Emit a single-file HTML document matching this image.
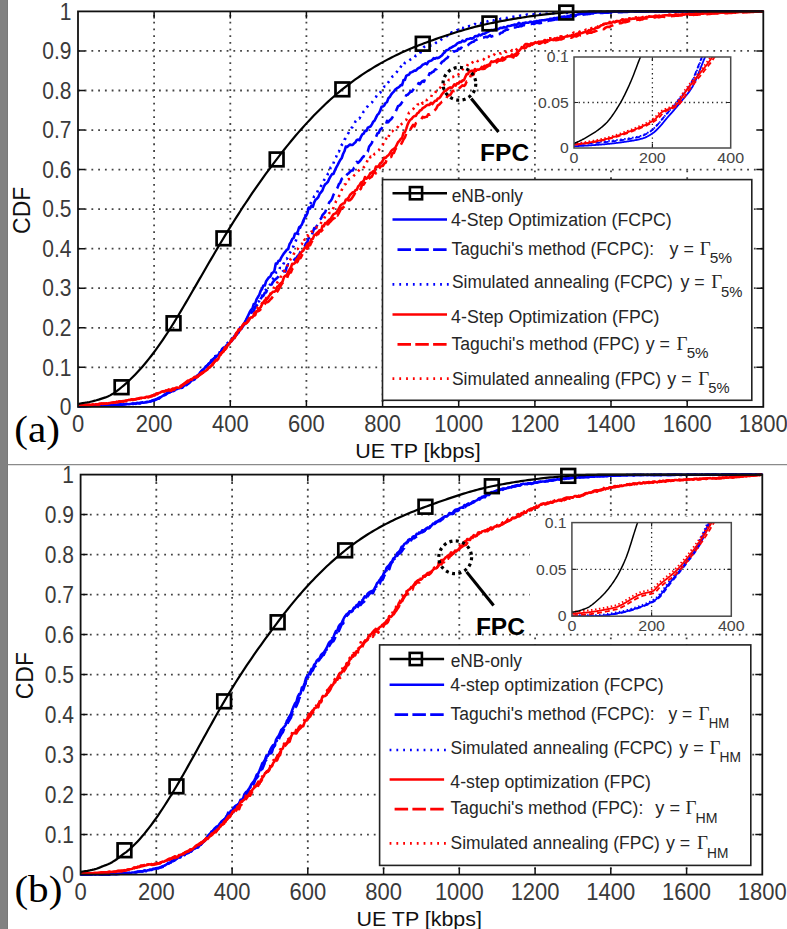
<!DOCTYPE html><html><head><meta charset="utf-8"><style>html,body{margin:0;padding:0;background:#fff;}svg{display:block;}</style></head><body>
<svg width="787" height="929" viewBox="0 0 787 929">
<rect width="787" height="929" fill="#fff"/>
<rect x="0" y="0" width="7" height="929" fill="#818181"/><rect x="7" y="0" width="1" height="929" fill="#797979"/>
<path d="M7.6 464.6 H787" stroke="#8a8a8a" stroke-width="1.2"/>
<path d="M154.1 406.9 V11.4 M230.3 406.9 V11.4 M306.4 406.9 V11.4 M382.6 406.9 V11.4 M458.7 406.9 V11.4 M534.9 406.9 V11.4 M611.0 406.9 V11.4 M687.2 406.9 V11.4" stroke="#444" stroke-width="1.8" stroke-dasharray="1.8 4.96" stroke-dashoffset="1.90" fill="none"/>
<path d="M78.0 367.3 H763.3 M78.0 327.8 H763.3 M78.0 288.2 H763.3 M78.0 248.7 H763.3 M78.0 209.1 H763.3 M78.0 169.6 H763.3 M78.0 130.1 H763.3 M78.0 90.5 H763.3 M78.0 50.9 H763.3" stroke="#444" stroke-width="1.8" stroke-dasharray="1.8 4.96" stroke-dashoffset="0.10" fill="none"/>
<path d="M154.1 406.9 v-7 M154.1 11.4 v7 M230.3 406.9 v-7 M230.3 11.4 v7 M306.4 406.9 v-7 M306.4 11.4 v7 M382.6 406.9 v-7 M382.6 11.4 v7 M458.7 406.9 v-7 M458.7 11.4 v7 M534.9 406.9 v-7 M534.9 11.4 v7 M611.0 406.9 v-7 M611.0 11.4 v7 M687.2 406.9 v-7 M687.2 11.4 v7 M78.0 367.3 h7 M763.3 367.3 h-7 M78.0 327.8 h7 M763.3 327.8 h-7 M78.0 288.2 h7 M763.3 288.2 h-7 M78.0 248.7 h7 M763.3 248.7 h-7 M78.0 209.1 h7 M763.3 209.1 h-7 M78.0 169.6 h7 M763.3 169.6 h-7 M78.0 130.1 h7 M763.3 130.1 h-7 M78.0 90.5 h7 M763.3 90.5 h-7 M78.0 50.9 h7 M763.3 50.9 h-7" stroke="#111" stroke-width="1.5" fill="none"/>
<g fill="none" stroke-linejoin="round">
<path d="M78.00 405.95 L79.37 406.04 L80.75 405.95 L82.12 405.80 L83.49 405.79 L84.87 406.03 L86.24 405.80 L87.61 405.87 L88.99 405.82 L90.36 405.73 L91.73 405.71 L93.11 405.52 L94.48 405.55 L95.85 405.57 L97.23 405.49 L98.60 405.45 L99.97 405.26 L101.35 405.41 L102.72 405.29 L104.09 405.39 L105.47 405.56 L106.84 405.09 L108.21 405.00 L109.59 405.16 L110.96 404.69 L112.33 405.15 L113.71 404.88 L115.08 404.85 L116.45 404.53 L117.83 404.47 L119.20 404.59 L120.57 404.49 L121.95 404.61 L123.32 404.70 L124.69 404.36 L126.07 404.20 L127.44 403.93 L128.81 403.84 L130.19 404.01 L131.56 403.89 L132.93 403.92 L134.31 403.87 L135.68 403.80 L137.05 403.00 L138.43 403.31 L139.80 403.15 L141.17 403.15 L142.55 402.57 L143.92 402.87 L145.29 402.38 L146.67 402.28 L148.04 401.73 L149.41 401.63 L150.79 401.45 L152.16 400.81 L153.53 400.30 L154.91 399.96 L156.28 399.38 L157.65 399.01 L159.03 398.21 L160.40 397.51 L161.77 396.58 L163.15 395.87 L164.52 395.33 L165.89 393.86 L167.27 393.30 L168.64 393.07 L170.01 391.66 L171.39 391.59 L172.76 390.65 L174.13 389.82 L175.51 389.51 L176.88 388.53 L178.25 388.94 L179.63 387.66 L181.00 387.48 L182.37 386.89 L183.75 386.06 L185.12 385.22 L186.49 384.30 L187.87 384.07 L189.24 382.27 L190.61 381.58 L191.99 381.60 L193.36 379.07 L194.73 377.69 L196.11 376.76 L197.48 376.11 L198.85 375.16 L200.23 372.51 L201.60 371.82 L202.97 369.39 L204.35 368.48 L205.72 366.58 L207.09 365.52 L208.47 363.87 L209.84 362.88 L211.21 360.35 L212.59 359.98 L213.96 358.38 L215.33 355.99 L216.71 356.70 L218.08 355.23 L219.45 352.29 L220.83 352.31 L222.20 348.70 L223.57 348.88 L224.95 347.64 L226.32 344.24 L227.69 343.03 L229.07 341.21 L230.44 340.35 L231.81 340.09 L233.19 336.41 L234.56 336.43 L235.93 333.96 L237.31 332.17 L238.68 331.31 L240.05 328.96 L241.43 326.94 L242.80 325.54 L244.17 324.83 L245.55 321.74 L246.92 318.89 L248.29 318.49 L249.67 315.93 L251.04 314.03 L252.42 309.93 L253.79 308.72 L255.16 306.72 L256.54 305.50 L257.91 302.12 L259.28 300.94 L260.66 298.07 L262.03 296.43 L263.40 293.04 L264.78 290.93 L266.15 289.46 L267.52 286.77 L268.90 286.04 L270.27 284.35 L271.64 280.56 L273.02 278.81 L274.39 276.39 L275.76 272.78 L277.14 272.13 L278.51 271.87 L279.88 267.94 L281.26 268.18 L282.63 265.28 L284.00 262.76 L285.38 258.85 L286.75 258.92 L288.12 256.65 L289.50 253.51 L290.87 251.51 L292.24 247.13 L293.62 246.38 L294.99 243.29 L296.36 239.23 L297.74 235.76 L299.11 229.74 L300.48 227.01 L301.86 224.16 L303.23 221.82 L304.60 216.25 L305.98 214.70 L307.35 212.08 L308.72 206.47 L310.10 204.55 L311.47 201.28 L312.84 199.29 L314.22 196.25 L315.59 195.28 L316.96 193.26 L318.34 189.20 L319.71 188.31 L321.08 185.86 L322.46 183.28 L323.83 180.45 L325.20 178.41 L326.58 176.96 L327.95 173.73 L329.32 172.68 L330.70 167.23 L332.07 166.57 L333.44 163.19 L334.82 159.13 L336.19 156.93 L337.56 151.82 L338.94 151.62 L340.31 147.36 L341.68 145.00 L343.06 143.57 L344.43 139.72 L345.80 138.21 L347.18 135.15 L348.55 132.84 L349.92 129.36 L351.30 127.86 L352.67 127.11 L354.04 124.75 L355.42 121.50 L356.79 120.00 L358.16 118.23 L359.54 118.46 L360.91 115.30 L362.28 114.15 L363.66 111.49 L365.03 110.05 L366.40 107.45 L367.78 106.24 L369.15 104.17 L370.52 103.59 L371.90 102.43 L373.27 100.52 L374.64 98.77 L376.02 96.97 L377.39 93.86 L378.76 93.93 L380.14 92.77 L381.51 90.43 L382.88 88.84 L384.26 86.63 L385.63 86.80 L387.00 84.09 L388.38 82.29 L389.75 80.14 L391.12 78.60 L392.50 76.47 L393.87 75.74 L395.24 73.61 L396.62 72.25 L397.99 70.18 L399.36 69.80 L400.74 66.89 L402.11 64.84 L403.48 65.76 L404.86 62.75 L406.23 61.50 L407.60 61.46 L408.98 60.50 L410.35 59.56 L411.72 58.88 L413.10 58.00 L414.47 57.97 L415.84 55.29 L417.22 54.39 L418.59 54.49 L419.96 53.66 L421.34 50.67 L422.71 49.18 L424.08 46.92 L425.46 46.23 L426.83 45.21 L428.20 44.88 L429.58 45.41 L430.95 45.49 L432.32 45.22 L433.70 43.47 L435.07 43.68 L436.44 42.45 L437.82 41.62 L439.19 40.53 L440.56 40.72 L441.94 38.85 L443.31 37.88 L444.68 37.28 L446.06 36.66 L447.43 35.65 L448.80 34.70 L450.18 35.36 L451.55 32.41 L452.92 32.36 L454.30 32.07 L455.67 31.23 L457.04 30.17 L458.42 29.78 L459.79 29.95 L461.16 27.72 L462.54 28.09 L463.91 27.18 L465.28 27.46 L466.66 26.27 L468.03 26.44 L469.40 26.00 L470.78 26.26 L472.15 25.00 L473.52 24.72 L474.90 24.03 L476.27 24.28 L477.64 23.85 L479.02 22.53 L480.39 23.31 L481.76 22.66 L483.14 21.92 L484.51 21.94 L485.88 21.49 L487.26 21.52 L488.63 21.01 L490.00 21.25 L491.38 20.09 L492.75 20.36 L494.12 20.25 L495.50 19.60 L496.87 19.66 L498.24 19.64 L499.62 19.39 L500.99 18.58 L502.36 18.56 L503.74 18.31 L505.11 17.76 L506.48 18.07 L507.86 17.74 L509.23 17.42 L510.60 17.09 L511.98 16.90 L513.35 16.74 L514.72 16.49 L516.10 16.30 L517.47 16.24 L518.84 16.07 L520.22 15.66 L521.59 15.73 L522.96 15.61 L524.34 15.29 L525.71 15.12 L527.08 14.53 L528.46 14.95 L529.83 14.53 L531.20 14.46 L532.58 14.70 L533.95 14.26 L535.32 14.50 L536.70 14.65 L538.07 14.02 L539.44 14.31 L540.82 13.87 L542.19 13.96 L543.56 13.52 L544.94 13.54 L546.31 13.69 L547.68 13.64 L549.06 13.65 L550.43 13.46 L551.80 13.37 L553.18 13.32 L554.55 13.18 L555.92 13.07 L557.30 13.04 L558.67 13.13 L560.04 13.15 L561.42 12.76 L562.79 12.96 L564.16 12.90 L565.54 12.84 L566.91 12.95 L568.28 12.75 L569.66 12.71 L571.03 12.55 L572.40 12.51 L573.78 12.55 L575.15 12.42 L576.52 12.45 L577.90 12.45 L579.27 12.40 L580.64 12.40 L582.02 12.39 L583.39 12.35 L584.76 12.39 L586.14 12.23 L587.51 12.32 L588.88 12.12 L590.26 12.19 L591.63 12.13 L593.01 12.06 L594.38 12.02 L595.75 12.17 L597.13 12.03 L598.50 11.92 L599.87 12.09 L601.25 11.91 L602.62 12.07 L603.99 11.95 L605.37 11.85 L606.74 11.94 L608.11 11.87 L609.49 11.87 L610.86 11.66 L612.23 11.73 L613.61 11.68 L614.98 11.70 L616.35 11.69 L617.73 11.73 L619.10 11.65 L620.47 11.65 L621.85 11.56 L623.22 11.53 L624.59 11.50 L625.97 11.51 L627.34 11.55 L628.71 11.55 L630.09 11.48 L631.46 11.48 L632.83 11.52 L634.21 11.46 L635.58 11.44 L636.95 11.44 L638.33 11.44 L639.70 11.44 L641.07 11.44 L642.45 11.41 L643.82 11.41 L645.19 11.41 L646.57 11.40 L647.94 11.40 L649.31 11.40 L650.69 11.40 L652.06 11.40 L653.43 11.40 L654.81 11.40 L656.18 11.40 L657.55 11.40 L658.93 11.40 L660.30 11.40 L661.67 11.40 L663.05 11.40 L664.42 11.40 L665.79 11.40 L667.17 11.40 L668.54 11.40 L669.91 11.40 L671.29 11.40 L672.66 11.40 L674.03 11.40 L675.41 11.40 L676.78 11.40 L678.15 11.40 L679.53 11.40 L680.90 11.40 L682.27 11.40 L683.65 11.40 L685.02 11.40 L686.39 11.40 L687.77 11.40 L689.14 11.40 L690.51 11.40 L691.89 11.40 L693.26 11.40 L694.63 11.40 L696.01 11.40 L697.38 11.40 L698.75 11.40 L700.13 11.40 L701.50 11.40 L702.87 11.40 L704.25 11.40 L705.62 11.40 L706.99 11.40 L708.37 11.40 L709.74 11.40 L711.11 11.40 L712.49 11.40 L713.86 11.40 L715.23 11.40 L716.61 11.40 L717.98 11.40 L719.35 11.40 L720.73 11.40 L722.10 11.40 L723.47 11.40 L724.85 11.40 L726.22 11.40 L727.59 11.40 L728.97 11.40 L730.34 11.40 L731.71 11.40 L733.09 11.40 L734.46 11.40 L735.83 11.40 L737.21 11.40 L738.58 11.40 L739.95 11.40 L741.33 11.40 L742.70 11.40 L744.07 11.40 L745.45 11.40 L746.82 11.40 L748.19 11.40 L749.57 11.40 L750.94 11.40 L752.31 11.40 L753.69 11.40 L755.06 11.40 L756.43 11.40 L757.81 11.40 L759.18 11.40 L760.55 11.40 L761.93 11.40 L763.30 11.40" stroke="#0000ff" stroke-width="2.6" stroke-dasharray="2.2 4.6"/>
<path d="M78.00 405.97 L79.37 406.13 L80.75 406.09 L82.12 406.11 L83.49 405.89 L84.87 406.16 L86.24 405.72 L87.61 405.93 L88.99 405.78 L90.36 405.80 L91.73 405.57 L93.11 405.91 L94.48 405.67 L95.85 405.63 L97.23 405.41 L98.60 405.62 L99.97 405.46 L101.35 405.49 L102.72 405.33 L104.09 405.21 L105.47 405.37 L106.84 405.02 L108.21 405.00 L109.59 404.99 L110.96 404.88 L112.33 405.04 L113.71 404.90 L115.08 404.95 L116.45 404.79 L117.83 404.61 L119.20 404.72 L120.57 404.61 L121.95 404.58 L123.32 404.52 L124.69 404.42 L126.07 404.23 L127.44 404.32 L128.81 404.00 L130.19 403.66 L131.56 403.71 L132.93 403.77 L134.31 403.78 L135.68 403.63 L137.05 403.04 L138.43 403.21 L139.80 403.19 L141.17 402.87 L142.55 402.30 L143.92 402.52 L145.29 402.20 L146.67 402.02 L148.04 401.89 L149.41 401.77 L150.79 401.26 L152.16 400.86 L153.53 400.26 L154.91 399.76 L156.28 399.22 L157.65 398.75 L159.03 397.85 L160.40 397.53 L161.77 396.06 L163.15 395.43 L164.52 394.84 L165.89 393.75 L167.27 393.18 L168.64 392.05 L170.01 391.26 L171.39 390.40 L172.76 391.22 L174.13 390.69 L175.51 389.76 L176.88 388.93 L178.25 388.06 L179.63 387.69 L181.00 388.06 L182.37 386.64 L183.75 385.44 L185.12 384.97 L186.49 383.97 L187.87 383.63 L189.24 382.79 L190.61 381.71 L191.99 380.65 L193.36 379.71 L194.73 378.59 L196.11 377.73 L197.48 375.81 L198.85 374.51 L200.23 372.47 L201.60 370.92 L202.97 369.98 L204.35 368.82 L205.72 367.54 L207.09 365.47 L208.47 364.25 L209.84 363.08 L211.21 361.41 L212.59 360.41 L213.96 358.13 L215.33 357.44 L216.71 354.89 L218.08 353.99 L219.45 352.41 L220.83 352.10 L222.20 349.77 L223.57 347.88 L224.95 347.59 L226.32 345.60 L227.69 343.87 L229.07 343.36 L230.44 340.58 L231.81 338.61 L233.19 338.30 L234.56 335.78 L235.93 335.43 L237.31 332.80 L238.68 332.36 L240.05 328.52 L241.43 327.35 L242.80 325.92 L244.17 324.67 L245.55 321.11 L246.92 318.57 L248.29 319.71 L249.67 315.11 L251.04 312.69 L252.42 311.68 L253.79 310.87 L255.16 306.99 L256.54 305.76 L257.91 304.02 L259.28 302.47 L260.66 298.83 L262.03 296.57 L263.40 295.81 L264.78 292.83 L266.15 292.41 L267.52 288.80 L268.90 287.70 L270.27 286.19 L271.64 284.43 L273.02 281.92 L274.39 280.43 L275.76 279.08 L277.14 277.92 L278.51 276.49 L279.88 274.51 L281.26 273.41 L282.63 271.54 L284.00 271.03 L285.38 271.59 L286.75 266.87 L288.12 264.33 L289.50 264.52 L290.87 263.54 L292.24 262.07 L293.62 260.51 L294.99 258.81 L296.36 258.29 L297.74 256.05 L299.11 254.81 L300.48 251.85 L301.86 250.55 L303.23 247.90 L304.60 246.58 L305.98 243.39 L307.35 242.01 L308.72 237.87 L310.10 239.59 L311.47 236.04 L312.84 232.15 L314.22 228.14 L315.59 228.43 L316.96 225.67 L318.34 223.46 L319.71 219.43 L321.08 218.55 L322.46 215.11 L323.83 213.64 L325.20 212.15 L326.58 208.18 L327.95 205.51 L329.32 202.14 L330.70 200.87 L332.07 198.68 L333.44 194.81 L334.82 192.46 L336.19 189.81 L337.56 187.63 L338.94 184.01 L340.31 182.53 L341.68 178.96 L343.06 177.88 L344.43 176.72 L345.80 177.60 L347.18 174.25 L348.55 173.34 L349.92 171.88 L351.30 170.50 L352.67 170.57 L354.04 167.82 L355.42 166.99 L356.79 161.92 L358.16 162.85 L359.54 161.51 L360.91 159.87 L362.28 157.74 L363.66 156.56 L365.03 152.16 L366.40 152.64 L367.78 151.60 L369.15 146.53 L370.52 144.97 L371.90 142.84 L373.27 138.90 L374.64 137.46 L376.02 136.87 L377.39 133.52 L378.76 132.85 L380.14 129.58 L381.51 128.72 L382.88 126.06 L384.26 125.83 L385.63 125.59 L387.00 120.86 L388.38 122.06 L389.75 120.33 L391.12 119.29 L392.50 117.21 L393.87 114.88 L395.24 112.40 L396.62 109.46 L397.99 106.20 L399.36 105.55 L400.74 104.26 L402.11 102.11 L403.48 99.73 L404.86 98.80 L406.23 95.20 L407.60 94.85 L408.98 93.36 L410.35 91.81 L411.72 91.62 L413.10 89.93 L414.47 87.51 L415.84 86.35 L417.22 85.98 L418.59 83.05 L419.96 84.24 L421.34 82.32 L422.71 81.05 L424.08 81.77 L425.46 77.04 L426.83 76.99 L428.20 76.81 L429.58 73.33 L430.95 73.16 L432.32 72.01 L433.70 71.45 L435.07 69.59 L436.44 69.32 L437.82 66.28 L439.19 65.66 L440.56 63.95 L441.94 61.91 L443.31 61.20 L444.68 59.92 L446.06 58.60 L447.43 57.91 L448.80 55.50 L450.18 53.52 L451.55 52.55 L452.92 51.32 L454.30 51.58 L455.67 50.92 L457.04 50.69 L458.42 48.61 L459.79 48.98 L461.16 47.61 L462.54 48.50 L463.91 47.90 L465.28 47.08 L466.66 45.80 L468.03 45.07 L469.40 43.76 L470.78 42.92 L472.15 41.95 L473.52 41.79 L474.90 40.39 L476.27 39.83 L477.64 39.17 L479.02 38.41 L480.39 38.60 L481.76 37.97 L483.14 37.79 L484.51 37.17 L485.88 36.73 L487.26 37.29 L488.63 36.25 L490.00 35.26 L491.38 36.68 L492.75 36.09 L494.12 35.81 L495.50 35.19 L496.87 33.93 L498.24 34.20 L499.62 33.94 L500.99 32.68 L502.36 32.51 L503.74 31.01 L505.11 30.62 L506.48 29.44 L507.86 29.61 L509.23 27.50 L510.60 27.89 L511.98 27.57 L513.35 27.49 L514.72 27.42 L516.10 27.17 L517.47 26.61 L518.84 26.59 L520.22 25.93 L521.59 26.10 L522.96 25.33 L524.34 24.98 L525.71 25.35 L527.08 24.44 L528.46 24.72 L529.83 23.98 L531.20 23.98 L532.58 23.48 L533.95 23.94 L535.32 23.37 L536.70 22.58 L538.07 23.01 L539.44 23.20 L540.82 22.90 L542.19 22.80 L543.56 22.40 L544.94 21.60 L546.31 20.81 L547.68 21.07 L549.06 20.58 L550.43 20.44 L551.80 20.14 L553.18 19.92 L554.55 19.64 L555.92 19.18 L557.30 19.34 L558.67 18.46 L560.04 18.20 L561.42 18.20 L562.79 17.67 L564.16 17.76 L565.54 17.45 L566.91 17.02 L568.28 16.85 L569.66 16.66 L571.03 16.49 L572.40 16.25 L573.78 15.73 L575.15 16.13 L576.52 15.46 L577.90 15.38 L579.27 15.01 L580.64 14.86 L582.02 15.27 L583.39 14.48 L584.76 14.36 L586.14 14.24 L587.51 14.15 L588.88 13.79 L590.26 13.83 L591.63 13.36 L593.01 13.42 L594.38 13.08 L595.75 13.37 L597.13 13.39 L598.50 12.98 L599.87 12.88 L601.25 12.91 L602.62 13.03 L603.99 12.83 L605.37 12.64 L606.74 12.66 L608.11 12.58 L609.49 12.52 L610.86 12.54 L612.23 12.43 L613.61 12.45 L614.98 12.09 L616.35 12.24 L617.73 12.10 L619.10 12.17 L620.47 11.97 L621.85 12.12 L623.22 11.86 L624.59 11.88 L625.97 11.69 L627.34 11.87 L628.71 11.74 L630.09 11.68 L631.46 11.60 L632.83 11.65 L634.21 11.59 L635.58 11.65 L636.95 11.57 L638.33 11.49 L639.70 11.45 L641.07 11.47 L642.45 11.40 L643.82 11.40 L645.19 11.42 L646.57 11.43 L647.94 11.41 L649.31 11.40 L650.69 11.40 L652.06 11.40 L653.43 11.40 L654.81 11.40 L656.18 11.40 L657.55 11.40 L658.93 11.40 L660.30 11.40 L661.67 11.40 L663.05 11.40 L664.42 11.40 L665.79 11.40 L667.17 11.40 L668.54 11.40 L669.91 11.40 L671.29 11.40 L672.66 11.40 L674.03 11.40 L675.41 11.40 L676.78 11.40 L678.15 11.40 L679.53 11.40 L680.90 11.40 L682.27 11.40 L683.65 11.40 L685.02 11.40 L686.39 11.40 L687.77 11.40 L689.14 11.40 L690.51 11.40 L691.89 11.40 L693.26 11.40 L694.63 11.40 L696.01 11.40 L697.38 11.40 L698.75 11.40 L700.13 11.40 L701.50 11.40 L702.87 11.40 L704.25 11.40 L705.62 11.40 L706.99 11.40 L708.37 11.40 L709.74 11.40 L711.11 11.40 L712.49 11.40 L713.86 11.40 L715.23 11.40 L716.61 11.40 L717.98 11.40 L719.35 11.40 L720.73 11.40 L722.10 11.40 L723.47 11.40 L724.85 11.40 L726.22 11.40 L727.59 11.40 L728.97 11.40 L730.34 11.40 L731.71 11.40 L733.09 11.40 L734.46 11.40 L735.83 11.40 L737.21 11.40 L738.58 11.40 L739.95 11.40 L741.33 11.40 L742.70 11.40 L744.07 11.40 L745.45 11.40 L746.82 11.40 L748.19 11.40 L749.57 11.40 L750.94 11.40 L752.31 11.40 L753.69 11.40 L755.06 11.40 L756.43 11.40 L757.81 11.40 L759.18 11.40 L760.55 11.40 L761.93 11.40 L763.30 11.40" stroke="#0000ff" stroke-width="2.6" stroke-dasharray="12 6"/>
<path d="M78.00 406.15 L79.37 406.08 L80.75 406.24 L82.12 405.85 L83.49 406.14 L84.87 406.02 L86.24 405.84 L87.61 405.98 L88.99 405.92 L90.36 405.86 L91.73 405.67 L93.11 405.43 L94.48 405.63 L95.85 405.71 L97.23 405.47 L98.60 405.56 L99.97 405.44 L101.35 405.24 L102.72 405.43 L104.09 405.28 L105.47 405.34 L106.84 405.19 L108.21 405.08 L109.59 405.19 L110.96 405.05 L112.33 404.98 L113.71 404.97 L115.08 404.99 L116.45 404.96 L117.83 404.71 L119.20 404.66 L120.57 404.21 L121.95 404.85 L123.32 404.37 L124.69 404.25 L126.07 404.00 L127.44 404.05 L128.81 404.18 L130.19 403.94 L131.56 403.75 L132.93 403.79 L134.31 403.48 L135.68 403.83 L137.05 403.04 L138.43 402.94 L139.80 403.13 L141.17 402.78 L142.55 402.72 L143.92 402.71 L145.29 402.31 L146.67 401.87 L148.04 401.90 L149.41 401.60 L150.79 401.19 L152.16 400.70 L153.53 400.09 L154.91 400.14 L156.28 399.33 L157.65 398.77 L159.03 398.65 L160.40 397.43 L161.77 396.50 L163.15 395.61 L164.52 394.63 L165.89 394.64 L167.27 393.14 L168.64 392.72 L170.01 392.38 L171.39 391.04 L172.76 390.38 L174.13 390.37 L175.51 389.22 L176.88 389.16 L178.25 388.40 L179.63 388.29 L181.00 386.51 L182.37 387.67 L183.75 385.85 L185.12 384.76 L186.49 385.26 L187.87 383.62 L189.24 382.73 L190.61 381.40 L191.99 380.23 L193.36 380.01 L194.73 379.36 L196.11 376.67 L197.48 375.37 L198.85 374.83 L200.23 372.90 L201.60 371.38 L202.97 369.76 L204.35 368.49 L205.72 366.33 L207.09 366.79 L208.47 363.70 L209.84 362.72 L211.21 361.71 L212.59 359.46 L213.96 360.35 L215.33 356.71 L216.71 355.85 L218.08 355.49 L219.45 353.06 L220.83 352.17 L222.20 348.77 L223.57 347.85 L224.95 347.38 L226.32 346.74 L227.69 345.15 L229.07 343.45 L230.44 342.07 L231.81 340.73 L233.19 338.87 L234.56 336.97 L235.93 335.44 L237.31 333.81 L238.68 332.18 L240.05 327.59 L241.43 328.83 L242.80 326.42 L244.17 323.03 L245.55 321.27 L246.92 318.16 L248.29 315.25 L249.67 312.17 L251.04 309.85 L252.42 308.56 L253.79 303.95 L255.16 303.65 L256.54 299.44 L257.91 297.05 L259.28 294.89 L260.66 290.83 L262.03 289.06 L263.40 285.60 L264.78 285.57 L266.15 281.16 L267.52 279.24 L268.90 277.38 L270.27 276.64 L271.64 273.39 L273.02 272.47 L274.39 270.85 L275.76 263.66 L277.14 263.72 L278.51 260.81 L279.88 260.80 L281.26 257.58 L282.63 255.41 L284.00 253.32 L285.38 251.69 L286.75 249.67 L288.12 249.17 L289.50 244.26 L290.87 242.11 L292.24 239.07 L293.62 238.06 L294.99 233.69 L296.36 233.44 L297.74 231.83 L299.11 227.27 L300.48 226.24 L301.86 224.62 L303.23 220.87 L304.60 217.87 L305.98 216.02 L307.35 213.43 L308.72 207.54 L310.10 208.51 L311.47 205.56 L312.84 206.81 L314.22 202.29 L315.59 199.72 L316.96 198.69 L318.34 197.05 L319.71 193.67 L321.08 192.25 L322.46 190.40 L323.83 186.57 L325.20 184.26 L326.58 183.14 L327.95 181.74 L329.32 178.63 L330.70 176.14 L332.07 174.13 L333.44 173.92 L334.82 170.57 L336.19 167.62 L337.56 165.10 L338.94 162.39 L340.31 159.92 L341.68 158.23 L343.06 154.00 L344.43 151.27 L345.80 146.58 L347.18 146.94 L348.55 145.66 L349.92 144.44 L351.30 144.99 L352.67 144.98 L354.04 143.41 L355.42 142.32 L356.79 139.94 L358.16 139.58 L359.54 140.21 L360.91 136.84 L362.28 134.41 L363.66 133.62 L365.03 130.79 L366.40 130.93 L367.78 127.72 L369.15 127.06 L370.52 126.54 L371.90 124.33 L373.27 121.72 L374.64 120.50 L376.02 117.64 L377.39 114.90 L378.76 113.60 L380.14 110.97 L381.51 106.82 L382.88 106.58 L384.26 105.49 L385.63 102.86 L387.00 102.17 L388.38 98.28 L389.75 97.04 L391.12 94.61 L392.50 92.94 L393.87 91.59 L395.24 89.44 L396.62 88.47 L397.99 87.73 L399.36 86.78 L400.74 85.10 L402.11 85.26 L403.48 80.12 L404.86 79.98 L406.23 75.93 L407.60 75.07 L408.98 74.64 L410.35 72.53 L411.72 72.13 L413.10 71.51 L414.47 70.47 L415.84 70.63 L417.22 69.07 L418.59 67.95 L419.96 67.42 L421.34 66.26 L422.71 64.68 L424.08 64.15 L425.46 63.30 L426.83 64.27 L428.20 61.97 L429.58 61.10 L430.95 60.78 L432.32 59.82 L433.70 58.18 L435.07 58.79 L436.44 57.85 L437.82 58.21 L439.19 57.50 L440.56 56.40 L441.94 55.52 L443.31 53.44 L444.68 52.47 L446.06 50.56 L447.43 50.07 L448.80 49.28 L450.18 47.93 L451.55 47.44 L452.92 46.54 L454.30 45.88 L455.67 45.09 L457.04 43.64 L458.42 42.74 L459.79 42.34 L461.16 42.17 L462.54 40.48 L463.91 41.39 L465.28 41.04 L466.66 39.35 L468.03 39.04 L469.40 38.70 L470.78 38.22 L472.15 38.66 L473.52 38.00 L474.90 36.37 L476.27 35.98 L477.64 36.31 L479.02 34.53 L480.39 35.41 L481.76 34.62 L483.14 33.68 L484.51 33.78 L485.88 32.84 L487.26 32.06 L488.63 31.53 L490.00 30.40 L491.38 30.02 L492.75 30.33 L494.12 29.83 L495.50 29.21 L496.87 29.06 L498.24 29.10 L499.62 28.32 L500.99 27.83 L502.36 28.03 L503.74 27.07 L505.11 27.57 L506.48 27.14 L507.86 25.93 L509.23 26.04 L510.60 25.76 L511.98 25.20 L513.35 25.08 L514.72 24.47 L516.10 24.87 L517.47 24.26 L518.84 22.82 L520.22 23.67 L521.59 24.16 L522.96 23.12 L524.34 22.94 L525.71 22.47 L527.08 22.69 L528.46 22.76 L529.83 21.89 L531.20 21.91 L532.58 22.50 L533.95 21.48 L535.32 21.58 L536.70 20.95 L538.07 21.20 L539.44 20.64 L540.82 20.61 L542.19 20.29 L543.56 20.26 L544.94 20.16 L546.31 19.81 L547.68 19.43 L549.06 19.27 L550.43 18.73 L551.80 18.83 L553.18 18.55 L554.55 17.93 L555.92 18.22 L557.30 17.86 L558.67 17.89 L560.04 17.48 L561.42 16.84 L562.79 16.91 L564.16 16.40 L565.54 16.72 L566.91 16.55 L568.28 15.94 L569.66 16.06 L571.03 15.01 L572.40 15.09 L573.78 15.36 L575.15 14.94 L576.52 14.79 L577.90 14.39 L579.27 14.26 L580.64 13.88 L582.02 13.60 L583.39 13.67 L584.76 13.63 L586.14 13.23 L587.51 13.19 L588.88 12.91 L590.26 12.99 L591.63 12.79 L593.01 12.78 L594.38 12.76 L595.75 12.72 L597.13 12.52 L598.50 12.26 L599.87 12.37 L601.25 12.41 L602.62 12.26 L603.99 12.26 L605.37 12.32 L606.74 12.12 L608.11 11.96 L609.49 12.06 L610.86 12.07 L612.23 11.90 L613.61 11.76 L614.98 11.78 L616.35 11.73 L617.73 11.61 L619.10 11.62 L620.47 11.63 L621.85 11.65 L623.22 11.60 L624.59 11.58 L625.97 11.51 L627.34 11.55 L628.71 11.45 L630.09 11.47 L631.46 11.46 L632.83 11.42 L634.21 11.46 L635.58 11.42 L636.95 11.41 L638.33 11.40 L639.70 11.40 L641.07 11.40 L642.45 11.40 L643.82 11.40 L645.19 11.40 L646.57 11.40 L647.94 11.40 L649.31 11.40 L650.69 11.40 L652.06 11.40 L653.43 11.40 L654.81 11.40 L656.18 11.40 L657.55 11.40 L658.93 11.40 L660.30 11.40 L661.67 11.40 L663.05 11.40 L664.42 11.40 L665.79 11.40 L667.17 11.40 L668.54 11.40 L669.91 11.40 L671.29 11.40 L672.66 11.40 L674.03 11.40 L675.41 11.40 L676.78 11.40 L678.15 11.40 L679.53 11.40 L680.90 11.40 L682.27 11.40 L683.65 11.40 L685.02 11.40 L686.39 11.40 L687.77 11.40 L689.14 11.40 L690.51 11.40 L691.89 11.40 L693.26 11.40 L694.63 11.40 L696.01 11.40 L697.38 11.40 L698.75 11.40 L700.13 11.40 L701.50 11.40 L702.87 11.40 L704.25 11.40 L705.62 11.40 L706.99 11.40 L708.37 11.40 L709.74 11.40 L711.11 11.40 L712.49 11.40 L713.86 11.40 L715.23 11.40 L716.61 11.40 L717.98 11.40 L719.35 11.40 L720.73 11.40 L722.10 11.40 L723.47 11.40 L724.85 11.40 L726.22 11.40 L727.59 11.40 L728.97 11.40 L730.34 11.40 L731.71 11.40 L733.09 11.40 L734.46 11.40 L735.83 11.40 L737.21 11.40 L738.58 11.40 L739.95 11.40 L741.33 11.40 L742.70 11.40 L744.07 11.40 L745.45 11.40 L746.82 11.40 L748.19 11.40 L749.57 11.40 L750.94 11.40 L752.31 11.40 L753.69 11.40 L755.06 11.40 L756.43 11.40 L757.81 11.40 L759.18 11.40 L760.55 11.40 L761.93 11.40 L763.30 11.40" stroke="#0000ff" stroke-width="2.6"/>
<path d="M78.00 405.09 L79.37 405.22 L80.75 405.22 L82.12 405.42 L83.49 405.15 L84.87 405.10 L86.24 404.99 L87.61 404.99 L88.99 404.82 L90.36 404.80 L91.73 404.83 L93.11 404.40 L94.48 404.30 L95.85 404.06 L97.23 404.22 L98.60 404.18 L99.97 404.10 L101.35 404.15 L102.72 403.60 L104.09 403.85 L105.47 403.73 L106.84 403.41 L108.21 402.94 L109.59 403.01 L110.96 403.09 L112.33 402.86 L113.71 402.40 L115.08 402.37 L116.45 402.30 L117.83 401.98 L119.20 401.56 L120.57 401.06 L121.95 401.59 L123.32 401.23 L124.69 401.06 L126.07 401.24 L127.44 400.65 L128.81 400.46 L130.19 399.68 L131.56 399.79 L132.93 399.97 L134.31 399.15 L135.68 399.21 L137.05 399.38 L138.43 398.84 L139.80 398.61 L141.17 398.46 L142.55 397.95 L143.92 398.38 L145.29 397.52 L146.67 396.84 L148.04 396.59 L149.41 396.19 L150.79 395.85 L152.16 395.36 L153.53 395.79 L154.91 394.60 L156.28 394.94 L157.65 393.87 L159.03 393.71 L160.40 392.01 L161.77 391.35 L163.15 391.48 L164.52 390.35 L165.89 390.98 L167.27 390.37 L168.64 390.11 L170.01 390.34 L171.39 389.48 L172.76 388.58 L174.13 389.46 L175.51 388.29 L176.88 388.28 L178.25 386.87 L179.63 386.67 L181.00 385.74 L182.37 384.82 L183.75 384.04 L185.12 383.86 L186.49 381.63 L187.87 382.13 L189.24 380.57 L190.61 379.64 L191.99 379.64 L193.36 378.42 L194.73 377.15 L196.11 377.00 L197.48 376.64 L198.85 376.87 L200.23 374.93 L201.60 373.79 L202.97 372.78 L204.35 372.02 L205.72 370.20 L207.09 369.63 L208.47 368.19 L209.84 366.50 L211.21 366.12 L212.59 364.41 L213.96 361.43 L215.33 360.72 L216.71 360.53 L218.08 358.13 L219.45 356.04 L220.83 353.88 L222.20 352.86 L223.57 351.55 L224.95 349.90 L226.32 347.11 L227.69 345.50 L229.07 344.25 L230.44 342.17 L231.81 340.48 L233.19 337.79 L234.56 337.02 L235.93 334.31 L237.31 332.23 L238.68 330.74 L240.05 330.03 L241.43 326.62 L242.80 326.56 L244.17 324.03 L245.55 323.36 L246.92 322.57 L248.29 319.38 L249.67 317.75 L251.04 316.48 L252.42 314.62 L253.79 313.84 L255.16 312.35 L256.54 310.30 L257.91 306.94 L259.28 306.28 L260.66 305.82 L262.03 303.26 L263.40 302.51 L264.78 300.82 L266.15 297.96 L267.52 297.44 L268.90 296.70 L270.27 294.21 L271.64 291.46 L273.02 289.53 L274.39 286.56 L275.76 286.28 L277.14 282.78 L278.51 280.78 L279.88 278.94 L281.26 275.60 L282.63 273.43 L284.00 272.19 L285.38 267.84 L286.75 267.48 L288.12 263.75 L289.50 261.33 L290.87 258.49 L292.24 257.24 L293.62 254.30 L294.99 252.22 L296.36 249.06 L297.74 248.87 L299.11 246.20 L300.48 244.78 L301.86 244.11 L303.23 238.62 L304.60 239.74 L305.98 239.61 L307.35 235.31 L308.72 236.31 L310.10 233.49 L311.47 231.62 L312.84 231.73 L314.22 230.14 L315.59 228.88 L316.96 227.09 L318.34 227.17 L319.71 225.36 L321.08 222.83 L322.46 220.17 L323.83 219.04 L325.20 216.36 L326.58 215.73 L327.95 215.20 L329.32 213.02 L330.70 213.02 L332.07 210.00 L333.44 207.84 L334.82 204.04 L336.19 200.91 L337.56 199.21 L338.94 196.29 L340.31 194.32 L341.68 190.12 L343.06 187.15 L344.43 184.64 L345.80 183.90 L347.18 179.64 L348.55 179.10 L349.92 179.19 L351.30 178.51 L352.67 177.18 L354.04 175.51 L355.42 174.42 L356.79 172.68 L358.16 171.20 L359.54 169.51 L360.91 168.83 L362.28 169.19 L363.66 167.41 L365.03 165.94 L366.40 163.63 L367.78 159.26 L369.15 160.16 L370.52 156.66 L371.90 157.81 L373.27 156.04 L374.64 153.83 L376.02 153.29 L377.39 151.28 L378.76 150.13 L380.14 148.53 L381.51 146.37 L382.88 144.82 L384.26 140.59 L385.63 140.12 L387.00 135.99 L388.38 137.64 L389.75 133.25 L391.12 131.45 L392.50 131.16 L393.87 128.96 L395.24 128.44 L396.62 128.26 L397.99 126.66 L399.36 123.57 L400.74 124.84 L402.11 123.63 L403.48 122.85 L404.86 120.58 L406.23 119.88 L407.60 116.91 L408.98 112.66 L410.35 112.12 L411.72 111.01 L413.10 109.26 L414.47 107.31 L415.84 107.15 L417.22 104.61 L418.59 104.15 L419.96 103.64 L421.34 101.19 L422.71 103.58 L424.08 101.25 L425.46 99.82 L426.83 100.10 L428.20 98.77 L429.58 98.38 L430.95 97.47 L432.32 93.59 L433.70 93.90 L435.07 92.96 L436.44 90.40 L437.82 90.30 L439.19 88.16 L440.56 87.36 L441.94 85.17 L443.31 86.35 L444.68 83.51 L446.06 82.86 L447.43 82.70 L448.80 79.89 L450.18 80.22 L451.55 77.26 L452.92 76.99 L454.30 75.78 L455.67 75.17 L457.04 73.52 L458.42 74.43 L459.79 71.92 L461.16 71.28 L462.54 69.49 L463.91 68.57 L465.28 66.98 L466.66 66.89 L468.03 64.02 L469.40 62.73 L470.78 63.53 L472.15 62.60 L473.52 61.70 L474.90 60.48 L476.27 59.59 L477.64 61.20 L479.02 60.43 L480.39 60.36 L481.76 60.02 L483.14 59.96 L484.51 58.25 L485.88 58.78 L487.26 56.64 L488.63 56.57 L490.00 57.34 L491.38 56.89 L492.75 56.17 L494.12 54.47 L495.50 55.42 L496.87 55.38 L498.24 54.04 L499.62 53.33 L500.99 53.51 L502.36 51.70 L503.74 52.12 L505.11 51.60 L506.48 52.03 L507.86 51.22 L509.23 51.00 L510.60 51.98 L511.98 50.19 L513.35 51.14 L514.72 49.81 L516.10 50.34 L517.47 47.95 L518.84 48.52 L520.22 47.73 L521.59 47.14 L522.96 47.81 L524.34 47.71 L525.71 45.97 L527.08 44.67 L528.46 44.51 L529.83 43.58 L531.20 43.02 L532.58 43.91 L533.95 42.56 L535.32 41.29 L536.70 42.27 L538.07 42.68 L539.44 41.40 L540.82 41.20 L542.19 40.43 L543.56 40.80 L544.94 40.00 L546.31 40.88 L547.68 39.03 L549.06 38.38 L550.43 38.24 L551.80 39.37 L553.18 38.16 L554.55 39.51 L555.92 37.59 L557.30 37.46 L558.67 37.60 L560.04 36.63 L561.42 36.40 L562.79 35.67 L564.16 35.71 L565.54 35.31 L566.91 35.99 L568.28 35.26 L569.66 34.59 L571.03 33.88 L572.40 33.66 L573.78 32.62 L575.15 33.33 L576.52 32.68 L577.90 32.09 L579.27 31.93 L580.64 31.24 L582.02 31.32 L583.39 30.08 L584.76 30.44 L586.14 29.44 L587.51 29.52 L588.88 28.49 L590.26 29.26 L591.63 28.07 L593.01 28.02 L594.38 27.30 L595.75 26.44 L597.13 26.81 L598.50 26.34 L599.87 25.67 L601.25 24.68 L602.62 24.91 L603.99 23.71 L605.37 23.70 L606.74 23.21 L608.11 22.57 L609.49 22.00 L610.86 22.04 L612.23 21.72 L613.61 21.31 L614.98 21.12 L616.35 21.59 L617.73 20.66 L619.10 20.27 L620.47 19.74 L621.85 19.25 L623.22 19.42 L624.59 19.37 L625.97 19.45 L627.34 18.96 L628.71 18.57 L630.09 18.25 L631.46 18.63 L632.83 18.16 L634.21 17.83 L635.58 17.40 L636.95 17.64 L638.33 17.67 L639.70 17.55 L641.07 17.31 L642.45 17.23 L643.82 16.74 L645.19 16.55 L646.57 16.50 L647.94 16.26 L649.31 16.50 L650.69 16.19 L652.06 16.24 L653.43 16.03 L654.81 15.67 L656.18 15.82 L657.55 16.09 L658.93 15.65 L660.30 15.64 L661.67 15.70 L663.05 15.45 L664.42 15.01 L665.79 14.78 L667.17 15.10 L668.54 14.73 L669.91 14.61 L671.29 14.94 L672.66 14.65 L674.03 14.57 L675.41 14.44 L676.78 14.66 L678.15 14.37 L679.53 14.05 L680.90 13.94 L682.27 13.78 L683.65 14.05 L685.02 13.63 L686.39 13.75 L687.77 13.99 L689.14 13.59 L690.51 13.69 L691.89 13.50 L693.26 13.52 L694.63 13.27 L696.01 13.34 L697.38 13.35 L698.75 13.12 L700.13 13.16 L701.50 13.19 L702.87 12.91 L704.25 13.07 L705.62 13.05 L706.99 12.98 L708.37 13.04 L709.74 12.87 L711.11 12.54 L712.49 12.81 L713.86 12.66 L715.23 12.73 L716.61 12.63 L717.98 12.36 L719.35 12.38 L720.73 12.49 L722.10 12.38 L723.47 12.42 L724.85 12.37 L726.22 12.34 L727.59 12.29 L728.97 12.14 L730.34 12.08 L731.71 12.05 L733.09 12.06 L734.46 12.11 L735.83 11.97 L737.21 12.00 L738.58 11.83 L739.95 11.82 L741.33 11.78 L742.70 11.81 L744.07 11.86 L745.45 11.67 L746.82 11.63 L748.19 11.74 L749.57 11.63 L750.94 11.55 L752.31 11.62 L753.69 11.48 L755.06 11.54 L756.43 11.54 L757.81 11.44 L759.18 11.45 L760.55 11.45 L761.93 11.41 L763.30 11.40" stroke="#ff0000" stroke-width="2.6" stroke-dasharray="2.2 4.6"/>
<path d="M78.00 405.31 L79.37 405.21 L80.75 405.36 L82.12 405.09 L83.49 405.17 L84.87 405.26 L86.24 405.07 L87.61 404.82 L88.99 404.77 L90.36 404.90 L91.73 404.54 L93.11 404.55 L94.48 404.37 L95.85 404.28 L97.23 404.41 L98.60 404.06 L99.97 404.11 L101.35 403.62 L102.72 403.64 L104.09 403.64 L105.47 403.70 L106.84 403.37 L108.21 403.19 L109.59 403.30 L110.96 402.45 L112.33 402.63 L113.71 402.18 L115.08 402.57 L116.45 401.78 L117.83 402.23 L119.20 401.87 L120.57 401.39 L121.95 401.29 L123.32 401.64 L124.69 401.13 L126.07 400.43 L127.44 399.89 L128.81 399.96 L130.19 400.05 L131.56 399.55 L132.93 399.85 L134.31 399.19 L135.68 399.48 L137.05 398.89 L138.43 398.71 L139.80 398.21 L141.17 398.29 L142.55 397.61 L143.92 397.76 L145.29 397.18 L146.67 396.91 L148.04 397.43 L149.41 396.53 L150.79 396.19 L152.16 396.10 L153.53 395.36 L154.91 395.39 L156.28 394.10 L157.65 393.47 L159.03 392.90 L160.40 391.48 L161.77 391.72 L163.15 391.38 L164.52 391.32 L165.89 390.60 L167.27 390.81 L168.64 389.67 L170.01 390.18 L171.39 389.59 L172.76 388.55 L174.13 388.56 L175.51 388.56 L176.88 387.64 L178.25 387.65 L179.63 386.54 L181.00 386.03 L182.37 385.52 L183.75 383.96 L185.12 382.77 L186.49 382.46 L187.87 381.99 L189.24 380.95 L190.61 381.13 L191.99 379.53 L193.36 379.04 L194.73 376.71 L196.11 377.28 L197.48 376.99 L198.85 374.84 L200.23 374.50 L201.60 373.44 L202.97 372.38 L204.35 371.36 L205.72 370.63 L207.09 368.74 L208.47 367.82 L209.84 367.20 L211.21 365.69 L212.59 364.77 L213.96 362.55 L215.33 360.71 L216.71 359.16 L218.08 357.52 L219.45 356.29 L220.83 353.40 L222.20 352.81 L223.57 350.84 L224.95 349.25 L226.32 347.11 L227.69 345.47 L229.07 341.96 L230.44 341.27 L231.81 340.98 L233.19 338.23 L234.56 337.17 L235.93 333.65 L237.31 331.53 L238.68 331.25 L240.05 328.78 L241.43 327.86 L242.80 325.83 L244.17 323.28 L245.55 323.49 L246.92 322.77 L248.29 319.78 L249.67 318.55 L251.04 317.06 L252.42 315.41 L253.79 315.50 L255.16 315.25 L256.54 311.41 L257.91 311.32 L259.28 310.68 L260.66 309.34 L262.03 306.05 L263.40 305.53 L264.78 304.08 L266.15 302.25 L267.52 302.20 L268.90 301.20 L270.27 299.54 L271.64 298.32 L273.02 296.12 L274.39 295.15 L275.76 292.77 L277.14 291.65 L278.51 289.65 L279.88 287.31 L281.26 284.86 L282.63 282.87 L284.00 282.26 L285.38 280.17 L286.75 278.78 L288.12 275.27 L289.50 272.63 L290.87 272.45 L292.24 268.99 L293.62 267.82 L294.99 265.47 L296.36 262.95 L297.74 261.35 L299.11 257.97 L300.48 258.18 L301.86 255.37 L303.23 252.84 L304.60 251.83 L305.98 248.64 L307.35 248.70 L308.72 245.46 L310.10 245.22 L311.47 242.30 L312.84 240.03 L314.22 236.76 L315.59 236.28 L316.96 234.18 L318.34 234.15 L319.71 230.61 L321.08 231.42 L322.46 229.93 L323.83 229.45 L325.20 226.49 L326.58 224.20 L327.95 224.40 L329.32 222.67 L330.70 221.30 L332.07 219.71 L333.44 218.50 L334.82 217.78 L336.19 213.60 L337.56 215.43 L338.94 212.90 L340.31 210.13 L341.68 207.95 L343.06 207.62 L344.43 206.15 L345.80 204.27 L347.18 203.02 L348.55 200.33 L349.92 200.12 L351.30 199.05 L352.67 196.98 L354.04 194.86 L355.42 192.19 L356.79 190.27 L358.16 190.70 L359.54 190.21 L360.91 188.60 L362.28 183.63 L363.66 184.61 L365.03 182.27 L366.40 179.37 L367.78 180.45 L369.15 178.53 L370.52 177.48 L371.90 176.59 L373.27 173.41 L374.64 171.85 L376.02 173.40 L377.39 169.27 L378.76 169.04 L380.14 167.22 L381.51 165.80 L382.88 165.85 L384.26 163.49 L385.63 162.73 L387.00 158.52 L388.38 156.81 L389.75 157.35 L391.12 157.04 L392.50 153.26 L393.87 152.94 L395.24 149.46 L396.62 147.54 L397.99 146.04 L399.36 146.13 L400.74 144.76 L402.11 142.42 L403.48 139.47 L404.86 137.56 L406.23 133.52 L407.60 132.09 L408.98 130.91 L410.35 129.54 L411.72 127.01 L413.10 124.88 L414.47 126.46 L415.84 123.26 L417.22 122.57 L418.59 121.91 L419.96 120.58 L421.34 119.24 L422.71 116.82 L424.08 117.50 L425.46 117.00 L426.83 116.82 L428.20 114.26 L429.58 114.76 L430.95 113.33 L432.32 111.65 L433.70 111.11 L435.07 110.07 L436.44 108.15 L437.82 105.46 L439.19 104.66 L440.56 103.15 L441.94 101.84 L443.31 101.35 L444.68 99.65 L446.06 98.88 L447.43 96.19 L448.80 94.94 L450.18 95.14 L451.55 92.78 L452.92 90.81 L454.30 91.06 L455.67 90.48 L457.04 88.59 L458.42 89.39 L459.79 87.67 L461.16 86.44 L462.54 85.36 L463.91 85.83 L465.28 84.85 L466.66 81.46 L468.03 81.73 L469.40 79.46 L470.78 75.33 L472.15 75.17 L473.52 74.66 L474.90 70.19 L476.27 70.81 L477.64 70.76 L479.02 68.61 L480.39 70.19 L481.76 68.62 L483.14 69.05 L484.51 68.66 L485.88 67.43 L487.26 66.64 L488.63 65.74 L490.00 65.16 L491.38 65.63 L492.75 64.62 L494.12 62.53 L495.50 62.68 L496.87 62.32 L498.24 60.86 L499.62 60.27 L500.99 59.85 L502.36 60.59 L503.74 60.06 L505.11 58.90 L506.48 58.19 L507.86 59.28 L509.23 58.36 L510.60 57.80 L511.98 56.61 L513.35 57.50 L514.72 54.62 L516.10 55.69 L517.47 54.64 L518.84 52.58 L520.22 52.26 L521.59 50.86 L522.96 50.15 L524.34 48.37 L525.71 47.90 L527.08 46.29 L528.46 45.64 L529.83 45.85 L531.20 44.48 L532.58 44.56 L533.95 45.62 L535.32 43.93 L536.70 44.57 L538.07 43.41 L539.44 43.81 L540.82 43.21 L542.19 42.45 L543.56 41.31 L544.94 42.84 L546.31 41.94 L547.68 41.66 L549.06 40.65 L550.43 41.09 L551.80 40.49 L553.18 39.78 L554.55 39.83 L555.92 40.19 L557.30 39.95 L558.67 39.62 L560.04 39.16 L561.42 39.42 L562.79 38.75 L564.16 38.17 L565.54 38.41 L566.91 38.14 L568.28 37.48 L569.66 36.96 L571.03 37.72 L572.40 37.27 L573.78 35.89 L575.15 36.24 L576.52 36.47 L577.90 35.60 L579.27 34.62 L580.64 35.36 L582.02 35.22 L583.39 34.58 L584.76 33.42 L586.14 34.14 L587.51 33.27 L588.88 32.72 L590.26 32.55 L591.63 32.63 L593.01 31.83 L594.38 31.67 L595.75 31.00 L597.13 30.75 L598.50 30.39 L599.87 30.67 L601.25 29.15 L602.62 28.92 L603.99 29.15 L605.37 27.78 L606.74 27.10 L608.11 26.72 L609.49 27.07 L610.86 25.94 L612.23 25.57 L613.61 24.93 L614.98 25.27 L616.35 24.03 L617.73 23.63 L619.10 23.30 L620.47 23.21 L621.85 22.92 L623.22 22.26 L624.59 22.15 L625.97 22.15 L627.34 21.64 L628.71 21.25 L630.09 20.83 L631.46 20.79 L632.83 20.91 L634.21 20.57 L635.58 20.12 L636.95 19.86 L638.33 19.43 L639.70 20.02 L641.07 19.47 L642.45 19.37 L643.82 18.57 L645.19 18.45 L646.57 18.38 L647.94 18.07 L649.31 18.24 L650.69 17.80 L652.06 17.75 L653.43 17.58 L654.81 17.48 L656.18 17.08 L657.55 16.91 L658.93 17.36 L660.30 17.03 L661.67 16.77 L663.05 16.54 L664.42 16.91 L665.79 16.65 L667.17 16.40 L668.54 15.85 L669.91 16.31 L671.29 16.11 L672.66 15.94 L674.03 15.85 L675.41 15.71 L676.78 15.66 L678.15 15.60 L679.53 15.42 L680.90 15.33 L682.27 15.23 L683.65 15.15 L685.02 15.37 L686.39 15.03 L687.77 14.96 L689.14 14.77 L690.51 14.71 L691.89 14.49 L693.26 14.84 L694.63 14.65 L696.01 14.52 L697.38 14.59 L698.75 14.46 L700.13 14.41 L701.50 14.36 L702.87 13.84 L704.25 14.16 L705.62 13.84 L706.99 14.15 L708.37 13.91 L709.74 13.98 L711.11 13.76 L712.49 13.50 L713.86 13.39 L715.23 13.50 L716.61 13.48 L717.98 13.48 L719.35 13.35 L720.73 13.15 L722.10 13.48 L723.47 13.24 L724.85 13.25 L726.22 12.93 L727.59 13.15 L728.97 12.82 L730.34 12.99 L731.71 12.92 L733.09 12.56 L734.46 12.55 L735.83 12.69 L737.21 12.71 L738.58 12.56 L739.95 12.34 L741.33 12.34 L742.70 12.36 L744.07 12.17 L745.45 12.04 L746.82 12.18 L748.19 12.04 L749.57 12.03 L750.94 11.84 L752.31 11.85 L753.69 11.84 L755.06 11.83 L756.43 11.64 L757.81 11.64 L759.18 11.56 L760.55 11.52 L761.93 11.45 L763.30 11.40" stroke="#ff0000" stroke-width="2.6" stroke-dasharray="12 6"/>
<path d="M78.00 405.26 L79.37 405.32 L80.75 404.92 L82.12 405.21 L83.49 405.10 L84.87 404.84 L86.24 405.10 L87.61 404.98 L88.99 404.79 L90.36 404.78 L91.73 404.81 L93.11 404.57 L94.48 404.49 L95.85 404.24 L97.23 404.50 L98.60 404.23 L99.97 403.81 L101.35 403.57 L102.72 404.04 L104.09 403.53 L105.47 403.70 L106.84 403.53 L108.21 403.39 L109.59 403.14 L110.96 402.69 L112.33 402.57 L113.71 402.51 L115.08 402.41 L116.45 402.14 L117.83 401.96 L119.20 401.55 L120.57 401.66 L121.95 401.30 L123.32 401.10 L124.69 400.87 L126.07 400.58 L127.44 400.37 L128.81 399.85 L130.19 400.00 L131.56 399.34 L132.93 399.62 L134.31 399.45 L135.68 399.08 L137.05 398.79 L138.43 398.59 L139.80 398.07 L141.17 397.88 L142.55 397.82 L143.92 397.81 L145.29 397.47 L146.67 396.72 L148.04 396.79 L149.41 396.95 L150.79 396.43 L152.16 396.04 L153.53 395.04 L154.91 394.93 L156.28 393.50 L157.65 393.42 L159.03 392.96 L160.40 392.56 L161.77 391.48 L163.15 391.50 L164.52 391.35 L165.89 390.49 L167.27 390.43 L168.64 389.70 L170.01 389.95 L171.39 390.81 L172.76 389.04 L174.13 389.81 L175.51 388.02 L176.88 387.45 L178.25 387.80 L179.63 387.39 L181.00 386.65 L182.37 384.72 L183.75 384.25 L185.12 383.49 L186.49 382.41 L187.87 380.45 L189.24 380.52 L190.61 379.58 L191.99 378.83 L193.36 377.98 L194.73 377.21 L196.11 377.36 L197.48 376.29 L198.85 375.71 L200.23 374.79 L201.60 372.84 L202.97 372.77 L204.35 371.52 L205.72 370.81 L207.09 369.64 L208.47 367.67 L209.84 367.17 L211.21 365.89 L212.59 363.90 L213.96 362.44 L215.33 360.72 L216.71 359.53 L218.08 359.14 L219.45 355.89 L220.83 354.25 L222.20 352.12 L223.57 351.60 L224.95 347.44 L226.32 348.23 L227.69 344.99 L229.07 343.62 L230.44 342.16 L231.81 339.34 L233.19 338.32 L234.56 338.06 L235.93 335.39 L237.31 332.38 L238.68 329.26 L240.05 330.48 L241.43 327.70 L242.80 324.93 L244.17 324.02 L245.55 323.26 L246.92 322.59 L248.29 321.37 L249.67 319.03 L251.04 317.23 L252.42 317.33 L253.79 315.40 L255.16 312.26 L256.54 311.40 L257.91 310.23 L259.28 308.47 L260.66 307.35 L262.03 304.38 L263.40 302.26 L264.78 300.38 L266.15 300.05 L267.52 298.48 L268.90 296.29 L270.27 294.46 L271.64 293.10 L273.02 291.69 L274.39 291.69 L275.76 290.87 L277.14 286.90 L278.51 286.00 L279.88 284.12 L281.26 282.99 L282.63 281.43 L284.00 276.95 L285.38 275.81 L286.75 275.20 L288.12 271.78 L289.50 269.79 L290.87 267.51 L292.24 263.81 L293.62 263.89 L294.99 263.02 L296.36 259.73 L297.74 258.37 L299.11 255.25 L300.48 253.63 L301.86 251.61 L303.23 250.65 L304.60 247.91 L305.98 247.06 L307.35 244.34 L308.72 243.43 L310.10 242.55 L311.47 239.32 L312.84 238.85 L314.22 235.13 L315.59 234.50 L316.96 232.88 L318.34 231.66 L319.71 230.25 L321.08 230.98 L322.46 225.88 L323.83 226.34 L325.20 223.06 L326.58 223.09 L327.95 221.07 L329.32 219.62 L330.70 218.89 L332.07 216.49 L333.44 214.31 L334.82 213.64 L336.19 212.92 L337.56 210.68 L338.94 208.29 L340.31 205.82 L341.68 204.55 L343.06 203.51 L344.43 203.20 L345.80 199.75 L347.18 199.04 L348.55 197.73 L349.92 195.03 L351.30 193.75 L352.67 192.31 L354.04 192.38 L355.42 190.30 L356.79 189.83 L358.16 186.43 L359.54 185.07 L360.91 182.66 L362.28 181.85 L363.66 180.92 L365.03 177.01 L366.40 178.63 L367.78 177.51 L369.15 175.43 L370.52 172.98 L371.90 172.49 L373.27 171.22 L374.64 170.50 L376.02 166.55 L377.39 167.06 L378.76 165.94 L380.14 163.45 L381.51 162.57 L382.88 160.53 L384.26 157.64 L385.63 158.00 L387.00 156.30 L388.38 155.23 L389.75 153.62 L391.12 151.13 L392.50 149.81 L393.87 148.96 L395.24 147.74 L396.62 145.14 L397.99 142.28 L399.36 140.99 L400.74 138.87 L402.11 137.99 L403.48 132.79 L404.86 132.28 L406.23 128.86 L407.60 124.62 L408.98 121.60 L410.35 119.72 L411.72 118.81 L413.10 117.00 L414.47 115.98 L415.84 115.85 L417.22 113.36 L418.59 112.60 L419.96 110.56 L421.34 110.03 L422.71 108.12 L424.08 107.42 L425.46 106.36 L426.83 105.22 L428.20 104.84 L429.58 104.83 L430.95 102.85 L432.32 104.03 L433.70 102.49 L435.07 100.85 L436.44 100.72 L437.82 98.56 L439.19 98.32 L440.56 96.58 L441.94 94.27 L443.31 92.73 L444.68 90.93 L446.06 90.62 L447.43 89.23 L448.80 88.05 L450.18 87.34 L451.55 87.95 L452.92 86.64 L454.30 84.32 L455.67 85.58 L457.04 83.39 L458.42 83.45 L459.79 81.58 L461.16 82.05 L462.54 80.37 L463.91 80.38 L465.28 76.96 L466.66 74.09 L468.03 74.08 L469.40 70.80 L470.78 71.45 L472.15 70.50 L473.52 72.04 L474.90 69.01 L476.27 70.08 L477.64 69.50 L479.02 69.60 L480.39 68.90 L481.76 66.88 L483.14 67.44 L484.51 65.87 L485.88 65.98 L487.26 65.00 L488.63 64.94 L490.00 63.62 L491.38 61.45 L492.75 62.01 L494.12 61.41 L495.50 61.41 L496.87 59.88 L498.24 59.18 L499.62 60.73 L500.99 60.13 L502.36 57.50 L503.74 58.18 L505.11 57.95 L506.48 57.22 L507.86 56.45 L509.23 56.19 L510.60 56.37 L511.98 54.41 L513.35 55.09 L514.72 54.92 L516.10 53.73 L517.47 52.22 L518.84 51.02 L520.22 49.58 L521.59 47.66 L522.96 48.01 L524.34 45.37 L525.71 43.99 L527.08 44.01 L528.46 44.57 L529.83 44.43 L531.20 43.35 L532.58 43.92 L533.95 43.79 L535.32 42.15 L536.70 42.95 L538.07 41.99 L539.44 42.01 L540.82 41.64 L542.19 41.87 L543.56 41.52 L544.94 40.16 L546.31 41.13 L547.68 40.14 L549.06 40.64 L550.43 39.90 L551.80 39.54 L553.18 40.09 L554.55 38.44 L555.92 38.85 L557.30 37.89 L558.67 38.69 L560.04 37.49 L561.42 36.50 L562.79 37.24 L564.16 37.36 L565.54 36.50 L566.91 36.36 L568.28 36.21 L569.66 35.85 L571.03 35.74 L572.40 34.94 L573.78 34.99 L575.15 34.87 L576.52 33.76 L577.90 33.86 L579.27 32.23 L580.64 33.18 L582.02 33.02 L583.39 32.56 L584.76 31.77 L586.14 31.84 L587.51 31.68 L588.88 30.03 L590.26 30.83 L591.63 29.21 L593.01 29.27 L594.38 29.21 L595.75 27.54 L597.13 27.69 L598.50 27.39 L599.87 26.37 L601.25 25.33 L602.62 24.97 L603.99 24.38 L605.37 23.54 L606.74 23.61 L608.11 23.14 L609.49 22.99 L610.86 23.09 L612.23 22.37 L613.61 21.52 L614.98 22.30 L616.35 21.07 L617.73 21.14 L619.10 21.24 L620.47 20.69 L621.85 19.94 L623.22 20.40 L624.59 19.77 L625.97 19.45 L627.34 19.81 L628.71 19.17 L630.09 18.99 L631.46 19.06 L632.83 18.56 L634.21 18.65 L635.58 18.52 L636.95 18.51 L638.33 17.92 L639.70 17.96 L641.07 17.83 L642.45 17.81 L643.82 17.71 L645.19 17.42 L646.57 16.92 L647.94 17.14 L649.31 16.48 L650.69 16.59 L652.06 16.53 L653.43 16.71 L654.81 15.90 L656.18 16.52 L657.55 15.99 L658.93 15.64 L660.30 15.93 L661.67 15.93 L663.05 15.69 L664.42 15.41 L665.79 15.23 L667.17 15.28 L668.54 15.52 L669.91 15.35 L671.29 15.10 L672.66 15.29 L674.03 15.01 L675.41 14.47 L676.78 15.00 L678.15 14.52 L679.53 14.82 L680.90 14.63 L682.27 14.51 L683.65 14.69 L685.02 14.37 L686.39 14.07 L687.77 14.10 L689.14 14.04 L690.51 14.21 L691.89 14.04 L693.26 13.92 L694.63 13.78 L696.01 13.62 L697.38 13.92 L698.75 13.45 L700.13 13.69 L701.50 13.62 L702.87 13.70 L704.25 13.48 L705.62 13.44 L706.99 13.52 L708.37 13.34 L709.74 13.22 L711.11 13.24 L712.49 13.02 L713.86 13.20 L715.23 12.90 L716.61 12.98 L717.98 12.86 L719.35 13.07 L720.73 12.78 L722.10 12.74 L723.47 12.58 L724.85 12.76 L726.22 12.43 L727.59 12.64 L728.97 12.34 L730.34 12.37 L731.71 12.45 L733.09 12.12 L734.46 12.39 L735.83 12.24 L737.21 12.16 L738.58 12.09 L739.95 12.07 L741.33 11.97 L742.70 11.96 L744.07 11.95 L745.45 11.97 L746.82 11.88 L748.19 11.76 L749.57 11.85 L750.94 11.73 L752.31 11.81 L753.69 11.69 L755.06 11.69 L756.43 11.53 L757.81 11.61 L759.18 11.51 L760.55 11.45 L761.93 11.42 L763.30 11.40" stroke="#ff0000" stroke-width="2.6"/>
<path d="M78.00 404.13 L80.29 403.52 L82.58 403.09 L84.88 402.76 L87.17 402.44 L89.46 402.03 L91.75 401.49 L94.04 400.90 L96.34 400.29 L98.63 399.62 L100.92 398.88 L103.21 398.15 L105.50 397.41 L107.80 396.51 L110.09 395.37 L112.38 394.08 L114.67 392.63 L116.96 390.97 L119.26 389.16 L121.55 387.26 L123.84 385.32 L126.13 383.31 L128.42 381.21 L130.72 379.04 L133.01 376.78 L135.30 374.43 L137.59 372.01 L139.88 369.50 L142.18 366.91 L144.47 364.23 L146.76 361.48 L149.05 358.64 L151.34 355.72 L153.64 352.71 L155.93 349.63 L158.22 346.46 L160.51 343.21 L162.80 339.89 L165.09 336.48 L167.39 332.99 L169.68 329.42 L171.97 325.78 L174.26 322.05 L176.55 318.28 L178.85 314.47 L181.14 310.63 L183.43 306.75 L185.72 302.86 L188.01 298.94 L190.31 295.00 L192.60 291.05 L194.89 287.10 L197.18 283.13 L199.47 279.16 L201.77 275.19 L204.06 271.23 L206.35 267.27 L208.64 263.32 L210.93 259.39 L213.23 255.46 L215.52 251.56 L217.81 247.67 L220.10 243.81 L222.39 239.98 L224.69 236.17 L226.98 232.39 L229.27 228.65 L231.56 224.95 L233.85 221.28 L236.15 217.65 L238.44 214.05 L240.73 210.49 L243.02 206.97 L245.31 203.48 L247.61 200.03 L249.90 196.62 L252.19 193.24 L254.48 189.90 L256.77 186.60 L259.07 183.33 L261.36 180.09 L263.65 176.89 L265.94 173.72 L268.23 170.58 L270.53 167.48 L272.82 164.41 L275.11 161.36 L277.40 158.35 L279.69 155.37 L281.99 152.43 L284.28 149.53 L286.57 146.66 L288.86 143.83 L291.15 141.04 L293.45 138.29 L295.74 135.58 L298.03 132.90 L300.32 130.27 L302.61 127.68 L304.91 125.13 L307.20 122.62 L309.49 120.15 L311.78 117.72 L314.07 115.33 L316.37 112.99 L318.66 110.68 L320.95 108.42 L323.24 106.20 L325.53 104.02 L327.83 101.89 L330.12 99.80 L332.41 97.74 L334.70 95.74 L336.99 93.77 L339.28 91.85 L341.58 89.97 L343.87 88.13 L346.16 86.32 L348.45 84.56 L350.74 82.83 L353.04 81.14 L355.33 79.48 L357.62 77.86 L359.91 76.27 L362.20 74.71 L364.50 73.19 L366.79 71.70 L369.08 70.24 L371.37 68.82 L373.66 67.42 L375.96 66.05 L378.25 64.72 L380.54 63.41 L382.83 62.13 L385.12 60.88 L387.42 59.65 L389.71 58.46 L392.00 57.29 L394.29 56.14 L396.58 55.02 L398.88 53.92 L401.17 52.85 L403.46 51.80 L405.75 50.77 L408.04 49.77 L410.34 48.79 L412.63 47.82 L414.92 46.88 L417.21 45.96 L419.50 45.06 L421.80 44.18 L424.09 43.32 L426.38 42.46 L428.67 41.61 L430.96 40.78 L433.26 39.95 L435.55 39.13 L437.84 38.32 L440.13 37.52 L442.42 36.74 L444.72 35.96 L447.01 35.20 L449.30 34.44 L451.59 33.70 L453.88 32.97 L456.18 32.26 L458.47 31.55 L460.76 30.86 L463.05 30.19 L465.34 29.52 L467.64 28.88 L469.93 28.24 L472.22 27.63 L474.51 27.02 L476.80 26.44 L479.10 25.87 L481.39 25.31 L483.68 24.78 L485.97 24.26 L488.26 23.76 L490.56 23.28 L492.85 22.81 L495.14 22.34 L497.43 21.89 L499.72 21.44 L502.02 21.01 L504.31 20.58 L506.60 20.16 L508.89 19.75 L511.18 19.35 L513.47 18.95 L515.77 18.57 L518.06 18.19 L520.35 17.83 L522.64 17.47 L524.93 17.12 L527.23 16.78 L529.52 16.45 L531.81 16.13 L534.10 15.82 L536.39 15.52 L538.69 15.23 L540.98 14.95 L543.27 14.67 L545.56 14.41 L547.85 14.16 L550.15 13.92 L552.44 13.68 L554.73 13.46 L557.02 13.25 L559.31 13.04 L561.61 12.85 L563.90 12.67 L566.19 12.50 L568.48 12.34 L570.77 12.20 L573.07 12.07 L575.36 11.95 L577.65 11.84 L579.94 11.75 L582.23 11.66 L584.53 11.59 L586.82 11.52 L589.11 11.47 L591.40 11.42 L593.69 11.40 L595.99 11.40 L598.28 11.40 L600.57 11.40 L602.86 11.40 L605.15 11.40 L607.45 11.40 L609.74 11.40 L612.03 11.40 L614.32 11.40 L616.61 11.40 L618.91 11.40 L621.20 11.40 L623.49 11.40 L625.78 11.40 L628.07 11.40 L630.37 11.40 L632.66 11.40 L634.95 11.40 L637.24 11.40 L639.53 11.40 L641.83 11.40 L644.12 11.40 L646.41 11.40 L648.70 11.40 L650.99 11.40 L653.29 11.40 L655.58 11.40 L657.87 11.40 L660.16 11.40 L662.45 11.40 L664.75 11.40 L667.04 11.40 L669.33 11.40 L671.62 11.40 L673.91 11.40 L676.21 11.40 L678.50 11.40 L680.79 11.40 L683.08 11.40 L685.37 11.40 L687.66 11.40 L689.96 11.40 L692.25 11.40 L694.54 11.40 L696.83 11.40 L699.12 11.40 L701.42 11.40 L703.71 11.40 L706.00 11.40 L708.29 11.40 L710.58 11.40 L712.88 11.40 L715.17 11.40 L717.46 11.40 L719.75 11.40 L722.04 11.40 L724.34 11.40 L726.63 11.40 L728.92 11.40 L731.21 11.40 L733.50 11.40 L735.80 11.40 L738.09 11.40 L740.38 11.40 L742.67 11.40 L744.96 11.40 L747.26 11.40 L749.55 11.40 L751.84 11.40 L754.13 11.40 L756.42 11.40 L758.72 11.40 L761.01 11.40 L763.30 11.40" stroke="#000" stroke-width="2.2"/>
</g>
<rect x="114.7" y="380.4" width="13.7" height="13.7" fill="none" stroke="#000" stroke-width="2.7"/>
<rect x="166.7" y="316.4" width="13.7" height="13.7" fill="none" stroke="#000" stroke-width="2.7"/>
<rect x="216.6" y="231.5" width="13.7" height="13.7" fill="none" stroke="#000" stroke-width="2.7"/>
<rect x="269.8" y="152.6" width="13.7" height="13.7" fill="none" stroke="#000" stroke-width="2.7"/>
<rect x="335.5" y="82.5" width="13.7" height="13.7" fill="none" stroke="#000" stroke-width="2.7"/>
<rect x="415.9" y="36.9" width="13.7" height="13.7" fill="none" stroke="#000" stroke-width="2.7"/>
<rect x="482.6" y="16.6" width="13.7" height="13.7" fill="none" stroke="#000" stroke-width="2.7"/>
<rect x="559.4" y="5.7" width="13.7" height="13.7" fill="none" stroke="#000" stroke-width="2.7"/>
<rect x="78.0" y="11.4" width="685.3" height="395.5" fill="none" stroke="#111" stroke-width="1.8"/>
<text transform="translate(78.00 432.30) scale(1.000 1.080)" x="0" y="0" font-size="22.0" text-anchor="middle" font-family='"Liberation Sans", sans-serif' fill="#3a3a3a">0</text>
<text transform="translate(154.14 432.30) scale(1.000 1.080)" x="0" y="0" font-size="22.0" text-anchor="middle" font-family='"Liberation Sans", sans-serif' fill="#3a3a3a">200</text>
<text transform="translate(230.29 432.30) scale(1.000 1.080)" x="0" y="0" font-size="22.0" text-anchor="middle" font-family='"Liberation Sans", sans-serif' fill="#3a3a3a">400</text>
<text transform="translate(306.43 432.30) scale(1.000 1.080)" x="0" y="0" font-size="22.0" text-anchor="middle" font-family='"Liberation Sans", sans-serif' fill="#3a3a3a">600</text>
<text transform="translate(382.58 432.30) scale(1.000 1.080)" x="0" y="0" font-size="22.0" text-anchor="middle" font-family='"Liberation Sans", sans-serif' fill="#3a3a3a">800</text>
<text transform="translate(458.72 432.30) scale(1.000 1.080)" x="0" y="0" font-size="22.0" text-anchor="middle" font-family='"Liberation Sans", sans-serif' fill="#3a3a3a">1000</text>
<text transform="translate(534.87 432.30) scale(1.000 1.080)" x="0" y="0" font-size="22.0" text-anchor="middle" font-family='"Liberation Sans", sans-serif' fill="#3a3a3a">1200</text>
<text transform="translate(611.01 432.30) scale(1.000 1.080)" x="0" y="0" font-size="22.0" text-anchor="middle" font-family='"Liberation Sans", sans-serif' fill="#3a3a3a">1400</text>
<text transform="translate(687.16 432.30) scale(1.000 1.080)" x="0" y="0" font-size="22.0" text-anchor="middle" font-family='"Liberation Sans", sans-serif' fill="#3a3a3a">1600</text>
<text transform="translate(763.30 432.30) scale(1.000 1.080)" x="0" y="0" font-size="22.0" text-anchor="middle" font-family='"Liberation Sans", sans-serif' fill="#3a3a3a">1800</text>
<text transform="translate(71.40 415.10) scale(0.955 1.080)" x="0" y="0" font-size="22.0" text-anchor="end" font-family='"Liberation Sans", sans-serif' fill="#3a3a3a">0</text>
<text transform="translate(71.40 375.55) scale(0.955 1.080)" x="0" y="0" font-size="22.0" text-anchor="end" font-family='"Liberation Sans", sans-serif' fill="#3a3a3a">0.1</text>
<text transform="translate(71.40 336.00) scale(0.955 1.080)" x="0" y="0" font-size="22.0" text-anchor="end" font-family='"Liberation Sans", sans-serif' fill="#3a3a3a">0.2</text>
<text transform="translate(71.40 296.45) scale(0.955 1.080)" x="0" y="0" font-size="22.0" text-anchor="end" font-family='"Liberation Sans", sans-serif' fill="#3a3a3a">0.3</text>
<text transform="translate(71.40 256.90) scale(0.955 1.080)" x="0" y="0" font-size="22.0" text-anchor="end" font-family='"Liberation Sans", sans-serif' fill="#3a3a3a">0.4</text>
<text transform="translate(71.40 217.35) scale(0.955 1.080)" x="0" y="0" font-size="22.0" text-anchor="end" font-family='"Liberation Sans", sans-serif' fill="#3a3a3a">0.5</text>
<text transform="translate(71.40 177.80) scale(0.955 1.080)" x="0" y="0" font-size="22.0" text-anchor="end" font-family='"Liberation Sans", sans-serif' fill="#3a3a3a">0.6</text>
<text transform="translate(71.40 138.25) scale(0.955 1.080)" x="0" y="0" font-size="22.0" text-anchor="end" font-family='"Liberation Sans", sans-serif' fill="#3a3a3a">0.7</text>
<text transform="translate(71.40 98.70) scale(0.955 1.080)" x="0" y="0" font-size="22.0" text-anchor="end" font-family='"Liberation Sans", sans-serif' fill="#3a3a3a">0.8</text>
<text transform="translate(71.40 59.15) scale(0.955 1.080)" x="0" y="0" font-size="22.0" text-anchor="end" font-family='"Liberation Sans", sans-serif' fill="#3a3a3a">0.9</text>
<text transform="translate(71.40 19.60) scale(0.955 1.080)" x="0" y="0" font-size="22.0" text-anchor="end" font-family='"Liberation Sans", sans-serif' fill="#3a3a3a">1</text>
<path d="M156.3 874.6 V474.6 M232.1 874.6 V474.6 M307.8 874.6 V474.6 M383.6 874.6 V474.6 M459.3 874.6 V474.6 M535.1 874.6 V474.6 M610.8 874.6 V474.6 M686.6 874.6 V474.6" stroke="#444" stroke-width="1.8" stroke-dasharray="1.8 4.96" stroke-dashoffset="1.36" fill="none"/>
<path d="M80.6 834.6 H762.3 M80.6 794.6 H762.3 M80.6 754.6 H762.3 M80.6 714.6 H762.3 M80.6 674.6 H762.3 M80.6 634.6 H762.3 M80.6 594.6 H762.3 M80.6 554.6 H762.3 M80.6 514.6 H762.3" stroke="#444" stroke-width="1.8" stroke-dasharray="1.8 4.96" stroke-dashoffset="4.26" fill="none"/>
<path d="M156.3 874.6 v-7 M156.3 474.6 v7 M232.1 874.6 v-7 M232.1 474.6 v7 M307.8 874.6 v-7 M307.8 474.6 v7 M383.6 874.6 v-7 M383.6 474.6 v7 M459.3 874.6 v-7 M459.3 474.6 v7 M535.1 874.6 v-7 M535.1 474.6 v7 M610.8 874.6 v-7 M610.8 474.6 v7 M686.6 874.6 v-7 M686.6 474.6 v7 M80.6 834.6 h7 M762.3 834.6 h-7 M80.6 794.6 h7 M762.3 794.6 h-7 M80.6 754.6 h7 M762.3 754.6 h-7 M80.6 714.6 h7 M762.3 714.6 h-7 M80.6 674.6 h7 M762.3 674.6 h-7 M80.6 634.6 h7 M762.3 634.6 h-7 M80.6 594.6 h7 M762.3 594.6 h-7 M80.6 554.6 h7 M762.3 554.6 h-7 M80.6 514.6 h7 M762.3 514.6 h-7" stroke="#111" stroke-width="1.5" fill="none"/>
<g fill="none" stroke-linejoin="round">
<path d="M80.60 874.60 L81.97 874.60 L83.33 874.60 L84.70 874.60 L86.06 874.59 L87.43 874.60 L88.80 874.58 L90.16 874.58 L91.53 874.57 L92.90 874.57 L94.26 874.55 L95.63 874.52 L96.99 874.56 L98.36 874.50 L99.73 874.51 L101.09 874.50 L102.46 874.53 L103.82 874.48 L105.19 874.42 L106.56 874.49 L107.92 874.49 L109.29 874.44 L110.65 874.28 L112.02 874.07 L113.39 874.07 L114.75 873.93 L116.12 873.95 L117.49 873.74 L118.85 873.78 L120.22 873.59 L121.58 873.57 L122.95 873.48 L124.32 873.30 L125.68 873.26 L127.05 872.92 L128.41 872.93 L129.78 872.76 L131.15 872.72 L132.51 872.33 L133.88 872.46 L135.25 872.08 L136.61 872.06 L137.98 871.97 L139.34 871.70 L140.71 871.56 L142.08 871.25 L143.44 871.06 L144.81 870.72 L146.17 870.44 L147.54 870.36 L148.91 870.10 L150.27 869.78 L151.64 869.70 L153.01 869.14 L154.37 868.81 L155.74 868.64 L157.10 867.75 L158.47 867.74 L159.84 867.60 L161.20 867.21 L162.57 866.62 L163.93 866.06 L165.30 864.87 L166.67 864.67 L168.03 863.69 L169.40 863.03 L170.76 861.67 L172.13 861.75 L173.50 860.60 L174.86 859.77 L176.23 858.86 L177.60 858.05 L178.96 857.57 L180.33 856.32 L181.69 855.84 L183.06 854.15 L184.43 855.10 L185.79 853.38 L187.16 853.35 L188.52 852.44 L189.89 850.34 L191.26 849.66 L192.62 850.62 L193.99 849.06 L195.36 848.19 L196.72 848.40 L198.09 846.45 L199.45 845.24 L200.82 844.23 L202.19 844.11 L203.55 840.93 L204.92 839.79 L206.28 838.30 L207.65 837.04 L209.02 834.57 L210.38 832.92 L211.75 832.30 L213.11 830.49 L214.48 828.59 L215.85 828.95 L217.21 826.22 L218.58 826.17 L219.95 824.15 L221.31 821.85 L222.68 820.90 L224.04 819.71 L225.41 818.26 L226.78 816.08 L228.14 814.78 L229.51 814.44 L230.87 812.24 L232.24 811.34 L233.61 807.75 L234.97 808.58 L236.34 806.73 L237.71 805.19 L239.07 803.66 L240.44 801.57 L241.80 799.77 L243.17 799.51 L244.54 796.90 L245.90 795.65 L247.27 791.66 L248.63 788.59 L250.00 787.29 L251.37 785.89 L252.73 782.98 L254.10 781.29 L255.46 777.56 L256.83 775.90 L258.20 774.15 L259.56 772.40 L260.93 769.43 L262.30 766.06 L263.66 764.92 L265.03 761.55 L266.39 757.71 L267.76 756.50 L269.13 752.31 L270.49 750.42 L271.86 749.64 L273.22 748.27 L274.59 744.67 L275.96 742.69 L277.32 739.49 L278.69 735.91 L280.06 736.09 L281.42 732.95 L282.79 729.80 L284.15 726.53 L285.52 724.61 L286.89 722.14 L288.25 718.64 L289.62 716.83 L290.98 714.86 L292.35 711.79 L293.72 709.63 L295.08 705.37 L296.45 701.87 L297.82 702.60 L299.18 695.24 L300.55 693.31 L301.91 689.62 L303.28 686.30 L304.65 686.21 L306.01 682.17 L307.38 678.50 L308.74 676.30 L310.11 672.76 L311.48 671.23 L312.84 670.24 L314.21 665.82 L315.57 663.31 L316.94 661.87 L318.31 661.19 L319.67 658.78 L321.04 655.98 L322.41 653.90 L323.77 651.48 L325.14 650.79 L326.50 649.92 L327.87 647.20 L329.24 644.00 L330.60 641.77 L331.97 638.24 L333.33 638.19 L334.70 635.79 L336.07 633.74 L337.43 631.37 L338.80 627.55 L340.17 625.31 L341.53 623.25 L342.90 621.61 L344.26 618.40 L345.63 616.62 L347.00 613.34 L348.36 612.31 L349.73 613.17 L351.09 610.16 L352.46 610.72 L353.83 608.90 L355.19 606.69 L356.56 607.56 L357.92 605.19 L359.29 605.12 L360.66 604.59 L362.02 600.56 L363.39 600.17 L364.76 599.68 L366.12 599.08 L367.49 596.66 L368.85 593.70 L370.22 593.13 L371.59 592.33 L372.95 590.99 L374.32 588.57 L375.68 588.24 L377.05 583.75 L378.42 582.55 L379.78 579.94 L381.15 579.46 L382.52 576.18 L383.88 574.19 L385.25 573.85 L386.61 570.10 L387.98 567.65 L389.35 566.13 L390.71 563.77 L392.08 561.09 L393.44 559.63 L394.81 558.70 L396.18 555.77 L397.54 554.48 L398.91 552.90 L400.27 551.44 L401.64 549.53 L403.01 548.35 L404.37 546.82 L405.74 544.68 L407.11 541.40 L408.47 542.21 L409.84 539.21 L411.20 539.76 L412.57 539.06 L413.94 537.81 L415.30 536.39 L416.67 534.78 L418.03 535.62 L419.40 532.32 L420.77 531.79 L422.13 531.80 L423.50 531.02 L424.87 530.58 L426.23 528.63 L427.60 528.10 L428.96 526.31 L430.33 526.83 L431.70 525.11 L433.06 524.61 L434.43 524.26 L435.79 521.58 L437.16 521.77 L438.53 520.68 L439.89 520.90 L441.26 519.83 L442.63 518.49 L443.99 518.09 L445.36 516.55 L446.72 515.85 L448.09 515.80 L449.46 514.42 L450.82 513.76 L452.19 513.08 L453.55 512.90 L454.92 511.95 L456.29 510.60 L457.65 509.41 L459.02 509.80 L460.38 507.86 L461.75 507.73 L463.12 507.82 L464.48 506.27 L465.85 505.29 L467.22 504.95 L468.58 503.20 L469.95 503.59 L471.31 502.62 L472.68 502.40 L474.05 501.23 L475.41 502.23 L476.78 500.75 L478.14 499.77 L479.51 498.61 L480.88 498.02 L482.24 496.86 L483.61 496.46 L484.98 495.80 L486.34 495.26 L487.71 494.44 L489.07 493.52 L490.44 492.95 L491.81 492.35 L493.17 492.30 L494.54 492.00 L495.90 491.44 L497.27 490.67 L498.64 489.76 L500.00 489.88 L501.37 489.39 L502.73 489.82 L504.10 487.83 L505.47 488.85 L506.83 487.43 L508.20 487.92 L509.57 487.03 L510.93 486.74 L512.30 486.66 L513.66 486.41 L515.03 486.35 L516.40 485.75 L517.76 485.08 L519.13 485.05 L520.49 485.19 L521.86 484.30 L523.23 484.81 L524.59 484.15 L525.96 484.27 L527.33 484.02 L528.69 483.27 L530.06 483.53 L531.42 483.64 L532.79 483.17 L534.16 482.61 L535.52 482.85 L536.89 482.12 L538.25 482.00 L539.62 482.07 L540.99 481.58 L542.35 481.22 L543.72 482.03 L545.08 481.02 L546.45 480.97 L547.82 481.01 L549.18 480.57 L550.55 480.44 L551.92 480.47 L553.28 479.79 L554.65 479.92 L556.01 479.49 L557.38 479.63 L558.75 479.74 L560.11 479.15 L561.48 479.08 L562.84 479.12 L564.21 479.03 L565.58 478.41 L566.94 478.13 L568.31 477.96 L569.68 477.99 L571.04 477.95 L572.41 477.79 L573.77 477.70 L575.14 477.46 L576.51 477.58 L577.87 477.62 L579.24 477.36 L580.60 477.21 L581.97 477.20 L583.34 477.08 L584.70 476.66 L586.07 476.79 L587.44 477.05 L588.80 476.67 L590.17 477.00 L591.53 476.53 L592.90 476.48 L594.27 476.47 L595.63 476.53 L597.00 476.46 L598.36 476.21 L599.73 476.27 L601.10 476.02 L602.46 476.14 L603.83 476.04 L605.19 475.85 L606.56 475.88 L607.93 475.84 L609.29 475.74 L610.66 475.67 L612.03 475.67 L613.39 475.58 L614.76 475.57 L616.12 475.47 L617.49 475.43 L618.86 475.37 L620.22 475.30 L621.59 475.42 L622.95 475.41 L624.32 475.28 L625.69 475.24 L627.05 475.16 L628.42 475.25 L629.79 475.12 L631.15 475.08 L632.52 475.20 L633.88 475.04 L635.25 474.95 L636.62 475.02 L637.98 475.07 L639.35 475.04 L640.71 475.00 L642.08 475.02 L643.45 475.17 L644.81 474.88 L646.18 474.99 L647.54 474.96 L648.91 474.89 L650.28 474.92 L651.64 474.95 L653.01 474.92 L654.38 474.88 L655.74 474.87 L657.11 474.91 L658.47 474.84 L659.84 474.84 L661.21 474.90 L662.57 474.92 L663.94 474.84 L665.30 474.82 L666.67 474.87 L668.04 474.86 L669.40 474.80 L670.77 474.81 L672.14 474.75 L673.50 474.79 L674.87 474.70 L676.23 474.77 L677.60 474.83 L678.97 474.79 L680.33 474.78 L681.70 474.84 L683.06 474.74 L684.43 474.76 L685.80 474.76 L687.16 474.77 L688.53 474.79 L689.89 474.75 L691.26 474.77 L692.63 474.73 L693.99 474.75 L695.36 474.77 L696.73 474.71 L698.09 474.70 L699.46 474.69 L700.82 474.70 L702.19 474.65 L703.56 474.71 L704.92 474.65 L706.29 474.71 L707.65 474.70 L709.02 474.69 L710.39 474.68 L711.75 474.63 L713.12 474.68 L714.49 474.69 L715.85 474.64 L717.22 474.65 L718.58 474.68 L719.95 474.64 L721.32 474.62 L722.68 474.65 L724.05 474.61 L725.41 474.61 L726.78 474.65 L728.15 474.62 L729.51 474.66 L730.88 474.62 L732.25 474.64 L733.61 474.61 L734.98 474.63 L736.34 474.60 L737.71 474.63 L739.08 474.62 L740.44 474.62 L741.81 474.61 L743.17 474.62 L744.54 474.60 L745.91 474.61 L747.27 474.60 L748.64 474.61 L750.00 474.61 L751.37 474.60 L752.74 474.61 L754.10 474.60 L755.47 474.60 L756.84 474.60 L758.20 474.60 L759.57 474.60 L760.93 474.60 L762.30 474.60" stroke="#0000ff" stroke-width="2.6" stroke-dasharray="2.2 4.6"/>
<path d="M80.60 874.60 L81.97 874.60 L83.33 874.60 L84.70 874.60 L86.06 874.59 L87.43 874.59 L88.80 874.59 L90.16 874.57 L91.53 874.57 L92.90 874.59 L94.26 874.58 L95.63 874.56 L96.99 874.52 L98.36 874.52 L99.73 874.56 L101.09 874.54 L102.46 874.47 L103.82 874.43 L105.19 874.47 L106.56 874.47 L107.92 874.36 L109.29 874.37 L110.65 874.25 L112.02 874.13 L113.39 874.10 L114.75 874.05 L116.12 873.90 L117.49 873.92 L118.85 873.77 L120.22 873.70 L121.58 873.56 L122.95 873.48 L124.32 873.33 L125.68 873.24 L127.05 873.07 L128.41 872.95 L129.78 872.78 L131.15 872.48 L132.51 872.74 L133.88 872.16 L135.25 872.22 L136.61 872.20 L137.98 871.84 L139.34 871.60 L140.71 871.23 L142.08 871.41 L143.44 870.96 L144.81 870.76 L146.17 870.89 L147.54 870.57 L148.91 869.96 L150.27 869.69 L151.64 869.34 L153.01 869.18 L154.37 868.92 L155.74 868.66 L157.10 868.05 L158.47 868.19 L159.84 867.61 L161.20 867.01 L162.57 867.00 L163.93 865.53 L165.30 865.45 L166.67 864.47 L168.03 862.96 L169.40 863.13 L170.76 862.22 L172.13 860.68 L173.50 860.87 L174.86 859.89 L176.23 858.78 L177.60 858.06 L178.96 857.25 L180.33 856.58 L181.69 855.41 L183.06 854.77 L184.43 854.18 L185.79 853.96 L187.16 853.20 L188.52 852.96 L189.89 850.95 L191.26 851.35 L192.62 849.29 L193.99 848.05 L195.36 848.69 L196.72 847.67 L198.09 846.67 L199.45 845.01 L200.82 844.80 L202.19 843.10 L203.55 841.82 L204.92 840.06 L206.28 837.50 L207.65 837.15 L209.02 834.95 L210.38 833.33 L211.75 831.50 L213.11 831.39 L214.48 828.48 L215.85 827.52 L217.21 825.87 L218.58 825.03 L219.95 824.83 L221.31 822.84 L222.68 820.52 L224.04 819.73 L225.41 818.46 L226.78 815.83 L228.14 814.18 L229.51 814.41 L230.87 811.61 L232.24 813.07 L233.61 811.70 L234.97 808.11 L236.34 807.47 L237.71 805.33 L239.07 803.83 L240.44 802.70 L241.80 800.47 L243.17 799.20 L244.54 798.80 L245.90 795.63 L247.27 793.81 L248.63 790.51 L250.00 790.83 L251.37 787.71 L252.73 785.79 L254.10 783.19 L255.46 779.24 L256.83 777.85 L258.20 776.06 L259.56 772.98 L260.93 769.89 L262.30 768.90 L263.66 765.72 L265.03 761.60 L266.39 759.75 L267.76 758.15 L269.13 756.14 L270.49 753.46 L271.86 752.37 L273.22 747.69 L274.59 745.87 L275.96 743.68 L277.32 742.65 L278.69 739.71 L280.06 736.13 L281.42 733.95 L282.79 732.22 L284.15 728.78 L285.52 725.86 L286.89 724.89 L288.25 722.18 L289.62 719.90 L290.98 717.53 L292.35 712.92 L293.72 710.37 L295.08 707.58 L296.45 706.02 L297.82 702.77 L299.18 698.62 L300.55 695.77 L301.91 692.05 L303.28 689.71 L304.65 685.26 L306.01 681.10 L307.38 678.46 L308.74 675.63 L310.11 674.57 L311.48 671.30 L312.84 670.33 L314.21 666.88 L315.57 666.11 L316.94 664.22 L318.31 662.41 L319.67 659.11 L321.04 657.57 L322.41 655.65 L323.77 654.94 L325.14 651.66 L326.50 651.25 L327.87 646.38 L329.24 645.98 L330.60 643.65 L331.97 641.90 L333.33 641.27 L334.70 638.90 L336.07 635.24 L337.43 631.24 L338.80 631.16 L340.17 628.09 L341.53 624.80 L342.90 623.81 L344.26 621.40 L345.63 617.95 L347.00 615.67 L348.36 614.41 L349.73 611.38 L351.09 612.04 L352.46 610.57 L353.83 608.28 L355.19 607.01 L356.56 608.91 L357.92 606.53 L359.29 603.82 L360.66 604.92 L362.02 603.20 L363.39 602.25 L364.76 601.02 L366.12 599.52 L367.49 597.01 L368.85 594.67 L370.22 593.05 L371.59 592.98 L372.95 593.25 L374.32 589.86 L375.68 588.36 L377.05 585.89 L378.42 584.40 L379.78 583.91 L381.15 579.94 L382.52 580.08 L383.88 576.81 L385.25 573.76 L386.61 571.45 L387.98 568.10 L389.35 569.12 L390.71 564.61 L392.08 562.19 L393.44 561.07 L394.81 558.48 L396.18 558.21 L397.54 555.18 L398.91 553.70 L400.27 553.34 L401.64 551.49 L403.01 549.45 L404.37 547.98 L405.74 544.66 L407.11 543.32 L408.47 540.68 L409.84 539.44 L411.20 539.24 L412.57 538.56 L413.94 538.31 L415.30 537.38 L416.67 536.48 L418.03 534.75 L419.40 534.73 L420.77 533.15 L422.13 532.17 L423.50 531.75 L424.87 530.64 L426.23 528.62 L427.60 527.63 L428.96 528.38 L430.33 527.09 L431.70 526.32 L433.06 525.36 L434.43 523.27 L435.79 522.95 L437.16 521.70 L438.53 520.51 L439.89 521.07 L441.26 520.05 L442.63 519.07 L443.99 517.63 L445.36 517.51 L446.72 516.25 L448.09 515.13 L449.46 514.35 L450.82 514.00 L452.19 513.96 L453.55 513.64 L454.92 511.31 L456.29 510.95 L457.65 511.01 L459.02 510.02 L460.38 509.26 L461.75 509.22 L463.12 507.45 L464.48 507.33 L465.85 506.39 L467.22 505.16 L468.58 504.94 L469.95 503.94 L471.31 503.33 L472.68 502.86 L474.05 502.17 L475.41 500.56 L476.78 500.86 L478.14 499.23 L479.51 499.69 L480.88 498.12 L482.24 497.59 L483.61 497.21 L484.98 497.29 L486.34 494.63 L487.71 495.12 L489.07 494.34 L490.44 493.24 L491.81 492.69 L493.17 492.08 L494.54 491.80 L495.90 491.83 L497.27 490.45 L498.64 490.72 L500.00 489.88 L501.37 489.35 L502.73 488.74 L504.10 488.90 L505.47 488.56 L506.83 488.17 L508.20 488.38 L509.57 487.63 L510.93 487.37 L512.30 487.07 L513.66 486.29 L515.03 486.14 L516.40 485.20 L517.76 484.95 L519.13 485.77 L520.49 484.87 L521.86 484.98 L523.23 484.26 L524.59 484.16 L525.96 483.71 L527.33 483.70 L528.69 483.36 L530.06 483.48 L531.42 483.93 L532.79 483.35 L534.16 483.07 L535.52 482.78 L536.89 482.74 L538.25 481.83 L539.62 482.13 L540.99 481.55 L542.35 481.80 L543.72 481.08 L545.08 481.63 L546.45 480.97 L547.82 481.26 L549.18 480.62 L550.55 480.15 L551.92 480.73 L553.28 480.35 L554.65 479.89 L556.01 479.80 L557.38 479.88 L558.75 479.14 L560.11 479.20 L561.48 478.76 L562.84 478.79 L564.21 478.92 L565.58 478.62 L566.94 478.11 L568.31 478.49 L569.68 478.17 L571.04 477.84 L572.41 477.64 L573.77 477.56 L575.14 477.85 L576.51 477.14 L577.87 477.44 L579.24 477.32 L580.60 477.24 L581.97 477.20 L583.34 477.23 L584.70 477.05 L586.07 476.72 L587.44 477.05 L588.80 477.12 L590.17 476.61 L591.53 476.57 L592.90 476.44 L594.27 476.23 L595.63 476.50 L597.00 476.31 L598.36 476.20 L599.73 476.04 L601.10 476.00 L602.46 476.17 L603.83 476.16 L605.19 475.97 L606.56 476.06 L607.93 475.70 L609.29 475.81 L610.66 475.75 L612.03 475.75 L613.39 475.45 L614.76 475.53 L616.12 475.55 L617.49 475.40 L618.86 475.42 L620.22 475.32 L621.59 475.22 L622.95 475.32 L624.32 475.22 L625.69 475.19 L627.05 475.11 L628.42 475.12 L629.79 475.13 L631.15 475.16 L632.52 475.07 L633.88 475.14 L635.25 475.00 L636.62 475.03 L637.98 474.98 L639.35 475.04 L640.71 475.05 L642.08 475.04 L643.45 474.91 L644.81 474.98 L646.18 474.97 L647.54 475.06 L648.91 474.95 L650.28 475.13 L651.64 474.85 L653.01 474.93 L654.38 474.91 L655.74 474.98 L657.11 474.95 L658.47 474.85 L659.84 474.89 L661.21 474.85 L662.57 474.80 L663.94 474.82 L665.30 474.94 L666.67 474.89 L668.04 474.89 L669.40 474.87 L670.77 474.92 L672.14 474.91 L673.50 474.84 L674.87 474.83 L676.23 474.77 L677.60 474.80 L678.97 474.72 L680.33 474.85 L681.70 474.83 L683.06 474.76 L684.43 474.77 L685.80 474.79 L687.16 474.72 L688.53 474.70 L689.89 474.69 L691.26 474.75 L692.63 474.73 L693.99 474.72 L695.36 474.72 L696.73 474.68 L698.09 474.72 L699.46 474.69 L700.82 474.77 L702.19 474.67 L703.56 474.64 L704.92 474.69 L706.29 474.65 L707.65 474.73 L709.02 474.68 L710.39 474.71 L711.75 474.66 L713.12 474.65 L714.49 474.69 L715.85 474.68 L717.22 474.67 L718.58 474.60 L719.95 474.65 L721.32 474.64 L722.68 474.63 L724.05 474.63 L725.41 474.64 L726.78 474.66 L728.15 474.64 L729.51 474.60 L730.88 474.62 L732.25 474.63 L733.61 474.64 L734.98 474.62 L736.34 474.62 L737.71 474.62 L739.08 474.60 L740.44 474.62 L741.81 474.61 L743.17 474.60 L744.54 474.61 L745.91 474.60 L747.27 474.61 L748.64 474.61 L750.00 474.60 L751.37 474.60 L752.74 474.60 L754.10 474.60 L755.47 474.60 L756.84 474.60 L758.20 474.60 L759.57 474.60 L760.93 474.60 L762.30 474.60" stroke="#0000ff" stroke-width="2.6" stroke-dasharray="12 6"/>
<path d="M80.60 874.60 L81.97 874.60 L83.33 874.60 L84.70 874.60 L86.06 874.59 L87.43 874.60 L88.80 874.58 L90.16 874.58 L91.53 874.59 L92.90 874.51 L94.26 874.57 L95.63 874.54 L96.99 874.51 L98.36 874.56 L99.73 874.48 L101.09 874.51 L102.46 874.47 L103.82 874.52 L105.19 874.51 L106.56 874.40 L107.92 874.38 L109.29 874.35 L110.65 874.26 L112.02 874.19 L113.39 874.22 L114.75 874.22 L116.12 874.09 L117.49 874.01 L118.85 873.96 L120.22 873.71 L121.58 873.59 L122.95 873.43 L124.32 873.29 L125.68 873.24 L127.05 873.11 L128.41 872.94 L129.78 872.95 L131.15 872.77 L132.51 872.51 L133.88 872.45 L135.25 872.27 L136.61 872.02 L137.98 871.59 L139.34 871.57 L140.71 871.48 L142.08 871.32 L143.44 871.02 L144.81 870.35 L146.17 871.19 L147.54 870.22 L148.91 870.04 L150.27 869.66 L151.64 869.84 L153.01 868.82 L154.37 868.77 L155.74 868.70 L157.10 868.31 L158.47 868.16 L159.84 867.56 L161.20 867.15 L162.57 866.29 L163.93 865.81 L165.30 865.23 L166.67 864.24 L168.03 863.48 L169.40 862.77 L170.76 862.57 L172.13 860.87 L173.50 860.90 L174.86 860.11 L176.23 859.02 L177.60 858.03 L178.96 856.92 L180.33 857.43 L181.69 855.35 L183.06 854.51 L184.43 854.64 L185.79 853.75 L187.16 853.13 L188.52 852.35 L189.89 851.90 L191.26 851.29 L192.62 849.82 L193.99 848.82 L195.36 847.25 L196.72 847.83 L198.09 847.50 L199.45 845.37 L200.82 844.59 L202.19 842.84 L203.55 841.77 L204.92 840.65 L206.28 838.67 L207.65 836.14 L209.02 834.83 L210.38 834.05 L211.75 831.43 L213.11 831.39 L214.48 829.37 L215.85 827.46 L217.21 827.05 L218.58 825.52 L219.95 823.31 L221.31 821.97 L222.68 820.67 L224.04 819.48 L225.41 818.43 L226.78 816.79 L228.14 812.62 L229.51 813.78 L230.87 810.75 L232.24 810.78 L233.61 807.80 L234.97 806.33 L236.34 805.32 L237.71 804.52 L239.07 803.43 L240.44 799.91 L241.80 799.91 L243.17 798.11 L244.54 794.03 L245.90 792.14 L247.27 791.25 L248.63 789.34 L250.00 787.45 L251.37 784.30 L252.73 782.62 L254.10 781.06 L255.46 777.95 L256.83 774.57 L258.20 773.64 L259.56 770.58 L260.93 767.08 L262.30 763.17 L263.66 762.03 L265.03 759.72 L266.39 755.58 L267.76 755.92 L269.13 753.24 L270.49 749.41 L271.86 746.81 L273.22 745.01 L274.59 745.52 L275.96 739.97 L277.32 737.63 L278.69 735.81 L280.06 732.78 L281.42 729.61 L282.79 728.43 L284.15 726.87 L285.52 725.21 L286.89 720.78 L288.25 718.91 L289.62 716.10 L290.98 713.93 L292.35 709.67 L293.72 706.23 L295.08 703.44 L296.45 701.83 L297.82 696.66 L299.18 694.03 L300.55 693.64 L301.91 687.43 L303.28 686.98 L304.65 683.10 L306.01 678.05 L307.38 675.74 L308.74 674.50 L310.11 672.38 L311.48 668.92 L312.84 668.93 L314.21 664.68 L315.57 663.39 L316.94 660.41 L318.31 659.31 L319.67 658.30 L321.04 654.99 L322.41 653.52 L323.77 652.58 L325.14 650.34 L326.50 648.21 L327.87 645.17 L329.24 642.44 L330.60 641.17 L331.97 640.22 L333.33 637.21 L334.70 633.87 L336.07 630.82 L337.43 630.14 L338.80 626.28 L340.17 624.30 L341.53 623.47 L342.90 620.28 L344.26 617.45 L345.63 615.58 L347.00 613.99 L348.36 613.10 L349.73 611.24 L351.09 611.47 L352.46 610.93 L353.83 607.76 L355.19 607.60 L356.56 605.03 L357.92 605.29 L359.29 602.00 L360.66 603.08 L362.02 601.75 L363.39 598.71 L364.76 596.42 L366.12 597.48 L367.49 593.96 L368.85 592.60 L370.22 591.79 L371.59 591.14 L372.95 591.24 L374.32 588.89 L375.68 586.33 L377.05 583.22 L378.42 581.85 L379.78 580.24 L381.15 577.55 L382.52 576.97 L383.88 572.98 L385.25 571.83 L386.61 567.62 L387.98 566.28 L389.35 564.84 L390.71 562.56 L392.08 561.54 L393.44 558.32 L394.81 557.61 L396.18 555.29 L397.54 552.73 L398.91 551.80 L400.27 550.07 L401.64 546.70 L403.01 546.32 L404.37 543.96 L405.74 543.04 L407.11 542.07 L408.47 539.79 L409.84 539.85 L411.20 540.36 L412.57 536.93 L413.94 536.27 L415.30 536.38 L416.67 533.79 L418.03 533.88 L419.40 533.25 L420.77 532.69 L422.13 530.32 L423.50 530.53 L424.87 529.69 L426.23 528.77 L427.60 528.10 L428.96 527.81 L430.33 526.28 L431.70 525.48 L433.06 523.55 L434.43 523.98 L435.79 521.80 L437.16 521.71 L438.53 521.04 L439.89 519.78 L441.26 518.81 L442.63 517.94 L443.99 516.84 L445.36 516.26 L446.72 516.54 L448.09 515.22 L449.46 513.05 L450.82 513.32 L452.19 513.86 L453.55 511.63 L454.92 510.00 L456.29 509.57 L457.65 509.47 L459.02 508.66 L460.38 507.71 L461.75 507.45 L463.12 506.93 L464.48 505.10 L465.85 505.51 L467.22 504.09 L468.58 504.78 L469.95 503.69 L471.31 503.21 L472.68 501.74 L474.05 501.59 L475.41 500.92 L476.78 500.35 L478.14 499.13 L479.51 498.03 L480.88 498.07 L482.24 496.81 L483.61 496.41 L484.98 496.00 L486.34 494.91 L487.71 493.85 L489.07 494.94 L490.44 492.95 L491.81 491.98 L493.17 492.28 L494.54 491.42 L495.90 490.88 L497.27 490.62 L498.64 490.30 L500.00 489.48 L501.37 489.16 L502.73 489.13 L504.10 488.58 L505.47 488.78 L506.83 488.14 L508.20 487.68 L509.57 487.38 L510.93 487.25 L512.30 486.25 L513.66 486.23 L515.03 485.79 L516.40 486.16 L517.76 485.60 L519.13 485.39 L520.49 484.97 L521.86 484.14 L523.23 483.65 L524.59 484.15 L525.96 483.88 L527.33 483.85 L528.69 483.75 L530.06 483.13 L531.42 483.32 L532.79 483.31 L534.16 482.65 L535.52 482.69 L536.89 482.37 L538.25 482.19 L539.62 481.82 L540.99 481.73 L542.35 481.46 L543.72 481.54 L545.08 481.34 L546.45 481.02 L547.82 480.86 L549.18 480.60 L550.55 480.44 L551.92 479.82 L553.28 480.18 L554.65 479.83 L556.01 479.72 L557.38 479.27 L558.75 479.55 L560.11 479.46 L561.48 478.77 L562.84 478.70 L564.21 478.65 L565.58 478.67 L566.94 478.13 L568.31 478.14 L569.68 478.19 L571.04 478.03 L572.41 477.94 L573.77 477.46 L575.14 477.63 L576.51 477.67 L577.87 477.50 L579.24 477.14 L580.60 477.14 L581.97 477.27 L583.34 477.26 L584.70 477.09 L586.07 476.88 L587.44 476.90 L588.80 476.85 L590.17 476.69 L591.53 476.70 L592.90 476.70 L594.27 476.66 L595.63 476.53 L597.00 476.42 L598.36 476.23 L599.73 476.18 L601.10 476.23 L602.46 475.93 L603.83 476.14 L605.19 475.83 L606.56 476.01 L607.93 475.86 L609.29 475.68 L610.66 475.62 L612.03 475.74 L613.39 475.60 L614.76 475.67 L616.12 475.53 L617.49 475.42 L618.86 475.47 L620.22 475.24 L621.59 475.29 L622.95 475.24 L624.32 475.31 L625.69 475.24 L627.05 475.17 L628.42 475.10 L629.79 475.08 L631.15 475.14 L632.52 475.14 L633.88 475.15 L635.25 474.90 L636.62 474.96 L637.98 474.92 L639.35 475.01 L640.71 474.87 L642.08 474.95 L643.45 474.96 L644.81 475.00 L646.18 475.04 L647.54 474.91 L648.91 474.94 L650.28 474.93 L651.64 475.00 L653.01 475.03 L654.38 474.97 L655.74 474.85 L657.11 474.79 L658.47 474.92 L659.84 474.90 L661.21 474.95 L662.57 474.92 L663.94 474.84 L665.30 474.89 L666.67 474.84 L668.04 474.78 L669.40 474.84 L670.77 474.88 L672.14 474.74 L673.50 474.78 L674.87 474.79 L676.23 474.78 L677.60 474.80 L678.97 474.75 L680.33 474.84 L681.70 474.77 L683.06 474.81 L684.43 474.76 L685.80 474.73 L687.16 474.76 L688.53 474.68 L689.89 474.74 L691.26 474.76 L692.63 474.72 L693.99 474.71 L695.36 474.71 L696.73 474.71 L698.09 474.71 L699.46 474.67 L700.82 474.75 L702.19 474.67 L703.56 474.71 L704.92 474.69 L706.29 474.71 L707.65 474.64 L709.02 474.73 L710.39 474.70 L711.75 474.68 L713.12 474.65 L714.49 474.69 L715.85 474.64 L717.22 474.63 L718.58 474.67 L719.95 474.70 L721.32 474.63 L722.68 474.64 L724.05 474.64 L725.41 474.62 L726.78 474.62 L728.15 474.64 L729.51 474.63 L730.88 474.64 L732.25 474.62 L733.61 474.62 L734.98 474.61 L736.34 474.63 L737.71 474.61 L739.08 474.61 L740.44 474.61 L741.81 474.61 L743.17 474.63 L744.54 474.60 L745.91 474.62 L747.27 474.60 L748.64 474.60 L750.00 474.60 L751.37 474.61 L752.74 474.60 L754.10 474.60 L755.47 474.60 L756.84 474.60 L758.20 474.60 L759.57 474.60 L760.93 474.60 L762.30 474.60" stroke="#0000ff" stroke-width="2.6"/>
<path d="M80.60 873.48 L81.97 873.31 L83.33 873.39 L84.70 873.32 L86.06 873.19 L87.43 873.25 L88.80 873.11 L90.16 873.12 L91.53 872.99 L92.90 873.24 L94.26 873.15 L95.63 873.14 L96.99 872.83 L98.36 872.86 L99.73 872.62 L101.09 872.61 L102.46 872.54 L103.82 872.14 L105.19 872.26 L106.56 872.25 L107.92 872.29 L109.29 871.83 L110.65 871.75 L112.02 871.97 L113.39 871.69 L114.75 871.50 L116.12 871.70 L117.49 871.33 L118.85 870.89 L120.22 871.32 L121.58 870.77 L122.95 870.29 L124.32 870.56 L125.68 870.27 L127.05 869.83 L128.41 869.44 L129.78 869.13 L131.15 869.23 L132.51 868.69 L133.88 868.10 L135.25 867.84 L136.61 867.08 L137.98 867.10 L139.34 866.76 L140.71 865.79 L142.08 866.02 L143.44 865.99 L144.81 865.43 L146.17 865.26 L147.54 864.77 L148.91 864.69 L150.27 864.80 L151.64 864.69 L153.01 864.61 L154.37 863.88 L155.74 863.49 L157.10 863.93 L158.47 863.39 L159.84 862.91 L161.20 862.55 L162.57 861.92 L163.93 861.35 L165.30 861.36 L166.67 860.43 L168.03 859.49 L169.40 858.82 L170.76 858.77 L172.13 858.35 L173.50 857.44 L174.86 856.35 L176.23 857.05 L177.60 856.43 L178.96 855.71 L180.33 854.68 L181.69 854.66 L183.06 853.43 L184.43 853.29 L185.79 852.02 L187.16 851.71 L188.52 851.03 L189.89 849.68 L191.26 849.88 L192.62 848.88 L193.99 847.32 L195.36 846.45 L196.72 845.87 L198.09 846.22 L199.45 843.77 L200.82 843.01 L202.19 842.39 L203.55 842.27 L204.92 839.68 L206.28 838.08 L207.65 837.69 L209.02 836.07 L210.38 836.08 L211.75 834.39 L213.11 833.68 L214.48 832.71 L215.85 830.93 L217.21 829.96 L218.58 828.49 L219.95 827.10 L221.31 825.44 L222.68 823.90 L224.04 822.13 L225.41 821.55 L226.78 818.94 L228.14 818.87 L229.51 815.98 L230.87 814.37 L232.24 814.49 L233.61 811.44 L234.97 808.75 L236.34 807.58 L237.71 806.63 L239.07 805.02 L240.44 802.71 L241.80 801.16 L243.17 798.97 L244.54 797.84 L245.90 795.57 L247.27 794.32 L248.63 793.61 L250.00 792.19 L251.37 790.17 L252.73 787.78 L254.10 787.21 L255.46 784.11 L256.83 784.50 L258.20 781.78 L259.56 780.67 L260.93 777.91 L262.30 776.34 L263.66 774.83 L265.03 773.99 L266.39 771.85 L267.76 769.79 L269.13 766.41 L270.49 765.89 L271.86 762.85 L273.22 760.38 L274.59 759.76 L275.96 756.89 L277.32 756.13 L278.69 752.41 L280.06 749.38 L281.42 748.99 L282.79 745.90 L284.15 743.67 L285.52 742.31 L286.89 741.33 L288.25 739.01 L289.62 738.22 L290.98 736.35 L292.35 732.07 L293.72 733.24 L295.08 731.84 L296.45 729.46 L297.82 727.78 L299.18 725.75 L300.55 725.63 L301.91 724.32 L303.28 722.64 L304.65 719.32 L306.01 717.33 L307.38 717.42 L308.74 715.43 L310.11 713.18 L311.48 712.31 L312.84 710.06 L314.21 706.85 L315.57 707.17 L316.94 703.78 L318.31 701.15 L319.67 701.56 L321.04 697.57 L322.41 696.81 L323.77 695.49 L325.14 692.24 L326.50 691.17 L327.87 689.62 L329.24 688.09 L330.60 686.48 L331.97 684.31 L333.33 682.12 L334.70 679.23 L336.07 678.36 L337.43 675.93 L338.80 674.71 L340.17 671.92 L341.53 670.51 L342.90 667.19 L344.26 666.21 L345.63 666.16 L347.00 662.67 L348.36 661.09 L349.73 657.87 L351.09 657.03 L352.46 654.49 L353.83 652.96 L355.19 652.73 L356.56 650.77 L357.92 648.82 L359.29 648.30 L360.66 642.24 L362.02 643.38 L363.39 643.43 L364.76 641.83 L366.12 638.61 L367.49 637.48 L368.85 637.10 L370.22 635.87 L371.59 632.91 L372.95 632.24 L374.32 630.33 L375.68 629.80 L377.05 627.58 L378.42 629.37 L379.78 625.87 L381.15 626.03 L382.52 624.92 L383.88 621.83 L385.25 623.33 L386.61 620.21 L387.98 619.05 L389.35 616.03 L390.71 616.93 L392.08 613.31 L393.44 611.05 L394.81 609.21 L396.18 606.71 L397.54 604.58 L398.91 603.52 L400.27 600.56 L401.64 599.95 L403.01 595.49 L404.37 593.74 L405.74 594.22 L407.11 590.22 L408.47 589.93 L409.84 589.63 L411.20 587.41 L412.57 584.77 L413.94 583.94 L415.30 583.41 L416.67 580.54 L418.03 580.05 L419.40 579.12 L420.77 578.68 L422.13 576.16 L423.50 575.01 L424.87 575.88 L426.23 574.48 L427.60 573.71 L428.96 572.53 L430.33 572.70 L431.70 569.03 L433.06 569.28 L434.43 567.39 L435.79 566.96 L437.16 563.43 L438.53 563.34 L439.89 563.81 L441.26 560.22 L442.63 559.93 L443.99 559.68 L445.36 557.83 L446.72 557.53 L448.09 555.28 L449.46 554.41 L450.82 555.06 L452.19 552.47 L453.55 551.18 L454.92 552.95 L456.29 548.88 L457.65 548.24 L459.02 546.82 L460.38 544.94 L461.75 544.60 L463.12 543.83 L464.48 541.69 L465.85 541.06 L467.22 539.64 L468.58 540.76 L469.95 538.48 L471.31 535.45 L472.68 536.27 L474.05 535.05 L475.41 534.79 L476.78 534.56 L478.14 533.02 L479.51 532.41 L480.88 532.51 L482.24 531.74 L483.61 530.52 L484.98 530.95 L486.34 530.40 L487.71 528.46 L489.07 527.95 L490.44 528.34 L491.81 526.62 L493.17 526.58 L494.54 526.35 L495.90 526.43 L497.27 525.03 L498.64 525.33 L500.00 524.43 L501.37 524.17 L502.73 522.33 L504.10 522.36 L505.47 521.74 L506.83 520.61 L508.20 518.73 L509.57 518.92 L510.93 519.81 L512.30 518.10 L513.66 517.30 L515.03 516.98 L516.40 516.50 L517.76 514.18 L519.13 514.07 L520.49 513.29 L521.86 512.93 L523.23 511.96 L524.59 511.46 L525.96 510.95 L527.33 510.47 L528.69 510.24 L530.06 509.43 L531.42 508.41 L532.79 508.26 L534.16 507.00 L535.52 507.12 L536.89 505.69 L538.25 506.39 L539.62 505.02 L540.99 504.08 L542.35 503.87 L543.72 504.19 L545.08 502.84 L546.45 503.11 L547.82 502.57 L549.18 502.41 L550.55 502.91 L551.92 501.40 L553.28 501.13 L554.65 500.63 L556.01 501.16 L557.38 499.96 L558.75 500.36 L560.11 500.29 L561.48 499.91 L562.84 499.01 L564.21 498.99 L565.58 497.76 L566.94 497.81 L568.31 497.34 L569.68 497.64 L571.04 497.75 L572.41 497.68 L573.77 496.72 L575.14 495.72 L576.51 495.40 L577.87 496.37 L579.24 495.17 L580.60 494.63 L581.97 495.02 L583.34 494.22 L584.70 494.18 L586.07 493.44 L587.44 493.05 L588.80 492.91 L590.17 492.45 L591.53 492.31 L592.90 491.63 L594.27 492.59 L595.63 490.76 L597.00 490.18 L598.36 490.75 L599.73 489.96 L601.10 489.32 L602.46 489.48 L603.83 489.14 L605.19 488.59 L606.56 487.99 L607.93 488.45 L609.29 487.58 L610.66 487.20 L612.03 487.60 L613.39 486.82 L614.76 486.14 L616.12 486.41 L617.49 486.26 L618.86 485.53 L620.22 486.00 L621.59 485.67 L622.95 485.00 L624.32 484.68 L625.69 485.41 L627.05 484.95 L628.42 484.57 L629.79 484.15 L631.15 484.24 L632.52 484.40 L633.88 483.81 L635.25 484.57 L636.62 483.70 L637.98 483.37 L639.35 483.11 L640.71 483.16 L642.08 483.56 L643.45 482.73 L644.81 483.02 L646.18 482.86 L647.54 482.27 L648.91 483.01 L650.28 481.72 L651.64 481.96 L653.01 481.84 L654.38 482.00 L655.74 481.65 L657.11 481.55 L658.47 481.54 L659.84 481.88 L661.21 481.26 L662.57 481.19 L663.94 480.91 L665.30 480.94 L666.67 480.87 L668.04 480.79 L669.40 481.09 L670.77 481.07 L672.14 480.55 L673.50 480.59 L674.87 480.22 L676.23 480.51 L677.60 480.26 L678.97 479.87 L680.33 479.95 L681.70 480.06 L683.06 479.65 L684.43 479.63 L685.80 479.84 L687.16 479.68 L688.53 479.42 L689.89 479.43 L691.26 479.37 L692.63 479.36 L693.99 479.75 L695.36 479.00 L696.73 478.97 L698.09 479.00 L699.46 479.28 L700.82 478.93 L702.19 478.78 L703.56 478.76 L704.92 478.67 L706.29 479.03 L707.65 478.41 L709.02 478.36 L710.39 478.28 L711.75 478.09 L713.12 478.24 L714.49 477.96 L715.85 478.37 L717.22 477.95 L718.58 478.05 L719.95 477.69 L721.32 477.96 L722.68 477.89 L724.05 477.84 L725.41 477.57 L726.78 477.71 L728.15 477.35 L729.51 477.29 L730.88 477.32 L732.25 477.22 L733.61 477.25 L734.98 476.76 L736.34 476.84 L737.71 477.04 L739.08 476.61 L740.44 476.81 L741.81 476.50 L743.17 476.35 L744.54 476.36 L745.91 476.27 L747.27 476.03 L748.64 475.88 L750.00 475.80 L751.37 475.65 L752.74 475.69 L754.10 475.43 L755.47 475.37 L756.84 475.15 L758.20 475.09 L759.57 474.92 L760.93 474.78 L762.30 474.60" stroke="#ff0000" stroke-width="2.6" stroke-dasharray="2.2 4.6"/>
<path d="M80.60 873.23 L81.97 873.39 L83.33 873.37 L84.70 873.37 L86.06 873.57 L87.43 873.29 L88.80 873.44 L90.16 873.20 L91.53 873.24 L92.90 872.98 L94.26 873.07 L95.63 872.98 L96.99 873.04 L98.36 872.74 L99.73 872.76 L101.09 872.56 L102.46 872.44 L103.82 872.34 L105.19 872.39 L106.56 872.54 L107.92 872.32 L109.29 871.89 L110.65 871.74 L112.02 871.57 L113.39 871.76 L114.75 871.71 L116.12 871.25 L117.49 871.12 L118.85 871.14 L120.22 871.02 L121.58 871.12 L122.95 870.71 L124.32 870.17 L125.68 870.36 L127.05 869.98 L128.41 869.59 L129.78 869.30 L131.15 869.30 L132.51 868.62 L133.88 868.27 L135.25 867.84 L136.61 867.49 L137.98 867.01 L139.34 866.94 L140.71 865.84 L142.08 866.09 L143.44 865.26 L144.81 864.99 L146.17 865.15 L147.54 865.35 L148.91 865.50 L150.27 865.17 L151.64 864.66 L153.01 864.39 L154.37 864.55 L155.74 864.29 L157.10 863.04 L158.47 863.49 L159.84 863.44 L161.20 862.18 L162.57 862.08 L163.93 862.05 L165.30 860.60 L166.67 860.45 L168.03 859.65 L169.40 858.49 L170.76 858.67 L172.13 858.56 L173.50 857.06 L174.86 858.08 L176.23 857.17 L177.60 855.54 L178.96 854.90 L180.33 855.06 L181.69 854.63 L183.06 853.52 L184.43 852.86 L185.79 852.24 L187.16 851.83 L188.52 851.49 L189.89 850.47 L191.26 849.55 L192.62 848.75 L193.99 848.07 L195.36 846.97 L196.72 846.95 L198.09 844.65 L199.45 843.46 L200.82 843.55 L202.19 842.98 L203.55 841.01 L204.92 839.85 L206.28 839.15 L207.65 837.39 L209.02 837.15 L210.38 836.34 L211.75 833.61 L213.11 833.63 L214.48 832.38 L215.85 832.32 L217.21 829.84 L218.58 828.71 L219.95 827.02 L221.31 825.22 L222.68 824.18 L224.04 823.71 L225.41 820.82 L226.78 819.86 L228.14 818.30 L229.51 817.28 L230.87 815.70 L232.24 815.28 L233.61 813.90 L234.97 811.77 L236.34 810.28 L237.71 808.07 L239.07 809.19 L240.44 805.58 L241.80 804.23 L243.17 801.17 L244.54 800.89 L245.90 799.29 L247.27 797.24 L248.63 795.33 L250.00 795.68 L251.37 793.52 L252.73 790.40 L254.10 789.06 L255.46 787.71 L256.83 784.83 L258.20 785.77 L259.56 782.74 L260.93 781.57 L262.30 779.21 L263.66 778.35 L265.03 775.74 L266.39 771.93 L267.76 771.81 L269.13 770.28 L270.49 767.14 L271.86 766.00 L273.22 762.64 L274.59 763.30 L275.96 761.38 L277.32 759.90 L278.69 756.33 L280.06 755.08 L281.42 749.86 L282.79 749.17 L284.15 746.87 L285.52 745.35 L286.89 743.73 L288.25 742.20 L289.62 741.68 L290.98 737.13 L292.35 737.30 L293.72 733.62 L295.08 733.07 L296.45 733.47 L297.82 730.98 L299.18 729.43 L300.55 728.05 L301.91 726.51 L303.28 724.43 L304.65 723.38 L306.01 721.89 L307.38 719.42 L308.74 717.81 L310.11 716.63 L311.48 713.95 L312.84 713.02 L314.21 710.40 L315.57 709.01 L316.94 706.06 L318.31 707.18 L319.67 701.85 L321.04 702.18 L322.41 698.71 L323.77 698.68 L325.14 696.43 L326.50 693.96 L327.87 692.97 L329.24 691.23 L330.60 689.05 L331.97 685.47 L333.33 686.88 L334.70 683.29 L336.07 679.92 L337.43 679.77 L338.80 676.01 L340.17 677.96 L341.53 675.18 L342.90 672.39 L344.26 670.76 L345.63 668.66 L347.00 665.34 L348.36 665.13 L349.73 661.76 L351.09 659.92 L352.46 658.57 L353.83 654.47 L355.19 655.32 L356.56 651.18 L357.92 652.31 L359.29 649.55 L360.66 648.11 L362.02 647.61 L363.39 644.41 L364.76 642.15 L366.12 640.97 L367.49 639.89 L368.85 636.89 L370.22 635.93 L371.59 634.79 L372.95 636.77 L374.32 632.86 L375.68 630.71 L377.05 631.70 L378.42 632.55 L379.78 629.38 L381.15 627.63 L382.52 627.95 L383.88 625.52 L385.25 623.53 L386.61 623.53 L387.98 621.86 L389.35 618.55 L390.71 618.53 L392.08 617.95 L393.44 614.69 L394.81 612.50 L396.18 610.79 L397.54 608.59 L398.91 606.82 L400.27 601.10 L401.64 602.40 L403.01 599.37 L404.37 597.09 L405.74 594.77 L407.11 594.40 L408.47 592.13 L409.84 591.33 L411.20 588.91 L412.57 589.44 L413.94 585.11 L415.30 584.48 L416.67 582.71 L418.03 582.16 L419.40 582.55 L420.77 580.36 L422.13 578.61 L423.50 576.02 L424.87 576.45 L426.23 574.60 L427.60 574.70 L428.96 574.72 L430.33 573.61 L431.70 571.98 L433.06 570.88 L434.43 571.09 L435.79 568.99 L437.16 567.55 L438.53 565.55 L439.89 563.59 L441.26 564.33 L442.63 562.56 L443.99 562.24 L445.36 558.04 L446.72 558.39 L448.09 558.74 L449.46 554.76 L450.82 555.72 L452.19 554.52 L453.55 553.42 L454.92 552.08 L456.29 553.24 L457.65 550.76 L459.02 548.91 L460.38 548.02 L461.75 547.06 L463.12 545.97 L464.48 545.25 L465.85 545.08 L467.22 542.99 L468.58 540.29 L469.95 539.51 L471.31 539.20 L472.68 537.77 L474.05 535.67 L475.41 536.23 L476.78 535.80 L478.14 532.57 L479.51 533.89 L480.88 533.75 L482.24 531.64 L483.61 532.45 L484.98 531.25 L486.34 530.45 L487.71 529.04 L489.07 530.00 L490.44 528.42 L491.81 529.43 L493.17 527.97 L494.54 527.29 L495.90 526.60 L497.27 524.88 L498.64 525.87 L500.00 525.33 L501.37 524.88 L502.73 524.26 L504.10 523.09 L505.47 522.62 L506.83 521.31 L508.20 521.66 L509.57 520.19 L510.93 519.59 L512.30 519.10 L513.66 518.19 L515.03 517.57 L516.40 517.11 L517.76 516.38 L519.13 516.54 L520.49 515.59 L521.86 514.34 L523.23 513.29 L524.59 512.60 L525.96 512.35 L527.33 511.99 L528.69 510.69 L530.06 510.19 L531.42 510.08 L532.79 508.43 L534.16 507.60 L535.52 507.60 L536.89 507.82 L538.25 506.50 L539.62 505.92 L540.99 506.22 L542.35 504.79 L543.72 504.60 L545.08 503.72 L546.45 504.09 L547.82 503.43 L549.18 503.01 L550.55 502.14 L551.92 502.78 L553.28 501.91 L554.65 500.69 L556.01 501.33 L557.38 501.48 L558.75 500.00 L560.11 499.89 L561.48 500.83 L562.84 499.66 L564.21 500.10 L565.58 499.13 L566.94 498.35 L568.31 498.12 L569.68 498.74 L571.04 498.30 L572.41 496.83 L573.77 497.01 L575.14 497.02 L576.51 496.50 L577.87 496.72 L579.24 496.70 L580.60 496.22 L581.97 495.02 L583.34 495.24 L584.70 494.17 L586.07 493.68 L587.44 493.57 L588.80 493.63 L590.17 493.14 L591.53 492.83 L592.90 492.06 L594.27 491.23 L595.63 491.23 L597.00 490.16 L598.36 490.39 L599.73 490.38 L601.10 490.37 L602.46 489.78 L603.83 489.62 L605.19 488.57 L606.56 488.44 L607.93 487.39 L609.29 487.51 L610.66 487.19 L612.03 487.48 L613.39 487.13 L614.76 486.47 L616.12 486.37 L617.49 486.47 L618.86 486.17 L620.22 485.73 L621.59 485.38 L622.95 485.29 L624.32 485.33 L625.69 485.13 L627.05 484.66 L628.42 484.66 L629.79 484.96 L631.15 484.61 L632.52 484.00 L633.88 483.55 L635.25 483.59 L636.62 483.91 L637.98 483.87 L639.35 482.76 L640.71 483.16 L642.08 483.22 L643.45 482.93 L644.81 482.68 L646.18 482.72 L647.54 482.54 L648.91 482.01 L650.28 482.45 L651.64 482.29 L653.01 481.96 L654.38 481.92 L655.74 481.86 L657.11 481.64 L658.47 481.80 L659.84 481.46 L661.21 481.51 L662.57 480.88 L663.94 481.31 L665.30 481.04 L666.67 480.69 L668.04 480.97 L669.40 480.66 L670.77 480.83 L672.14 480.70 L673.50 480.59 L674.87 480.47 L676.23 480.27 L677.60 480.72 L678.97 480.03 L680.33 479.98 L681.70 480.05 L683.06 480.03 L684.43 479.73 L685.80 479.71 L687.16 479.06 L688.53 479.23 L689.89 479.40 L691.26 479.44 L692.63 479.20 L693.99 479.51 L695.36 479.39 L696.73 478.95 L698.09 479.41 L699.46 479.02 L700.82 479.06 L702.19 478.82 L703.56 478.68 L704.92 478.75 L706.29 478.43 L707.65 478.56 L709.02 478.26 L710.39 478.38 L711.75 478.02 L713.12 477.94 L714.49 478.19 L715.85 478.63 L717.22 478.23 L718.58 478.06 L719.95 478.22 L721.32 478.02 L722.68 477.61 L724.05 477.86 L725.41 477.69 L726.78 477.36 L728.15 477.72 L729.51 477.61 L730.88 477.32 L732.25 477.45 L733.61 477.14 L734.98 476.95 L736.34 476.88 L737.71 476.92 L739.08 476.86 L740.44 476.61 L741.81 476.56 L743.17 476.41 L744.54 476.11 L745.91 476.41 L747.27 475.94 L748.64 476.02 L750.00 475.73 L751.37 475.70 L752.74 475.58 L754.10 475.44 L755.47 475.19 L756.84 475.11 L758.20 474.94 L759.57 474.95 L760.93 474.76 L762.30 474.60" stroke="#ff0000" stroke-width="2.6" stroke-dasharray="12 6"/>
<path d="M80.60 873.43 L81.97 873.36 L83.33 873.40 L84.70 873.42 L86.06 873.31 L87.43 873.51 L88.80 873.39 L90.16 873.35 L91.53 873.21 L92.90 873.17 L94.26 873.07 L95.63 872.93 L96.99 872.82 L98.36 872.77 L99.73 872.82 L101.09 872.57 L102.46 872.58 L103.82 872.22 L105.19 872.25 L106.56 872.25 L107.92 872.15 L109.29 872.18 L110.65 871.89 L112.02 871.98 L113.39 871.60 L114.75 871.86 L116.12 871.62 L117.49 871.02 L118.85 870.87 L120.22 870.77 L121.58 871.21 L122.95 870.96 L124.32 870.73 L125.68 870.53 L127.05 869.83 L128.41 869.67 L129.78 869.22 L131.15 868.98 L132.51 868.70 L133.88 867.61 L135.25 867.60 L136.61 867.65 L137.98 866.68 L139.34 866.84 L140.71 866.39 L142.08 865.58 L143.44 865.93 L144.81 865.50 L146.17 865.28 L147.54 864.46 L148.91 864.22 L150.27 864.62 L151.64 863.98 L153.01 864.88 L154.37 864.36 L155.74 863.72 L157.10 863.99 L158.47 863.46 L159.84 862.96 L161.20 862.14 L162.57 861.64 L163.93 861.71 L165.30 860.80 L166.67 860.42 L168.03 859.44 L169.40 859.84 L170.76 859.01 L172.13 857.73 L173.50 857.56 L174.86 856.19 L176.23 856.68 L177.60 857.25 L178.96 855.10 L180.33 854.83 L181.69 854.44 L183.06 854.23 L184.43 853.05 L185.79 852.00 L187.16 851.40 L188.52 850.79 L189.89 849.78 L191.26 849.22 L192.62 849.02 L193.99 847.54 L195.36 846.59 L196.72 844.98 L198.09 845.05 L199.45 844.70 L200.82 842.55 L202.19 841.79 L203.55 841.49 L204.92 840.81 L206.28 838.17 L207.65 838.94 L209.02 837.20 L210.38 835.51 L211.75 835.13 L213.11 833.41 L214.48 831.75 L215.85 831.04 L217.21 830.29 L218.58 828.54 L219.95 826.86 L221.31 824.66 L222.68 824.68 L224.04 821.53 L225.41 821.68 L226.78 818.65 L228.14 816.60 L229.51 815.68 L230.87 815.19 L232.24 812.30 L233.61 811.10 L234.97 810.01 L236.34 808.91 L237.71 807.46 L239.07 805.67 L240.44 802.15 L241.80 801.94 L243.17 800.37 L244.54 799.46 L245.90 797.20 L247.27 796.05 L248.63 794.78 L250.00 792.51 L251.37 791.35 L252.73 789.25 L254.10 787.83 L255.46 786.70 L256.83 784.05 L258.20 782.35 L259.56 783.56 L260.93 779.70 L262.30 777.93 L263.66 776.26 L265.03 773.16 L266.39 772.38 L267.76 770.97 L269.13 769.39 L270.49 766.22 L271.86 766.24 L273.22 763.03 L274.59 761.20 L275.96 758.69 L277.32 756.04 L278.69 754.62 L280.06 752.57 L281.42 749.56 L282.79 748.39 L284.15 744.42 L285.52 743.62 L286.89 743.22 L288.25 739.98 L289.62 739.00 L290.98 736.91 L292.35 734.05 L293.72 733.04 L295.08 733.21 L296.45 730.28 L297.82 729.60 L299.18 726.64 L300.55 726.08 L301.91 726.01 L303.28 726.23 L304.65 721.91 L306.01 720.41 L307.38 718.70 L308.74 714.09 L310.11 714.34 L311.48 711.82 L312.84 711.82 L314.21 708.45 L315.57 707.83 L316.94 707.03 L318.31 703.98 L319.67 701.88 L321.04 701.08 L322.41 696.74 L323.77 696.26 L325.14 696.00 L326.50 695.05 L327.87 689.99 L329.24 688.09 L330.60 686.37 L331.97 686.06 L333.33 684.16 L334.70 680.79 L336.07 679.90 L337.43 677.60 L338.80 675.03 L340.17 672.69 L341.53 672.64 L342.90 670.06 L344.26 667.65 L345.63 666.54 L347.00 662.99 L348.36 663.07 L349.73 659.68 L351.09 658.76 L352.46 655.31 L353.83 654.76 L355.19 653.88 L356.56 651.91 L357.92 651.27 L359.29 647.71 L360.66 646.95 L362.02 645.36 L363.39 642.97 L364.76 641.15 L366.12 640.34 L367.49 639.40 L368.85 635.54 L370.22 634.74 L371.59 633.66 L372.95 631.75 L374.32 631.73 L375.68 628.87 L377.05 629.57 L378.42 628.57 L379.78 627.12 L381.15 626.43 L382.52 625.02 L383.88 623.51 L385.25 623.05 L386.61 620.66 L387.98 619.66 L389.35 616.40 L390.71 617.01 L392.08 615.74 L393.44 613.90 L394.81 610.47 L396.18 608.25 L397.54 607.01 L398.91 602.98 L400.27 603.04 L401.64 600.37 L403.01 598.07 L404.37 595.91 L405.74 594.93 L407.11 591.21 L408.47 589.84 L409.84 589.20 L411.20 587.71 L412.57 586.35 L413.94 584.82 L415.30 582.75 L416.67 581.31 L418.03 580.31 L419.40 579.81 L420.77 579.64 L422.13 578.75 L423.50 576.14 L424.87 576.74 L426.23 575.22 L427.60 573.03 L428.96 572.92 L430.33 572.34 L431.70 571.36 L433.06 569.83 L434.43 568.57 L435.79 568.53 L437.16 567.24 L438.53 565.48 L439.89 563.39 L441.26 560.14 L442.63 560.56 L443.99 559.53 L445.36 557.68 L446.72 556.77 L448.09 557.12 L449.46 557.31 L450.82 552.57 L452.19 554.02 L453.55 553.17 L454.92 550.80 L456.29 551.52 L457.65 549.89 L459.02 549.60 L460.38 546.38 L461.75 546.23 L463.12 544.15 L464.48 542.27 L465.85 541.87 L467.22 538.99 L468.58 539.86 L469.95 540.05 L471.31 537.41 L472.68 536.54 L474.05 535.71 L475.41 536.16 L476.78 535.29 L478.14 534.27 L479.51 532.86 L480.88 532.93 L482.24 531.24 L483.61 530.96 L484.98 530.47 L486.34 530.89 L487.71 531.09 L489.07 529.13 L490.44 527.74 L491.81 527.55 L493.17 528.24 L494.54 526.60 L495.90 526.54 L497.27 525.68 L498.64 526.29 L500.00 525.57 L501.37 524.46 L502.73 522.90 L504.10 523.25 L505.47 522.27 L506.83 520.78 L508.20 521.24 L509.57 520.49 L510.93 519.87 L512.30 517.95 L513.66 518.27 L515.03 518.08 L516.40 516.90 L517.76 515.63 L519.13 514.98 L520.49 514.05 L521.86 512.99 L523.23 512.85 L524.59 512.60 L525.96 512.73 L527.33 510.79 L528.69 509.79 L530.06 509.28 L531.42 508.58 L532.79 508.63 L534.16 507.32 L535.52 508.04 L536.89 507.32 L538.25 507.00 L539.62 505.11 L540.99 504.73 L542.35 504.30 L543.72 503.33 L545.08 504.46 L546.45 503.29 L547.82 503.25 L549.18 503.03 L550.55 501.91 L551.92 502.15 L553.28 502.15 L554.65 500.90 L556.01 501.18 L557.38 500.68 L558.75 499.88 L560.11 500.13 L561.48 499.84 L562.84 499.17 L564.21 498.27 L565.58 499.52 L566.94 497.65 L568.31 497.66 L569.68 497.61 L571.04 497.23 L572.41 497.75 L573.77 496.69 L575.14 496.05 L576.51 496.16 L577.87 496.59 L579.24 495.68 L580.60 495.82 L581.97 495.39 L583.34 494.96 L584.70 493.76 L586.07 493.08 L587.44 493.44 L588.80 492.53 L590.17 492.85 L591.53 492.41 L592.90 491.35 L594.27 490.60 L595.63 490.61 L597.00 491.73 L598.36 490.54 L599.73 489.94 L601.10 489.58 L602.46 489.68 L603.83 487.97 L605.19 489.36 L606.56 488.34 L607.93 488.36 L609.29 487.85 L610.66 487.44 L612.03 487.41 L613.39 486.86 L614.76 487.24 L616.12 486.78 L617.49 486.12 L618.86 486.47 L620.22 485.70 L621.59 485.84 L622.95 485.85 L624.32 485.26 L625.69 485.32 L627.05 484.35 L628.42 484.69 L629.79 484.03 L631.15 484.67 L632.52 483.88 L633.88 484.06 L635.25 483.68 L636.62 483.90 L637.98 483.24 L639.35 482.82 L640.71 483.51 L642.08 483.40 L643.45 482.40 L644.81 483.19 L646.18 482.78 L647.54 482.79 L648.91 482.91 L650.28 482.47 L651.64 482.26 L653.01 482.70 L654.38 481.67 L655.74 481.82 L657.11 482.43 L658.47 481.61 L659.84 480.93 L661.21 481.64 L662.57 481.25 L663.94 480.73 L665.30 481.66 L666.67 480.63 L668.04 480.36 L669.40 480.36 L670.77 480.94 L672.14 480.34 L673.50 480.48 L674.87 479.96 L676.23 479.96 L677.60 480.23 L678.97 480.06 L680.33 480.17 L681.70 479.96 L683.06 479.85 L684.43 479.70 L685.80 479.68 L687.16 479.72 L688.53 479.45 L689.89 479.50 L691.26 479.33 L692.63 479.43 L693.99 478.89 L695.36 478.85 L696.73 478.80 L698.09 479.20 L699.46 478.87 L700.82 478.92 L702.19 478.78 L703.56 478.62 L704.92 478.49 L706.29 478.76 L707.65 478.28 L709.02 478.21 L710.39 478.17 L711.75 478.47 L713.12 478.23 L714.49 478.21 L715.85 478.28 L717.22 478.23 L718.58 478.02 L719.95 478.13 L721.32 478.12 L722.68 477.84 L724.05 477.73 L725.41 477.49 L726.78 477.29 L728.15 477.71 L729.51 477.36 L730.88 477.22 L732.25 477.40 L733.61 477.21 L734.98 477.04 L736.34 477.00 L737.71 476.75 L739.08 476.51 L740.44 476.37 L741.81 476.56 L743.17 476.48 L744.54 476.18 L745.91 476.22 L747.27 476.07 L748.64 475.85 L750.00 475.91 L751.37 475.53 L752.74 475.59 L754.10 475.39 L755.47 475.34 L756.84 475.13 L758.20 475.07 L759.57 474.97 L760.93 474.76 L762.30 474.60" stroke="#ff0000" stroke-width="2.6"/>
<path d="M80.60 871.80 L82.88 871.51 L85.16 871.19 L87.44 870.84 L89.72 870.43 L92.00 869.94 L94.28 869.38 L96.56 868.71 L98.84 867.87 L101.12 866.89 L103.40 865.98 L105.68 865.16 L107.96 864.23 L110.24 863.16 L112.52 861.92 L114.80 860.53 L117.08 858.98 L119.36 857.25 L121.64 855.42 L123.92 853.63 L126.20 852.05 L128.48 850.21 L130.76 848.20 L133.04 846.05 L135.32 843.79 L137.60 841.40 L139.88 838.91 L142.16 836.31 L144.44 833.60 L146.72 830.78 L149.00 827.87 L151.28 824.86 L153.56 821.76 L155.84 818.57 L158.12 815.29 L160.40 811.93 L162.68 808.50 L164.96 804.99 L167.24 801.41 L169.52 797.77 L171.80 794.06 L174.08 790.30 L176.36 786.47 L178.64 782.59 L180.92 778.67 L183.20 774.69 L185.48 770.68 L187.76 766.64 L190.04 762.56 L192.32 758.46 L194.60 754.35 L196.88 750.22 L199.16 746.08 L201.44 741.94 L203.72 737.80 L206.00 733.67 L208.28 729.54 L210.56 725.44 L212.84 721.35 L215.12 717.28 L217.40 713.25 L219.68 709.24 L221.96 705.27 L224.24 701.34 L226.52 697.46 L228.80 693.64 L231.08 689.87 L233.36 686.16 L235.64 682.51 L237.92 678.91 L240.20 675.35 L242.48 671.85 L244.76 668.39 L247.04 664.98 L249.32 661.61 L251.59 658.27 L253.87 654.98 L256.15 651.72 L258.43 648.49 L260.71 645.30 L262.99 642.13 L265.27 638.98 L267.55 635.86 L269.83 632.76 L272.11 629.67 L274.39 626.60 L276.67 623.54 L278.95 620.50 L281.23 617.49 L283.51 614.52 L285.79 611.60 L288.07 608.72 L290.35 605.88 L292.63 603.09 L294.91 600.34 L297.19 597.63 L299.47 594.97 L301.75 592.35 L304.03 589.77 L306.31 587.24 L308.59 584.74 L310.87 582.29 L313.15 579.89 L315.43 577.52 L317.71 575.20 L319.99 572.92 L322.27 570.68 L324.55 568.48 L326.83 566.32 L329.11 564.20 L331.39 562.13 L333.67 560.09 L335.95 558.10 L338.23 556.14 L340.51 554.22 L342.79 552.34 L345.07 550.50 L347.35 548.70 L349.63 546.94 L351.91 545.23 L354.19 543.55 L356.47 541.92 L358.75 540.32 L361.03 538.76 L363.31 537.24 L365.59 535.75 L367.87 534.30 L370.15 532.89 L372.43 531.50 L374.71 530.15 L376.99 528.84 L379.27 527.55 L381.55 526.29 L383.83 525.07 L386.11 523.87 L388.39 522.70 L390.67 521.56 L392.95 520.44 L395.23 519.34 L397.51 518.28 L399.79 517.23 L402.07 516.21 L404.35 515.20 L406.63 514.22 L408.91 513.26 L411.19 512.32 L413.47 511.40 L415.75 510.49 L418.03 509.60 L420.31 508.73 L422.59 507.87 L424.87 507.03 L427.15 506.20 L429.43 505.37 L431.71 504.54 L433.99 503.72 L436.27 502.90 L438.55 502.08 L440.83 501.28 L443.11 500.47 L445.39 499.68 L447.67 498.89 L449.95 498.11 L452.23 497.35 L454.51 496.59 L456.79 495.84 L459.07 495.11 L461.35 494.38 L463.63 493.67 L465.91 492.98 L468.19 492.30 L470.47 491.63 L472.75 490.98 L475.03 490.35 L477.31 489.74 L479.59 489.15 L481.87 488.57 L484.15 488.02 L486.43 487.49 L488.71 486.98 L490.99 486.49 L493.27 486.02 L495.55 485.57 L497.83 485.12 L500.11 484.69 L502.39 484.26 L504.67 483.85 L506.95 483.44 L509.23 483.05 L511.51 482.66 L513.79 482.28 L516.07 481.91 L518.35 481.55 L520.63 481.20 L522.91 480.86 L525.19 480.53 L527.47 480.21 L529.75 479.89 L532.03 479.59 L534.31 479.29 L536.59 479.00 L538.87 478.72 L541.15 478.45 L543.43 478.19 L545.71 477.94 L547.99 477.69 L550.27 477.46 L552.55 477.23 L554.83 477.01 L557.11 476.80 L559.39 476.60 L561.67 476.41 L563.95 476.23 L566.23 476.05 L568.51 475.89 L570.79 475.73 L573.07 475.59 L575.35 475.46 L577.63 475.34 L579.91 475.23 L582.19 475.14 L584.47 475.05 L586.75 474.97 L589.03 474.90 L591.31 474.84 L593.58 474.79 L595.86 474.75 L598.14 474.71 L600.42 474.68 L602.70 474.65 L604.98 474.63 L607.26 474.62 L609.54 474.61 L611.82 474.60 L614.10 474.60 L616.38 474.60 L618.66 474.60 L620.94 474.60 L623.22 474.60 L625.50 474.60 L627.78 474.60 L630.06 474.60 L632.34 474.60 L634.62 474.60 L636.90 474.60 L639.18 474.60 L641.46 474.60 L643.74 474.60 L646.02 474.60 L648.30 474.60 L650.58 474.60 L652.86 474.60 L655.14 474.60 L657.42 474.60 L659.70 474.60 L661.98 474.60 L664.26 474.60 L666.54 474.60 L668.82 474.60 L671.10 474.60 L673.38 474.60 L675.66 474.60 L677.94 474.60 L680.22 474.60 L682.50 474.60 L684.78 474.60 L687.06 474.60 L689.34 474.60 L691.62 474.60 L693.90 474.60 L696.18 474.60 L698.46 474.60 L700.74 474.60 L703.02 474.60 L705.30 474.60 L707.58 474.60 L709.86 474.60 L712.14 474.60 L714.42 474.60 L716.70 474.60 L718.98 474.60 L721.26 474.60 L723.54 474.60 L725.82 474.60 L728.10 474.60 L730.38 474.60 L732.66 474.60 L734.94 474.60 L737.22 474.60 L739.50 474.60 L741.78 474.60 L744.06 474.60 L746.34 474.60 L748.62 474.60 L750.90 474.60 L753.18 474.60 L755.46 474.60 L757.74 474.60 L760.02 474.60 L762.30 474.60" stroke="#000" stroke-width="2.2"/>
</g>
<rect x="117.6" y="843.4" width="13.7" height="13.7" fill="none" stroke="#000" stroke-width="2.7"/>
<rect x="169.6" y="779.5" width="13.7" height="13.7" fill="none" stroke="#000" stroke-width="2.7"/>
<rect x="217.3" y="694.5" width="13.7" height="13.7" fill="none" stroke="#000" stroke-width="2.7"/>
<rect x="270.8" y="615.4" width="13.7" height="13.7" fill="none" stroke="#000" stroke-width="2.7"/>
<rect x="338.3" y="543.5" width="13.7" height="13.7" fill="none" stroke="#000" stroke-width="2.7"/>
<rect x="418.6" y="499.9" width="13.7" height="13.7" fill="none" stroke="#000" stroke-width="2.7"/>
<rect x="485.0" y="479.4" width="13.7" height="13.7" fill="none" stroke="#000" stroke-width="2.7"/>
<rect x="561.4" y="469.0" width="13.7" height="13.7" fill="none" stroke="#000" stroke-width="2.7"/>
<rect x="80.6" y="474.6" width="681.7" height="400.0" fill="none" stroke="#111" stroke-width="1.8"/>
<text transform="translate(80.60 900.00) scale(1.000 1.080)" x="0" y="0" font-size="22.0" text-anchor="middle" font-family='"Liberation Sans", sans-serif' fill="#3a3a3a">0</text>
<text transform="translate(156.34 900.00) scale(1.000 1.080)" x="0" y="0" font-size="22.0" text-anchor="middle" font-family='"Liberation Sans", sans-serif' fill="#3a3a3a">200</text>
<text transform="translate(232.09 900.00) scale(1.000 1.080)" x="0" y="0" font-size="22.0" text-anchor="middle" font-family='"Liberation Sans", sans-serif' fill="#3a3a3a">400</text>
<text transform="translate(307.83 900.00) scale(1.000 1.080)" x="0" y="0" font-size="22.0" text-anchor="middle" font-family='"Liberation Sans", sans-serif' fill="#3a3a3a">600</text>
<text transform="translate(383.58 900.00) scale(1.000 1.080)" x="0" y="0" font-size="22.0" text-anchor="middle" font-family='"Liberation Sans", sans-serif' fill="#3a3a3a">800</text>
<text transform="translate(459.32 900.00) scale(1.000 1.080)" x="0" y="0" font-size="22.0" text-anchor="middle" font-family='"Liberation Sans", sans-serif' fill="#3a3a3a">1000</text>
<text transform="translate(535.07 900.00) scale(1.000 1.080)" x="0" y="0" font-size="22.0" text-anchor="middle" font-family='"Liberation Sans", sans-serif' fill="#3a3a3a">1200</text>
<text transform="translate(610.81 900.00) scale(1.000 1.080)" x="0" y="0" font-size="22.0" text-anchor="middle" font-family='"Liberation Sans", sans-serif' fill="#3a3a3a">1400</text>
<text transform="translate(686.56 900.00) scale(1.000 1.080)" x="0" y="0" font-size="22.0" text-anchor="middle" font-family='"Liberation Sans", sans-serif' fill="#3a3a3a">1600</text>
<text transform="translate(762.30 900.00) scale(1.000 1.080)" x="0" y="0" font-size="22.0" text-anchor="middle" font-family='"Liberation Sans", sans-serif' fill="#3a3a3a">1800</text>
<text transform="translate(74.00 882.80) scale(0.955 1.080)" x="0" y="0" font-size="22.0" text-anchor="end" font-family='"Liberation Sans", sans-serif' fill="#3a3a3a">0</text>
<text transform="translate(74.00 842.80) scale(0.955 1.080)" x="0" y="0" font-size="22.0" text-anchor="end" font-family='"Liberation Sans", sans-serif' fill="#3a3a3a">0.1</text>
<text transform="translate(74.00 802.80) scale(0.955 1.080)" x="0" y="0" font-size="22.0" text-anchor="end" font-family='"Liberation Sans", sans-serif' fill="#3a3a3a">0.2</text>
<text transform="translate(74.00 762.80) scale(0.955 1.080)" x="0" y="0" font-size="22.0" text-anchor="end" font-family='"Liberation Sans", sans-serif' fill="#3a3a3a">0.3</text>
<text transform="translate(74.00 722.80) scale(0.955 1.080)" x="0" y="0" font-size="22.0" text-anchor="end" font-family='"Liberation Sans", sans-serif' fill="#3a3a3a">0.4</text>
<text transform="translate(74.00 682.80) scale(0.955 1.080)" x="0" y="0" font-size="22.0" text-anchor="end" font-family='"Liberation Sans", sans-serif' fill="#3a3a3a">0.5</text>
<text transform="translate(74.00 642.80) scale(0.955 1.080)" x="0" y="0" font-size="22.0" text-anchor="end" font-family='"Liberation Sans", sans-serif' fill="#3a3a3a">0.6</text>
<text transform="translate(74.00 602.80) scale(0.955 1.080)" x="0" y="0" font-size="22.0" text-anchor="end" font-family='"Liberation Sans", sans-serif' fill="#3a3a3a">0.7</text>
<text transform="translate(74.00 562.80) scale(0.955 1.080)" x="0" y="0" font-size="22.0" text-anchor="end" font-family='"Liberation Sans", sans-serif' fill="#3a3a3a">0.8</text>
<text transform="translate(74.00 522.80) scale(0.955 1.080)" x="0" y="0" font-size="22.0" text-anchor="end" font-family='"Liberation Sans", sans-serif' fill="#3a3a3a">0.9</text>
<text transform="translate(74.00 482.80) scale(0.955 1.080)" x="0" y="0" font-size="22.0" text-anchor="end" font-family='"Liberation Sans", sans-serif' fill="#3a3a3a">1</text>
<rect x="536.0" y="52.0" width="220.0" height="114.0" fill="#fff" stroke="none"/>
<path d="M652.4 148.0 V57.0 M574.0 102.5 H730.7" stroke="#222" stroke-width="1.3" stroke-dasharray="1.3 3.3" fill="none"/>
<defs><clipPath id="clipa"><rect x="574.0" y="57.0" width="156.7" height="91.0"/></clipPath></defs>
<g clip-path="url(#clipa)" fill="none">
<path d="M574.00 146.18 L574.55 146.16 L575.10 146.14 L575.65 146.12 L576.20 146.10 L576.75 146.08 L577.30 146.06 L577.85 146.04 L578.40 146.01 L578.95 145.99 L579.50 145.96 L580.05 145.94 L580.60 145.91 L581.15 145.89 L581.70 145.86 L582.25 145.83 L582.80 145.80 L583.35 145.77 L583.91 145.74 L584.46 145.71 L585.01 145.68 L585.56 145.65 L586.11 145.61 L586.66 145.58 L587.21 145.55 L587.76 145.51 L588.31 145.48 L588.86 145.44 L589.41 145.41 L589.96 145.37 L590.51 145.33 L591.06 145.30 L591.61 145.26 L592.16 145.22 L592.71 145.18 L593.26 145.14 L593.81 145.10 L594.36 145.06 L594.91 145.02 L595.46 144.98 L596.01 144.94 L596.56 144.90 L597.11 144.86 L597.66 144.82 L598.21 144.78 L598.76 144.74 L599.31 144.69 L599.86 144.65 L600.41 144.61 L600.96 144.56 L601.51 144.52 L602.06 144.47 L602.61 144.43 L603.17 144.38 L603.72 144.33 L604.27 144.28 L604.82 144.23 L605.37 144.18 L605.92 144.13 L606.47 144.08 L607.02 144.02 L607.57 143.97 L608.12 143.91 L608.67 143.86 L609.22 143.80 L609.77 143.74 L610.32 143.68 L610.87 143.62 L611.42 143.56 L611.97 143.50 L612.52 143.44 L613.07 143.38 L613.62 143.31 L614.17 143.25 L614.72 143.18 L615.27 143.12 L615.82 143.05 L616.37 142.98 L616.92 142.91 L617.47 142.84 L618.02 142.77 L618.57 142.70 L619.12 142.63 L619.67 142.56 L620.22 142.49 L620.77 142.41 L621.32 142.34 L621.87 142.26 L622.43 142.19 L622.98 142.11 L623.53 142.03 L624.08 141.96 L624.63 141.88 L625.18 141.80 L625.73 141.72 L626.28 141.64 L626.83 141.56 L627.38 141.48 L627.93 141.40 L628.48 141.32 L629.03 141.23 L629.58 141.15 L630.13 141.07 L630.68 140.98 L631.23 140.89 L631.78 140.80 L632.33 140.71 L632.88 140.62 L633.43 140.52 L633.98 140.42 L634.53 140.32 L635.08 140.22 L635.63 140.11 L636.18 140.00 L636.73 139.89 L637.28 139.77 L637.83 139.65 L638.38 139.53 L638.93 139.40 L639.48 139.27 L640.03 139.13 L640.58 138.99 L641.13 138.84 L641.68 138.69 L642.24 138.54 L642.79 138.38 L643.34 138.20 L643.89 138.01 L644.44 137.80 L644.99 137.58 L645.54 137.34 L646.09 137.09 L646.64 136.83 L647.19 136.56 L647.74 136.27 L648.29 135.97 L648.84 135.66 L649.39 135.34 L649.94 135.01 L650.49 134.67 L651.04 134.32 L651.59 133.97 L652.14 133.60 L652.69 133.23 L653.24 132.86 L653.79 132.45 L654.34 132.01 L654.89 131.54 L655.44 131.04 L655.99 130.52 L656.54 129.99 L657.09 129.43 L657.64 128.86 L658.19 128.28 L658.74 127.70 L659.29 127.11 L659.84 126.52 L660.39 125.94 L660.94 125.33 L661.50 124.70 L662.05 124.05 L662.60 123.39 L663.15 122.72 L663.70 122.05 L664.25 121.36 L664.80 120.68 L665.35 120.00 L665.90 119.33 L666.45 118.67 L667.00 118.02 L667.55 117.38 L668.10 116.76 L668.65 116.13 L669.20 115.52 L669.75 114.90 L670.30 114.29 L670.85 113.68 L671.40 113.06 L671.95 112.45 L672.50 111.83 L673.05 111.21 L673.60 110.58 L674.15 109.94 L674.70 109.29 L675.25 108.64 L675.80 107.99 L676.35 107.33 L676.90 106.66 L677.45 106.00 L678.00 105.33 L678.55 104.65 L679.10 103.98 L679.65 103.30 L680.20 102.61 L680.76 101.93 L681.31 101.24 L681.86 100.57 L682.41 99.91 L682.96 99.25 L683.51 98.61 L684.06 97.96 L684.61 97.32 L685.16 96.68 L685.71 96.03 L686.26 95.37 L686.81 94.70 L687.36 94.02 L687.91 93.33 L688.46 92.62 L689.01 91.89 L689.56 91.13 L690.11 90.36 L690.66 89.55 L691.21 88.71 L691.76 87.84 L692.31 86.93 L692.86 85.96 L693.41 84.93 L693.96 83.85 L694.51 82.72 L695.06 81.54 L695.61 80.32 L696.16 79.06 L696.71 77.77 L697.26 76.45 L697.81 75.11 L698.36 73.74 L698.91 72.36 L699.46 70.97 L700.02 69.57 L700.57 68.17 L701.12 66.77 L701.67 65.37 L702.22 63.99 L702.77 62.62 L703.32 61.26 L703.87 59.93 L704.42 58.63 L704.97 57.35 L705.52 56.08 L706.07 54.81 L706.62 53.53 L707.17 52.25 L707.72 50.97 L708.27 49.70 L708.82 48.42 L709.37 47.14 L709.92 45.87 L710.47 44.60 L711.02 43.33 L711.57 42.07 L712.12 40.81 L712.67 39.55 L713.22 38.31 L713.77 37.06 L714.32 35.83 L714.87 34.60 L715.42 33.38 L715.97 32.16 L716.52 30.94 L717.07 29.72 L717.62 28.51 L718.17 27.30 L718.72 26.09 L719.28 24.88 L719.83 23.67 L720.38 22.47 L720.93 21.26 L721.48 20.06 L722.03 18.87 L722.58 17.67 L723.13 16.48 L723.68 15.29 L724.23 14.10 L724.78 12.91 L725.33 11.73 L725.88 10.55 L726.43 9.37 L726.98 8.20 L727.53 7.02 L728.08 5.85 L728.63 4.69 L729.18 3.52 L729.73 2.36 L730.28 1.20 L730.83 0.04 L731.38 -1.11 L731.93 -2.26 L732.48 -3.40 L733.03 -4.55 L733.58 -5.69 L734.13 -6.83 L734.68 -7.96 L735.23 -9.09 L735.78 -10.22 L736.33 -11.34 L736.88 -12.46 L737.43 -13.58 L737.98 -14.69 L738.54 -15.80" stroke="#0000ff" stroke-width="1.8"/>
<path d="M571.65 144.36 L572.20 144.34 L572.75 144.32 L573.30 144.30 L573.85 144.28 L574.40 144.26 L574.95 144.24 L575.50 144.22 L576.05 144.19 L576.60 144.17 L577.15 144.14 L577.70 144.12 L578.25 144.09 L578.80 144.07 L579.35 144.04 L579.90 144.01 L580.45 143.98 L581.00 143.95 L581.55 143.92 L582.10 143.89 L582.66 143.86 L583.21 143.83 L583.76 143.79 L584.31 143.76 L584.86 143.73 L585.41 143.69 L585.96 143.66 L586.51 143.62 L587.06 143.59 L587.61 143.55 L588.16 143.51 L588.71 143.48 L589.26 143.44 L589.81 143.40 L590.36 143.36 L590.91 143.32 L591.46 143.28 L592.01 143.24 L592.56 143.20 L593.11 143.16 L593.66 143.12 L594.21 143.08 L594.76 143.04 L595.31 143.00 L595.86 142.96 L596.41 142.92 L596.96 142.87 L597.51 142.83 L598.06 142.79 L598.61 142.74 L599.16 142.70 L599.71 142.65 L600.26 142.61 L600.81 142.56 L601.36 142.51 L601.92 142.46 L602.47 142.41 L603.02 142.36 L603.57 142.31 L604.12 142.26 L604.67 142.20 L605.22 142.15 L605.77 142.09 L606.32 142.04 L606.87 141.98 L607.42 141.92 L607.97 141.86 L608.52 141.80 L609.07 141.74 L609.62 141.68 L610.17 141.62 L610.72 141.56 L611.27 141.49 L611.82 141.43 L612.37 141.36 L612.92 141.30 L613.47 141.23 L614.02 141.16 L614.57 141.09 L615.12 141.02 L615.67 140.95 L616.22 140.88 L616.77 140.81 L617.32 140.74 L617.87 140.67 L618.42 140.59 L618.97 140.52 L619.52 140.44 L620.07 140.37 L620.62 140.29 L621.18 140.21 L621.73 140.14 L622.28 140.06 L622.83 139.98 L623.38 139.90 L623.93 139.82 L624.48 139.74 L625.03 139.66 L625.58 139.58 L626.13 139.50 L626.68 139.41 L627.23 139.33 L627.78 139.25 L628.33 139.16 L628.88 139.07 L629.43 138.98 L629.98 138.89 L630.53 138.80 L631.08 138.70 L631.63 138.60 L632.18 138.50 L632.73 138.40 L633.28 138.29 L633.83 138.18 L634.38 138.07 L634.93 137.95 L635.48 137.83 L636.03 137.71 L636.58 137.58 L637.13 137.45 L637.68 137.31 L638.23 137.17 L638.78 137.02 L639.33 136.87 L639.88 136.72 L640.44 136.56 L640.99 136.38 L641.54 136.19 L642.09 135.98 L642.64 135.76 L643.19 135.52 L643.74 135.27 L644.29 135.01 L644.84 134.74 L645.39 134.45 L645.94 134.15 L646.49 133.84 L647.04 133.52 L647.59 133.19 L648.14 132.85 L648.69 132.50 L649.24 132.15 L649.79 131.78 L650.34 131.41 L650.89 131.04 L651.44 130.63 L651.99 130.19 L652.54 129.72 L653.09 129.22 L653.64 128.70 L654.19 128.17 L654.74 127.61 L655.29 127.04 L655.84 126.46 L656.39 125.88 L656.94 125.29 L657.49 124.70 L658.04 124.12 L658.59 123.51 L659.14 122.88 L659.69 122.23 L660.25 121.57 L660.80 120.90 L661.35 120.23 L661.90 119.54 L662.45 118.86 L663.00 118.18 L663.55 117.51 L664.10 116.85 L664.65 116.20 L665.20 115.56 L665.75 114.94 L666.30 114.31 L666.85 113.70 L667.40 113.08 L667.95 112.47 L668.50 111.86 L669.05 111.24 L669.60 110.63 L670.15 110.01 L670.70 109.39 L671.25 108.76 L671.80 108.12 L672.35 107.47 L672.90 106.82 L673.45 106.17 L674.00 105.51 L674.55 104.84 L675.10 104.18 L675.65 103.51 L676.20 102.83 L676.75 102.16 L677.30 101.48 L677.85 100.79 L678.40 100.11 L678.95 99.42 L679.51 98.75 L680.06 98.09 L680.61 97.43 L681.16 96.79 L681.71 96.14 L682.26 95.50 L682.81 94.86 L683.36 94.21 L683.91 93.55 L684.46 92.88 L685.01 92.20 L685.56 91.51 L686.11 90.80 L686.66 90.07 L687.21 89.31 L687.76 88.54 L688.31 87.73 L688.86 86.89 L689.41 86.02 L689.96 85.11 L690.51 84.14 L691.06 83.11 L691.61 82.03 L692.16 80.90 L692.71 79.72 L693.26 78.50 L693.81 77.24 L694.36 75.95 L694.91 74.63 L695.46 73.29 L696.01 71.92 L696.56 70.54 L697.11 69.15 L697.66 67.75 L698.21 66.35 L698.77 64.95 L699.32 63.55 L699.87 62.17 L700.42 60.80 L700.97 59.44 L701.52 58.11 L702.07 56.81 L702.62 55.53 L703.17 54.26 L703.72 52.99 L704.27 51.71 L704.82 50.43 L705.37 49.15 L705.92 47.88 L706.47 46.60 L707.02 45.32 L707.57 44.05 L708.12 42.78 L708.67 41.51 L709.22 40.25 L709.77 38.99 L710.32 37.73 L710.87 36.49 L711.42 35.24 L711.97 34.01 L712.52 32.78 L713.07 31.56 L713.62 30.34 L714.17 29.12 L714.72 27.90 L715.27 26.69 L715.82 25.48 L716.37 24.27 L716.92 23.06 L717.47 21.85 L718.03 20.65 L718.58 19.44 L719.13 18.24 L719.68 17.05 L720.23 15.85 L720.78 14.66 L721.33 13.47 L721.88 12.28 L722.43 11.09 L722.98 9.91 L723.53 8.73 L724.08 7.55 L724.63 6.38 L725.18 5.20 L725.73 4.03 L726.28 2.87 L726.83 1.70 L727.38 0.54 L727.93 -0.62 L728.48 -1.78 L729.03 -2.93 L729.58 -4.08 L730.13 -5.22 L730.68 -6.37 L731.23 -7.51 L731.78 -8.65 L732.33 -9.78 L732.88 -10.91 L733.43 -12.04 L733.98 -13.16 L734.53 -14.28 L735.08 -15.40 L735.63 -16.51 L736.18 -17.62" stroke="#0000ff" stroke-width="1.8" stroke-dasharray="5 3"/>
<path d="M572.43 143.45 L572.98 143.43 L573.53 143.41 L574.08 143.39 L574.63 143.37 L575.18 143.35 L575.73 143.33 L576.28 143.31 L576.84 143.28 L577.39 143.26 L577.94 143.23 L578.49 143.21 L579.04 143.18 L579.59 143.16 L580.14 143.13 L580.69 143.10 L581.24 143.07 L581.79 143.04 L582.34 143.01 L582.89 142.98 L583.44 142.95 L583.99 142.92 L584.54 142.88 L585.09 142.85 L585.64 142.82 L586.19 142.78 L586.74 142.75 L587.29 142.71 L587.84 142.68 L588.39 142.64 L588.94 142.60 L589.49 142.57 L590.04 142.53 L590.59 142.49 L591.14 142.45 L591.69 142.41 L592.24 142.37 L592.79 142.33 L593.34 142.29 L593.89 142.25 L594.44 142.21 L594.99 142.17 L595.54 142.13 L596.10 142.09 L596.65 142.05 L597.20 142.01 L597.75 141.96 L598.30 141.92 L598.85 141.88 L599.40 141.83 L599.95 141.79 L600.50 141.74 L601.05 141.70 L601.60 141.65 L602.15 141.60 L602.70 141.55 L603.25 141.50 L603.80 141.45 L604.35 141.40 L604.90 141.35 L605.45 141.29 L606.00 141.24 L606.55 141.18 L607.10 141.13 L607.65 141.07 L608.20 141.01 L608.75 140.95 L609.30 140.89 L609.85 140.83 L610.40 140.77 L610.95 140.71 L611.50 140.65 L612.05 140.58 L612.60 140.52 L613.15 140.45 L613.70 140.39 L614.25 140.32 L614.80 140.25 L615.36 140.18 L615.91 140.11 L616.46 140.04 L617.01 139.97 L617.56 139.90 L618.11 139.83 L618.66 139.76 L619.21 139.68 L619.76 139.61 L620.31 139.53 L620.86 139.46 L621.41 139.38 L621.96 139.30 L622.51 139.23 L623.06 139.15 L623.61 139.07 L624.16 138.99 L624.71 138.91 L625.26 138.83 L625.81 138.75 L626.36 138.67 L626.91 138.59 L627.46 138.50 L628.01 138.42 L628.56 138.34 L629.11 138.25 L629.66 138.16 L630.21 138.07 L630.76 137.98 L631.31 137.89 L631.86 137.79 L632.41 137.69 L632.96 137.59 L633.51 137.49 L634.06 137.38 L634.62 137.27 L635.17 137.16 L635.72 137.04 L636.27 136.92 L636.82 136.80 L637.37 136.67 L637.92 136.54 L638.47 136.40 L639.02 136.26 L639.57 136.11 L640.12 135.96 L640.67 135.81 L641.22 135.65 L641.77 135.47 L642.32 135.28 L642.87 135.07 L643.42 134.85 L643.97 134.61 L644.52 134.36 L645.07 134.10 L645.62 133.83 L646.17 133.54 L646.72 133.24 L647.27 132.93 L647.82 132.61 L648.37 132.28 L648.92 131.94 L649.47 131.59 L650.02 131.24 L650.57 130.87 L651.12 130.50 L651.67 130.13 L652.22 129.72 L652.77 129.28 L653.32 128.81 L653.88 128.31 L654.43 127.79 L654.98 127.26 L655.53 126.70 L656.08 126.13 L656.63 125.55 L657.18 124.97 L657.73 124.38 L658.28 123.79 L658.83 123.21 L659.38 122.60 L659.93 121.97 L660.48 121.32 L661.03 120.66 L661.58 119.99 L662.13 119.32 L662.68 118.63 L663.23 117.95 L663.78 117.27 L664.33 116.60 L664.88 115.94 L665.43 115.29 L665.98 114.65 L666.53 114.03 L667.08 113.40 L667.63 112.79 L668.18 112.17 L668.73 111.56 L669.28 110.95 L669.83 110.33 L670.38 109.72 L670.93 109.10 L671.48 108.48 L672.03 107.85 L672.58 107.21 L673.14 106.56 L673.69 105.91 L674.24 105.26 L674.79 104.60 L675.34 103.93 L675.89 103.27 L676.44 102.60 L676.99 101.92 L677.54 101.25 L678.09 100.57 L678.64 99.88 L679.19 99.20 L679.74 98.51 L680.29 97.84 L680.84 97.18 L681.39 96.52 L681.94 95.88 L682.49 95.23 L683.04 94.59 L683.59 93.95 L684.14 93.30 L684.69 92.64 L685.24 91.97 L685.79 91.29 L686.34 90.60 L686.89 89.89 L687.44 89.16 L687.99 88.40 L688.54 87.63 L689.09 86.82 L689.64 85.98 L690.19 85.11 L690.74 84.20 L691.29 83.23 L691.84 82.20 L692.39 81.12 L692.95 79.99 L693.50 78.81 L694.05 77.59 L694.60 76.33 L695.15 75.04 L695.70 73.72 L696.25 72.38 L696.80 71.01 L697.35 69.63 L697.90 68.24 L698.45 66.84 L699.00 65.44 L699.55 64.04 L700.10 62.64 L700.65 61.26 L701.20 59.89 L701.75 58.53 L702.30 57.20 L702.85 55.90 L703.40 54.62 L703.95 53.35 L704.50 52.08 L705.05 50.80 L705.60 49.52 L706.15 48.24 L706.70 46.97 L707.25 45.69 L707.80 44.41 L708.35 43.14 L708.90 41.87 L709.45 40.60 L710.00 39.34 L710.55 38.08 L711.10 36.82 L711.65 35.58 L712.21 34.33 L712.76 33.10 L713.31 31.87 L713.86 30.65 L714.41 29.43 L714.96 28.21 L715.51 26.99 L716.06 25.78 L716.61 24.57 L717.16 23.36 L717.71 22.15 L718.26 20.94 L718.81 19.74 L719.36 18.53 L719.91 17.33 L720.46 16.14 L721.01 14.94 L721.56 13.75 L722.11 12.56 L722.66 11.37 L723.21 10.18 L723.76 9.00 L724.31 7.82 L724.86 6.64 L725.41 5.47 L725.96 4.29 L726.51 3.12 L727.06 1.96 L727.61 0.79 L728.16 -0.37 L728.71 -1.53 L729.26 -2.69 L729.81 -3.84 L730.36 -4.99 L730.91 -6.13 L731.47 -7.28 L732.02 -8.42 L732.57 -9.56 L733.12 -10.69 L733.67 -11.82 L734.22 -12.95 L734.77 -14.07 L735.32 -15.19 L735.87 -16.31 L736.42 -17.42 L736.97 -18.53" stroke="#0000ff" stroke-width="1.8" stroke-dasharray="1.5 2.5"/>
<path d="M574.00 144.63 L574.55 144.58 L575.10 144.52 L575.65 144.47 L576.20 144.41 L576.75 144.34 L577.30 144.28 L577.85 144.22 L578.40 144.15 L578.95 144.08 L579.50 144.01 L580.05 143.94 L580.60 143.86 L581.15 143.79 L581.70 143.71 L582.25 143.63 L582.80 143.55 L583.35 143.47 L583.91 143.39 L584.46 143.30 L585.01 143.22 L585.56 143.13 L586.11 143.04 L586.66 142.95 L587.21 142.86 L587.76 142.77 L588.31 142.68 L588.86 142.58 L589.41 142.49 L589.96 142.39 L590.51 142.29 L591.06 142.19 L591.61 142.09 L592.16 141.99 L592.71 141.89 L593.26 141.79 L593.81 141.68 L594.36 141.58 L594.91 141.47 L595.46 141.37 L596.01 141.26 L596.56 141.15 L597.11 141.04 L597.66 140.93 L598.21 140.83 L598.76 140.71 L599.31 140.60 L599.86 140.49 L600.41 140.38 L600.96 140.27 L601.51 140.15 L602.06 140.03 L602.61 139.90 L603.17 139.77 L603.72 139.64 L604.27 139.51 L604.82 139.37 L605.37 139.24 L605.92 139.10 L606.47 138.95 L607.02 138.81 L607.57 138.66 L608.12 138.51 L608.67 138.36 L609.22 138.21 L609.77 138.06 L610.32 137.90 L610.87 137.75 L611.42 137.59 L611.97 137.43 L612.52 137.27 L613.07 137.11 L613.62 136.95 L614.17 136.78 L614.72 136.62 L615.27 136.45 L615.82 136.28 L616.37 136.11 L616.92 135.93 L617.47 135.75 L618.02 135.57 L618.57 135.39 L619.12 135.21 L619.67 135.02 L620.22 134.84 L620.77 134.65 L621.32 134.46 L621.87 134.27 L622.43 134.07 L622.98 133.88 L623.53 133.68 L624.08 133.48 L624.63 133.28 L625.18 133.08 L625.73 132.88 L626.28 132.67 L626.83 132.47 L627.38 132.26 L627.93 132.05 L628.48 131.84 L629.03 131.64 L629.58 131.43 L630.13 131.22 L630.68 131.01 L631.23 130.81 L631.78 130.60 L632.33 130.39 L632.88 130.18 L633.43 129.97 L633.98 129.76 L634.53 129.55 L635.08 129.33 L635.63 129.12 L636.18 128.90 L636.73 128.68 L637.28 128.46 L637.83 128.24 L638.38 128.02 L638.93 127.79 L639.48 127.56 L640.03 127.33 L640.58 127.10 L641.13 126.86 L641.68 126.62 L642.24 126.37 L642.79 126.12 L643.34 125.87 L643.89 125.62 L644.44 125.36 L644.99 125.09 L645.54 124.82 L646.09 124.55 L646.64 124.27 L647.19 123.99 L647.74 123.71 L648.29 123.41 L648.84 123.12 L649.39 122.81 L649.94 122.51 L650.49 122.19 L651.04 121.86 L651.59 121.51 L652.14 121.15 L652.69 120.77 L653.24 120.38 L653.79 119.97 L654.34 119.55 L654.89 119.12 L655.44 118.67 L655.99 118.21 L656.54 117.72 L657.09 117.17 L657.64 116.57 L658.19 115.93 L658.74 115.27 L659.29 114.62 L659.84 114.00 L660.39 113.42 L660.94 112.90 L661.50 112.47 L662.05 112.09 L662.60 111.75 L663.15 111.42 L663.70 111.12 L664.25 110.84 L664.80 110.58 L665.35 110.33 L665.90 110.09 L666.45 109.87 L667.00 109.65 L667.55 109.44 L668.10 109.23 L668.65 109.02 L669.20 108.81 L669.75 108.60 L670.30 108.38 L670.85 108.15 L671.40 107.91 L671.95 107.65 L672.50 107.38 L673.05 107.10 L673.60 106.79 L674.15 106.46 L674.70 106.10 L675.25 105.72 L675.80 105.30 L676.35 104.81 L676.90 104.25 L677.45 103.64 L678.00 102.98 L678.55 102.27 L679.10 101.52 L679.65 100.74 L680.20 99.93 L680.76 99.09 L681.31 98.23 L681.86 97.36 L682.41 96.49 L682.96 95.61 L683.51 94.74 L684.06 93.87 L684.61 93.02 L685.16 92.19 L685.71 91.39 L686.26 90.62 L686.81 89.89 L687.36 89.17 L687.91 88.45 L688.46 87.74 L689.01 87.04 L689.56 86.34 L690.11 85.64 L690.66 84.95 L691.21 84.26 L691.76 83.58 L692.31 82.89 L692.86 82.21 L693.41 81.52 L693.96 80.84 L694.51 80.15 L695.06 79.46 L695.61 78.77 L696.16 78.08 L696.71 77.39 L697.26 76.69 L697.81 75.98 L698.36 75.28 L698.91 74.59 L699.46 73.89 L700.02 73.21 L700.57 72.52 L701.12 71.84 L701.67 71.16 L702.22 70.47 L702.77 69.79 L703.32 69.11 L703.87 68.42 L704.42 67.73 L704.97 67.04 L705.52 66.34 L706.07 65.64 L706.62 64.93 L707.17 64.21 L707.72 63.48 L708.27 62.75 L708.82 62.00 L709.37 61.25 L709.92 60.48 L710.47 59.70 L711.02 58.91 L711.57 58.10 L712.12 57.28 L712.67 56.45 L713.22 55.60 L713.77 54.75 L714.32 53.88 L714.87 53.00 L715.42 52.11 L715.97 51.21 L716.52 50.29 L717.07 49.36 L717.62 48.42 L718.17 47.47 L718.72 46.50 L719.28 45.52 L719.83 44.53 L720.38 43.52 L720.93 42.50 L721.48 41.47 L722.03 40.42 L722.58 39.36 L723.13 38.29 L723.68 37.20 L724.23 36.09 L724.78 34.97 L725.33 33.84 L725.88 32.69 L726.43 31.53 L726.98 30.35 L727.53 29.16 L728.08 27.96 L728.63 26.74 L729.18 25.50 L729.73 24.25 L730.28 22.99 L730.83 21.72 L731.38 20.43 L731.93 19.12 L732.48 17.80 L733.03 16.47 L733.58 15.13 L734.13 13.77 L734.68 12.39 L735.23 11.01 L735.78 9.61 L736.33 8.19 L736.88 6.76 L737.43 5.32 L737.98 3.87 L738.54 2.40" stroke="#ff0000" stroke-width="1.8"/>
<path d="M576.35 144.63 L576.89 144.58 L577.44 144.53 L577.98 144.47 L578.52 144.41 L579.06 144.35 L579.61 144.29 L580.15 144.22 L580.69 144.16 L581.23 144.09 L581.77 144.02 L582.32 143.95 L582.86 143.88 L583.40 143.80 L583.94 143.73 L584.49 143.65 L585.03 143.57 L585.57 143.49 L586.11 143.41 L586.66 143.33 L587.20 143.24 L587.74 143.16 L588.28 143.07 L588.83 142.98 L589.37 142.89 L589.91 142.80 L590.45 142.71 L591.00 142.62 L591.54 142.52 L592.08 142.43 L592.62 142.33 L593.17 142.24 L593.71 142.14 L594.25 142.04 L594.79 141.94 L595.34 141.84 L595.88 141.74 L596.42 141.63 L596.96 141.53 L597.50 141.43 L598.05 141.32 L598.59 141.21 L599.13 141.11 L599.67 141.00 L600.22 140.89 L600.76 140.79 L601.30 140.68 L601.84 140.57 L602.39 140.46 L602.93 140.35 L603.47 140.23 L604.01 140.11 L604.56 139.99 L605.10 139.87 L605.64 139.74 L606.18 139.61 L606.73 139.48 L607.27 139.35 L607.81 139.21 L608.35 139.07 L608.90 138.93 L609.44 138.79 L609.98 138.65 L610.52 138.50 L611.07 138.35 L611.61 138.20 L612.15 138.05 L612.69 137.90 L613.24 137.74 L613.78 137.59 L614.32 137.43 L614.86 137.27 L615.40 137.12 L615.95 136.96 L616.49 136.79 L617.03 136.63 L617.57 136.46 L618.12 136.30 L618.66 136.13 L619.20 135.95 L619.74 135.78 L620.29 135.60 L620.83 135.42 L621.37 135.24 L621.91 135.06 L622.46 134.88 L623.00 134.69 L623.54 134.51 L624.08 134.32 L624.63 134.13 L625.17 133.93 L625.71 133.74 L626.25 133.54 L626.80 133.35 L627.34 133.15 L627.88 132.95 L628.42 132.75 L628.97 132.55 L629.51 132.34 L630.05 132.14 L630.59 131.93 L631.14 131.73 L631.68 131.52 L632.22 131.32 L632.76 131.11 L633.30 130.91 L633.85 130.70 L634.39 130.50 L634.93 130.29 L635.47 130.09 L636.02 129.88 L636.56 129.67 L637.10 129.46 L637.64 129.25 L638.19 129.04 L638.73 128.83 L639.27 128.61 L639.81 128.39 L640.36 128.17 L640.90 127.95 L641.44 127.73 L641.98 127.50 L642.53 127.27 L643.07 127.04 L643.61 126.80 L644.15 126.56 L644.70 126.32 L645.24 126.08 L645.78 125.83 L646.32 125.58 L646.87 125.32 L647.41 125.06 L647.95 124.79 L648.49 124.52 L649.04 124.25 L649.58 123.97 L650.12 123.69 L650.66 123.40 L651.20 123.11 L651.75 122.81 L652.29 122.51 L652.83 122.20 L653.37 121.87 L653.92 121.53 L654.46 121.17 L655.00 120.80 L655.54 120.42 L656.09 120.02 L656.63 119.60 L657.17 119.17 L657.71 118.73 L658.26 118.28 L658.80 117.81 L659.34 117.28 L659.88 116.69 L660.43 116.07 L660.97 115.42 L661.51 114.78 L662.05 114.15 L662.60 113.57 L663.14 113.04 L663.68 112.59 L664.22 112.21 L664.77 111.86 L665.31 111.53 L665.85 111.23 L666.39 110.94 L666.94 110.68 L667.48 110.43 L668.02 110.19 L668.56 109.96 L669.10 109.74 L669.65 109.53 L670.19 109.32 L670.73 109.12 L671.27 108.91 L671.82 108.71 L672.36 108.49 L672.90 108.27 L673.44 108.04 L673.99 107.80 L674.53 107.54 L675.07 107.27 L675.61 106.98 L676.16 106.67 L676.70 106.34 L677.24 105.98 L677.78 105.59 L678.33 105.15 L678.87 104.65 L679.41 104.09 L679.95 103.47 L680.50 102.80 L681.04 102.10 L681.58 101.35 L682.12 100.57 L682.67 99.76 L683.21 98.93 L683.75 98.08 L684.29 97.23 L684.84 96.36 L685.38 95.50 L685.92 94.64 L686.46 93.79 L687.00 92.95 L687.55 92.14 L688.09 91.35 L688.63 90.59 L689.17 89.87 L689.72 89.16 L690.26 88.45 L690.80 87.75 L691.34 87.06 L691.89 86.37 L692.43 85.68 L692.97 85.00 L693.51 84.32 L694.06 83.64 L694.60 82.97 L695.14 82.29 L695.68 81.62 L696.23 80.94 L696.77 80.27 L697.31 79.59 L697.85 78.91 L698.40 78.23 L698.94 77.54 L699.48 76.86 L700.02 76.16 L700.57 75.47 L701.11 74.78 L701.65 74.10 L702.19 73.42 L702.74 72.75 L703.28 72.07 L703.82 71.40 L704.36 70.73 L704.90 70.05 L705.45 69.38 L705.99 68.71 L706.53 68.03 L707.07 67.35 L707.62 66.66 L708.16 65.97 L708.70 65.27 L709.24 64.57 L709.79 63.86 L710.33 63.14 L710.87 62.41 L711.41 61.67 L711.96 60.92 L712.50 60.16 L713.04 59.39 L713.58 58.60 L714.13 57.80 L714.67 56.98 L715.21 56.16 L715.75 55.32 L716.30 54.48 L716.84 53.62 L717.38 52.75 L717.92 51.87 L718.47 50.97 L719.01 50.07 L719.55 49.15 L720.09 48.22 L720.64 47.28 L721.18 46.32 L721.72 45.35 L722.26 44.37 L722.80 43.38 L723.35 42.37 L723.89 41.35 L724.43 40.32 L724.97 39.27 L725.52 38.21 L726.06 37.13 L726.60 36.04 L727.14 34.94 L727.69 33.82 L728.23 32.69 L728.77 31.55 L729.31 30.39 L729.86 29.21 L730.40 28.03 L730.94 26.82 L731.48 25.61 L732.03 24.38 L732.57 23.14 L733.11 21.88 L733.65 20.61 L734.20 19.33 L734.74 18.03 L735.28 16.72 L735.82 15.40 L736.37 14.06 L736.91 12.71 L737.45 11.34 L737.99 9.97 L738.54 8.58" stroke="#ff0000" stroke-width="1.8" stroke-dasharray="5 3"/>
<path d="M572.82 143.72 L573.38 143.67 L573.93 143.61 L574.48 143.56 L575.03 143.50 L575.58 143.43 L576.13 143.37 L576.68 143.31 L577.23 143.24 L577.78 143.17 L578.33 143.10 L578.88 143.03 L579.43 142.95 L579.98 142.88 L580.53 142.80 L581.08 142.72 L581.63 142.64 L582.18 142.56 L582.73 142.48 L583.28 142.39 L583.83 142.31 L584.38 142.22 L584.93 142.13 L585.48 142.04 L586.03 141.95 L586.58 141.86 L587.13 141.77 L587.68 141.67 L588.23 141.58 L588.78 141.48 L589.33 141.38 L589.88 141.28 L590.43 141.18 L590.98 141.08 L591.53 140.98 L592.08 140.88 L592.63 140.77 L593.19 140.67 L593.74 140.56 L594.29 140.46 L594.84 140.35 L595.39 140.24 L595.94 140.13 L596.49 140.02 L597.04 139.92 L597.59 139.80 L598.14 139.69 L598.69 139.58 L599.24 139.47 L599.79 139.36 L600.34 139.24 L600.89 139.12 L601.44 138.99 L601.99 138.86 L602.54 138.73 L603.09 138.60 L603.64 138.46 L604.19 138.33 L604.74 138.19 L605.29 138.04 L605.84 137.90 L606.39 137.75 L606.94 137.60 L607.49 137.45 L608.04 137.30 L608.59 137.15 L609.14 136.99 L609.69 136.84 L610.24 136.68 L610.79 136.52 L611.34 136.36 L611.89 136.20 L612.45 136.04 L613.00 135.87 L613.55 135.71 L614.10 135.54 L614.65 135.37 L615.20 135.20 L615.75 135.02 L616.30 134.84 L616.85 134.66 L617.40 134.48 L617.95 134.30 L618.50 134.11 L619.05 133.93 L619.60 133.74 L620.15 133.55 L620.70 133.36 L621.25 133.16 L621.80 132.97 L622.35 132.77 L622.90 132.57 L623.45 132.37 L624.00 132.17 L624.55 131.97 L625.10 131.76 L625.65 131.56 L626.20 131.35 L626.75 131.14 L627.30 130.93 L627.85 130.73 L628.40 130.52 L628.95 130.31 L629.50 130.10 L630.05 129.90 L630.60 129.69 L631.15 129.48 L631.71 129.27 L632.26 129.06 L632.81 128.85 L633.36 128.64 L633.91 128.42 L634.46 128.21 L635.01 127.99 L635.56 127.77 L636.11 127.55 L636.66 127.33 L637.21 127.11 L637.76 126.88 L638.31 126.65 L638.86 126.42 L639.41 126.19 L639.96 125.95 L640.51 125.71 L641.06 125.46 L641.61 125.21 L642.16 124.96 L642.71 124.71 L643.26 124.45 L643.81 124.18 L644.36 123.91 L644.91 123.64 L645.46 123.36 L646.01 123.08 L646.56 122.80 L647.11 122.50 L647.66 122.21 L648.21 121.90 L648.76 121.60 L649.31 121.28 L649.86 120.95 L650.41 120.60 L650.97 120.24 L651.52 119.86 L652.07 119.47 L652.62 119.06 L653.17 118.64 L653.72 118.21 L654.27 117.76 L654.82 117.30 L655.37 116.81 L655.92 116.26 L656.47 115.66 L657.02 115.02 L657.57 114.36 L658.12 113.71 L658.67 113.09 L659.22 112.51 L659.77 111.99 L660.32 111.56 L660.87 111.18 L661.42 110.84 L661.97 110.51 L662.52 110.21 L663.07 109.93 L663.62 109.67 L664.17 109.42 L664.72 109.18 L665.27 108.96 L665.82 108.74 L666.37 108.53 L666.92 108.32 L667.47 108.11 L668.02 107.90 L668.57 107.69 L669.12 107.47 L669.67 107.24 L670.23 107.00 L670.78 106.74 L671.33 106.47 L671.88 106.19 L672.43 105.88 L672.98 105.55 L673.53 105.19 L674.08 104.81 L674.63 104.39 L675.18 103.90 L675.73 103.34 L676.28 102.73 L676.83 102.07 L677.38 101.36 L677.93 100.61 L678.48 99.83 L679.03 99.02 L679.58 98.18 L680.13 97.32 L680.68 96.45 L681.23 95.58 L681.78 94.70 L682.33 93.83 L682.88 92.96 L683.43 92.11 L683.98 91.28 L684.53 90.48 L685.08 89.71 L685.63 88.98 L686.18 88.26 L686.73 87.54 L687.28 86.83 L687.83 86.13 L688.38 85.43 L688.93 84.73 L689.49 84.04 L690.04 83.35 L690.59 82.67 L691.14 81.98 L691.69 81.30 L692.24 80.61 L692.79 79.93 L693.34 79.24 L693.89 78.55 L694.44 77.86 L694.99 77.17 L695.54 76.48 L696.09 75.78 L696.64 75.07 L697.19 74.37 L697.74 73.68 L698.29 72.98 L698.84 72.30 L699.39 71.61 L699.94 70.93 L700.49 70.25 L701.04 69.56 L701.59 68.88 L702.14 68.20 L702.69 67.51 L703.24 66.82 L703.79 66.13 L704.34 65.43 L704.89 64.73 L705.44 64.02 L705.99 63.30 L706.54 62.57 L707.09 61.84 L707.64 61.09 L708.19 60.34 L708.74 59.57 L709.30 58.79 L709.85 58.00 L710.40 57.19 L710.95 56.37 L711.50 55.54 L712.05 54.69 L712.60 53.84 L713.15 52.97 L713.70 52.09 L714.25 51.20 L714.80 50.30 L715.35 49.38 L715.90 48.45 L716.45 47.51 L717.00 46.56 L717.55 45.59 L718.10 44.61 L718.65 43.62 L719.20 42.61 L719.75 41.59 L720.30 40.56 L720.85 39.51 L721.40 38.45 L721.95 37.38 L722.50 36.29 L723.05 35.18 L723.60 34.06 L724.15 32.93 L724.70 31.78 L725.25 30.62 L725.80 29.44 L726.35 28.25 L726.90 27.05 L727.45 25.83 L728.00 24.59 L728.56 23.34 L729.11 22.08 L729.66 20.81 L730.21 19.52 L730.76 18.21 L731.31 16.89 L731.86 15.56 L732.41 14.22 L732.96 12.86 L733.51 11.48 L734.06 10.10 L734.61 8.70 L735.16 7.28 L735.71 5.85 L736.26 4.41 L736.81 2.96 L737.36 1.49" stroke="#ff0000" stroke-width="1.8" stroke-dasharray="1.5 2.5"/>
<path d="M574.00 143.45 L574.83 143.12 L575.65 142.78 L576.48 142.43 L577.31 142.06 L578.13 141.69 L578.96 141.31 L579.79 140.91 L580.61 140.50 L581.44 140.09 L582.27 139.67 L583.09 139.23 L583.92 138.79 L584.75 138.34 L585.58 137.88 L586.40 137.41 L587.23 136.94 L588.06 136.46 L588.88 135.97 L589.71 135.47 L590.54 134.97 L591.36 134.47 L592.19 133.95 L593.02 133.43 L593.84 132.90 L594.67 132.36 L595.50 131.81 L596.32 131.25 L597.15 130.67 L597.98 130.08 L598.80 129.47 L599.63 128.84 L600.46 128.20 L601.28 127.53 L602.11 126.85 L602.94 126.14 L603.77 125.40 L604.59 124.64 L605.42 123.85 L606.25 123.03 L607.07 122.16 L607.90 121.23 L608.73 120.26 L609.55 119.25 L610.38 118.19 L611.21 117.09 L612.03 115.96 L612.86 114.79 L613.69 113.58 L614.51 112.35 L615.34 111.09 L616.17 109.80 L616.99 108.50 L617.82 107.17 L618.65 105.82 L619.47 104.46 L620.30 103.07 L621.13 101.62 L621.95 100.12 L622.78 98.56 L623.61 96.96 L624.44 95.32 L625.26 93.64 L626.09 91.92 L626.92 90.16 L627.74 88.38 L628.57 86.57 L629.40 84.74 L630.22 82.89 L631.05 81.01 L631.88 79.06 L632.70 77.02 L633.53 74.93 L634.36 72.79 L635.18 70.61 L636.01 68.42 L636.84 66.23 L637.66 64.05 L638.49 61.89 L639.32 59.78 L640.14 57.72 L640.97 55.73 L641.80 53.81 L642.63 51.95 L643.45 50.13 L644.28 48.33 L645.11 46.56 L645.93 44.78 L646.76 43.00 L647.59 41.20 L648.41 39.36 L649.24 37.47 L650.07 35.52 L650.89 33.49 L651.72 31.38 L652.55 29.17 L653.37 26.91 L654.20 24.64 L655.03 22.36 L655.85 20.06 L656.68 17.74 L657.51 15.41 L658.33 13.06 L659.16 10.70 L659.99 8.32 L660.81 5.92 L661.64 3.51 L662.47 1.08 L663.30 -1.37 L664.12 -3.83 L664.95 -6.31 L665.78 -8.81 L666.60 -11.32 L667.43 -13.85 L668.26 -16.40 L669.08 -18.97 L669.91 -21.55 L670.74 -24.15 L671.56 -26.77 L672.39 -29.41 L673.22 -32.06 L674.04 -34.73 L674.87 -37.42 L675.70 -40.13 L676.52 -42.86 L677.35 -45.61 L678.18 -48.37 L679.00 -51.15 L679.83 -53.95 L680.66 -56.77 L681.49 -59.61 L682.31 -62.47 L683.14 -65.35 L683.97 -68.24 L684.79 -71.16 L685.62 -74.09 L686.45 -77.05 L687.27 -80.02 L688.10 -83.02 L688.93 -86.03 L689.75 -89.07 L690.58 -92.12 L691.41 -95.19 L692.23 -98.29 L693.06 -101.40 L693.89 -104.54 L694.71 -107.69 L695.54 -110.87 L696.37 -114.07 L697.19 -117.28 L698.02 -120.52 L698.85 -123.78 L699.67 -127.06 L700.50 -130.36 L701.33 -133.69 L702.16 -137.03 L702.98 -140.40 L703.81 -143.79 L704.64 -147.20 L705.46 -150.63 L706.29 -154.08 L707.12 -157.56 L707.94 -161.06 L708.77 -164.58 L709.60 -168.12 L710.42 -171.69 L711.25 -175.27 L712.08 -178.88 L712.90 -182.52 L713.73 -186.17 L714.56 -189.85 L715.38 -193.55 L716.21 -197.28 L717.04 -201.03 L717.86 -204.80 L718.69 -208.60 L719.52 -212.41 L720.35 -216.26 L721.17 -220.12 L722.00 -224.01 L722.83 -227.93 L723.65 -231.87 L724.48 -235.83 L725.31 -239.82 L726.13 -243.83 L726.96 -247.87 L727.79 -251.93 L728.61 -256.01 L729.44 -260.12 L730.27 -264.26 L731.09 -268.42 L731.92 -272.60 L732.75 -276.81 L733.57 -281.05 L734.40 -285.31 L735.23 -289.60 L736.05 -293.91 L736.88 -298.25 L737.71 -302.61 L738.54 -307.00" stroke="#000" stroke-width="1.5"/>
</g>
<path d="M652.4 148.0 v-4 M652.4 57.0 v4 M574.0 102.5 h4 M730.7 102.5 h-4" stroke="#222" stroke-width="1.2"/>
<rect x="574.0" y="57.0" width="156.7" height="91.0" fill="none" stroke="#4a4a4a" stroke-width="1.5"/>
<text transform="translate(574.00 162.80) scale(1.120 1.000)" x="0" y="0" font-size="14.3" text-anchor="middle" font-family='"Liberation Sans", sans-serif' fill="#444">0</text>
<text transform="translate(652.35 162.80) scale(1.120 1.000)" x="0" y="0" font-size="14.3" text-anchor="middle" font-family='"Liberation Sans", sans-serif' fill="#444">200</text>
<text transform="translate(730.70 162.80) scale(1.120 1.000)" x="0" y="0" font-size="14.3" text-anchor="middle" font-family='"Liberation Sans", sans-serif' fill="#444">400</text>
<text transform="translate(568.70 153.10) scale(1.100 1.000)" x="0" y="0" font-size="14.3" text-anchor="end" font-family='"Liberation Sans", sans-serif' fill="#444">0</text>
<text transform="translate(568.70 107.60) scale(1.100 1.000)" x="0" y="0" font-size="14.3" text-anchor="end" font-family='"Liberation Sans", sans-serif' fill="#444">0.05</text>
<text transform="translate(568.70 62.10) scale(1.100 1.000)" x="0" y="0" font-size="14.3" text-anchor="end" font-family='"Liberation Sans", sans-serif' fill="#444">0.1</text>
<rect x="530.0" y="516.5" width="219.5" height="116.5" fill="#fff" stroke="none"/>
<path d="M651.6 616.2 V522.6 M571.9 569.4 H731.3" stroke="#222" stroke-width="1.3" stroke-dasharray="1.3 3.3" fill="none"/>
<defs><clipPath id="clipb"><rect x="571.9" y="522.6" width="159.4" height="93.6"/></clipPath></defs>
<g clip-path="url(#clipb)" fill="none">
<path d="M571.90 616.20 L572.46 616.20 L573.02 616.20 L573.58 616.20 L574.14 616.20 L574.70 616.20 L575.26 616.20 L575.82 616.19 L576.38 616.19 L576.94 616.19 L577.50 616.19 L578.06 616.19 L578.62 616.18 L579.18 616.18 L579.74 616.18 L580.30 616.18 L580.86 616.17 L581.42 616.17 L581.98 616.17 L582.54 616.16 L583.10 616.16 L583.66 616.15 L584.21 616.15 L584.77 616.15 L585.33 616.14 L585.89 616.14 L586.45 616.13 L587.01 616.13 L587.57 616.12 L588.13 616.11 L588.69 616.11 L589.25 616.10 L589.81 616.10 L590.37 616.09 L590.93 616.08 L591.49 616.08 L592.05 616.07 L592.61 616.06 L593.17 616.05 L593.73 616.05 L594.29 616.04 L594.85 616.03 L595.41 616.02 L595.97 616.02 L596.53 616.01 L597.09 616.00 L597.65 615.99 L598.21 615.97 L598.77 615.95 L599.33 615.92 L599.89 615.89 L600.45 615.85 L601.01 615.81 L601.57 615.76 L602.13 615.71 L602.69 615.66 L603.25 615.60 L603.81 615.54 L604.37 615.47 L604.93 615.40 L605.49 615.33 L606.05 615.26 L606.61 615.18 L607.17 615.10 L607.73 615.01 L608.28 614.93 L608.84 614.84 L609.40 614.75 L609.96 614.66 L610.52 614.56 L611.08 614.46 L611.64 614.37 L612.20 614.27 L612.76 614.16 L613.32 614.06 L613.88 613.96 L614.44 613.86 L615.00 613.75 L615.56 613.64 L616.12 613.54 L616.68 613.43 L617.24 613.33 L617.80 613.22 L618.36 613.11 L618.92 613.01 L619.48 612.90 L620.04 612.80 L620.60 612.69 L621.16 612.57 L621.72 612.46 L622.28 612.34 L622.84 612.21 L623.40 612.09 L623.96 611.96 L624.52 611.82 L625.08 611.69 L625.64 611.55 L626.20 611.41 L626.76 611.26 L627.32 611.11 L627.88 610.96 L628.44 610.81 L629.00 610.65 L629.56 610.49 L630.12 610.33 L630.68 610.16 L631.24 609.99 L631.79 609.82 L632.35 609.65 L632.91 609.48 L633.47 609.30 L634.03 609.12 L634.59 608.94 L635.15 608.75 L635.71 608.56 L636.27 608.38 L636.83 608.18 L637.39 607.99 L637.95 607.80 L638.51 607.60 L639.07 607.40 L639.63 607.20 L640.19 606.99 L640.75 606.79 L641.31 606.58 L641.87 606.37 L642.43 606.16 L642.99 605.95 L643.55 605.74 L644.11 605.52 L644.67 605.30 L645.23 605.07 L645.79 604.84 L646.35 604.61 L646.91 604.37 L647.47 604.13 L648.03 603.88 L648.59 603.62 L649.15 603.35 L649.71 603.08 L650.27 602.80 L650.83 602.51 L651.39 602.21 L651.95 601.91 L652.51 601.59 L653.07 601.26 L653.63 600.92 L654.19 600.58 L654.75 600.21 L655.31 599.84 L655.86 599.45 L656.42 599.04 L656.98 598.58 L657.54 598.08 L658.10 597.55 L658.66 596.98 L659.22 596.39 L659.78 595.76 L660.34 595.11 L660.90 594.44 L661.46 593.74 L662.02 593.03 L662.58 592.31 L663.14 591.57 L663.70 590.82 L664.26 590.06 L664.82 589.30 L665.38 588.53 L665.94 587.77 L666.50 587.00 L667.06 586.25 L667.62 585.50 L668.18 584.76 L668.74 584.03 L669.30 583.32 L669.86 582.63 L670.42 581.94 L670.98 581.26 L671.54 580.58 L672.10 579.89 L672.66 579.21 L673.22 578.52 L673.78 577.84 L674.34 577.15 L674.90 576.47 L675.46 575.78 L676.02 575.10 L676.58 574.41 L677.14 573.72 L677.70 573.03 L678.26 572.33 L678.82 571.64 L679.38 570.94 L679.93 570.24 L680.49 569.54 L681.05 568.84 L681.61 568.13 L682.17 567.42 L682.73 566.71 L683.29 566.00 L683.85 565.28 L684.41 564.56 L684.97 563.83 L685.53 563.10 L686.09 562.37 L686.65 561.63 L687.21 560.90 L687.77 560.17 L688.33 559.45 L688.89 558.72 L689.45 558.00 L690.01 557.28 L690.57 556.56 L691.13 555.83 L691.69 555.10 L692.25 554.35 L692.81 553.60 L693.37 552.83 L693.93 552.05 L694.49 551.26 L695.05 550.44 L695.61 549.61 L696.17 548.76 L696.73 547.88 L697.29 546.98 L697.85 546.05 L698.41 545.08 L698.97 544.06 L699.53 543.00 L700.09 541.90 L700.65 540.77 L701.21 539.61 L701.77 538.42 L702.33 537.21 L702.89 535.99 L703.44 534.75 L704.00 533.50 L704.56 532.24 L705.12 530.99 L705.68 529.74 L706.24 528.49 L706.80 527.26 L707.36 526.04 L707.92 524.84 L708.48 523.66 L709.04 522.51 L709.60 521.39 L710.16 520.27 L710.72 519.17 L711.28 518.07 L711.84 516.98 L712.40 515.91 L712.96 514.83 L713.52 513.76 L714.08 512.70 L714.64 511.64 L715.20 510.58 L715.76 509.52 L716.32 508.45 L716.88 507.39 L717.44 506.32 L718.00 505.25 L718.56 504.16 L719.12 503.08 L719.68 501.98 L720.24 500.87 L720.80 499.75 L721.36 498.62 L721.92 497.48 L722.48 496.32 L723.04 495.14 L723.60 493.95 L724.16 492.75 L724.72 491.54 L725.28 490.32 L725.84 489.09 L726.40 487.85 L726.96 486.60 L727.51 485.35 L728.07 484.08 L728.63 482.81 L729.19 481.53 L729.75 480.24 L730.31 478.94 L730.87 477.64 L731.43 476.32 L731.99 475.00 L732.55 473.67 L733.11 472.33 L733.67 470.99 L734.23 469.63 L734.79 468.27 L735.35 466.90 L735.91 465.52 L736.47 464.13 L737.03 462.74 L737.59 461.33 L738.15 459.92 L738.71 458.51 L739.27 457.08" stroke="#0000ff" stroke-width="1.8"/>
<path d="M573.10 616.20 L573.65 616.20 L574.21 616.20 L574.76 616.20 L575.32 616.20 L575.87 616.20 L576.43 616.20 L576.99 616.19 L577.54 616.19 L578.10 616.19 L578.65 616.19 L579.21 616.19 L579.76 616.19 L580.32 616.18 L580.88 616.18 L581.43 616.18 L581.99 616.17 L582.54 616.17 L583.10 616.17 L583.66 616.16 L584.21 616.16 L584.77 616.15 L585.32 616.15 L585.88 616.15 L586.43 616.14 L586.99 616.14 L587.55 616.13 L588.10 616.13 L588.66 616.12 L589.21 616.12 L589.77 616.11 L590.32 616.10 L590.88 616.10 L591.44 616.09 L591.99 616.08 L592.55 616.08 L593.10 616.07 L593.66 616.06 L594.21 616.06 L594.77 616.05 L595.33 616.04 L595.88 616.03 L596.44 616.03 L596.99 616.02 L597.55 616.01 L598.11 616.00 L598.66 615.99 L599.22 615.98 L599.77 615.95 L600.33 615.93 L600.88 615.90 L601.44 615.86 L602.00 615.82 L602.55 615.78 L603.11 615.73 L603.66 615.68 L604.22 615.62 L604.77 615.56 L605.33 615.50 L605.89 615.43 L606.44 615.36 L607.00 615.29 L607.55 615.21 L608.11 615.13 L608.66 615.05 L609.22 614.97 L609.78 614.88 L610.33 614.79 L610.89 614.70 L611.44 614.61 L612.00 614.51 L612.55 614.42 L613.11 614.32 L613.67 614.22 L614.22 614.12 L614.78 614.01 L615.33 613.91 L615.89 613.81 L616.45 613.70 L617.00 613.60 L617.56 613.49 L618.11 613.39 L618.67 613.28 L619.22 613.18 L619.78 613.07 L620.34 612.97 L620.89 612.86 L621.45 612.76 L622.00 612.65 L622.56 612.53 L623.11 612.41 L623.67 612.29 L624.23 612.17 L624.78 612.04 L625.34 611.91 L625.89 611.78 L626.45 611.64 L627.00 611.50 L627.56 611.36 L628.12 611.22 L628.67 611.07 L629.23 610.92 L629.78 610.76 L630.34 610.61 L630.90 610.45 L631.45 610.29 L632.01 610.12 L632.56 609.95 L633.12 609.78 L633.67 609.61 L634.23 609.44 L634.79 609.26 L635.34 609.08 L635.90 608.90 L636.45 608.72 L637.01 608.53 L637.56 608.34 L638.12 608.15 L638.68 607.96 L639.23 607.77 L639.79 607.57 L640.34 607.37 L640.90 607.17 L641.45 606.97 L642.01 606.77 L642.57 606.56 L643.12 606.35 L643.68 606.14 L644.23 605.93 L644.79 605.72 L645.35 605.50 L645.90 605.28 L646.46 605.06 L647.01 604.83 L647.57 604.60 L648.12 604.36 L648.68 604.12 L649.24 603.87 L649.79 603.61 L650.35 603.35 L650.90 603.08 L651.46 602.80 L652.01 602.52 L652.57 602.22 L653.13 601.92 L653.68 601.60 L654.24 601.28 L654.79 600.94 L655.35 600.60 L655.90 600.24 L656.46 599.87 L657.02 599.49 L657.57 599.07 L658.13 598.62 L658.68 598.13 L659.24 597.61 L659.80 597.05 L660.35 596.46 L660.91 595.84 L661.46 595.20 L662.02 594.54 L662.57 593.85 L663.13 593.15 L663.69 592.43 L664.24 591.69 L664.80 590.95 L665.35 590.20 L665.91 589.44 L666.46 588.68 L667.02 587.92 L667.58 587.17 L668.13 586.41 L668.69 585.67 L669.24 584.93 L669.80 584.21 L670.35 583.50 L670.91 582.80 L671.47 582.12 L672.02 581.44 L672.58 580.77 L673.13 580.09 L673.69 579.41 L674.25 578.73 L674.80 578.05 L675.36 577.37 L675.91 576.69 L676.47 576.01 L677.02 575.33 L677.58 574.64 L678.14 573.96 L678.69 573.27 L679.25 572.59 L679.80 571.90 L680.36 571.21 L680.91 570.51 L681.47 569.82 L682.03 569.12 L682.58 568.42 L683.14 567.72 L683.69 567.01 L684.25 566.30 L684.80 565.59 L685.36 564.88 L685.92 564.16 L686.47 563.44 L687.03 562.71 L687.58 561.98 L688.14 561.25 L688.70 560.52 L689.25 559.80 L689.81 559.08 L690.36 558.37 L690.92 557.65 L691.47 556.94 L692.03 556.22 L692.59 555.49 L693.14 554.76 L693.70 554.01 L694.25 553.26 L694.81 552.49 L695.36 551.71 L695.92 550.92 L696.48 550.10 L697.03 549.27 L697.59 548.41 L698.14 547.53 L698.70 546.63 L699.25 545.69 L699.81 544.71 L700.37 543.68 L700.92 542.61 L701.48 541.51 L702.03 540.38 L702.59 539.21 L703.15 538.03 L703.70 536.82 L704.26 535.60 L704.81 534.36 L705.37 533.12 L705.92 531.88 L706.48 530.63 L707.04 529.39 L707.59 528.15 L708.15 526.93 L708.70 525.73 L709.26 524.54 L709.81 523.38 L710.37 522.25 L710.93 521.13 L711.48 520.02 L712.04 518.93 L712.59 517.84 L713.15 516.77 L713.70 515.70 L714.26 514.63 L714.82 513.57 L715.37 512.52 L715.93 511.46 L716.48 510.41 L717.04 509.36 L717.60 508.30 L718.15 507.24 L718.71 506.18 L719.26 505.11 L719.82 504.04 L720.37 502.96 L720.93 501.87 L721.49 500.77 L722.04 499.66 L722.60 498.53 L723.15 497.40 L723.71 496.24 L724.26 495.08 L724.82 493.89 L725.38 492.70 L725.93 491.49 L726.49 490.28 L727.04 489.06 L727.60 487.83 L728.15 486.59 L728.71 485.35 L729.27 484.09 L729.82 482.83 L730.38 481.56 L730.93 480.28 L731.49 478.99 L732.05 477.69 L732.60 476.39 L733.16 475.08 L733.71 473.76 L734.27 472.43 L734.82 471.09 L735.38 469.75 L735.94 468.39 L736.49 467.03 L737.05 465.67 L737.60 464.29 L738.16 462.91 L738.71 461.51 L739.27 460.12" stroke="#0000ff" stroke-width="1.8" stroke-dasharray="5 3"/>
<path d="M571.10 615.26 L571.66 615.26 L572.22 615.26 L572.78 615.26 L573.34 615.26 L573.90 615.26 L574.46 615.26 L575.02 615.26 L575.58 615.26 L576.14 615.26 L576.70 615.25 L577.26 615.25 L577.82 615.25 L578.38 615.25 L578.94 615.24 L579.50 615.24 L580.06 615.24 L580.62 615.23 L581.18 615.23 L581.74 615.23 L582.30 615.22 L582.86 615.22 L583.42 615.21 L583.98 615.21 L584.54 615.20 L585.10 615.20 L585.66 615.19 L586.22 615.19 L586.78 615.18 L587.34 615.18 L587.90 615.17 L588.46 615.17 L589.02 615.16 L589.58 615.15 L590.14 615.15 L590.69 615.14 L591.25 615.13 L591.81 615.13 L592.37 615.12 L592.93 615.11 L593.49 615.10 L594.05 615.10 L594.61 615.09 L595.17 615.08 L595.73 615.07 L596.29 615.06 L596.85 615.05 L597.41 615.03 L597.97 615.01 L598.53 614.98 L599.09 614.95 L599.65 614.91 L600.21 614.87 L600.77 614.83 L601.33 614.78 L601.89 614.72 L602.45 614.66 L603.01 614.60 L603.57 614.54 L604.13 614.47 L604.69 614.40 L605.25 614.32 L605.81 614.24 L606.37 614.16 L606.93 614.08 L607.49 613.99 L608.05 613.90 L608.61 613.81 L609.17 613.72 L609.73 613.62 L610.29 613.53 L610.85 613.43 L611.41 613.33 L611.97 613.23 L612.53 613.13 L613.09 613.02 L613.65 612.92 L614.20 612.81 L614.76 612.71 L615.32 612.60 L615.88 612.50 L616.44 612.39 L617.00 612.28 L617.56 612.18 L618.12 612.07 L618.68 611.97 L619.24 611.86 L619.80 611.75 L620.36 611.64 L620.92 611.52 L621.48 611.40 L622.04 611.28 L622.60 611.15 L623.16 611.02 L623.72 610.89 L624.28 610.75 L624.84 610.61 L625.40 610.47 L625.96 610.32 L626.52 610.18 L627.08 610.02 L627.64 609.87 L628.20 609.71 L628.76 609.55 L629.32 609.39 L629.88 609.23 L630.44 609.06 L631.00 608.89 L631.56 608.72 L632.12 608.54 L632.68 608.36 L633.24 608.18 L633.80 608.00 L634.36 607.82 L634.92 607.63 L635.48 607.44 L636.04 607.25 L636.60 607.05 L637.16 606.86 L637.72 606.66 L638.27 606.46 L638.83 606.26 L639.39 606.06 L639.95 605.85 L640.51 605.65 L641.07 605.44 L641.63 605.23 L642.19 605.02 L642.75 604.80 L643.31 604.58 L643.87 604.36 L644.43 604.14 L644.99 603.91 L645.55 603.67 L646.11 603.44 L646.67 603.19 L647.23 602.94 L647.79 602.68 L648.35 602.42 L648.91 602.15 L649.47 601.87 L650.03 601.58 L650.59 601.28 L651.15 600.97 L651.71 600.65 L652.27 600.33 L652.83 599.99 L653.39 599.64 L653.95 599.28 L654.51 598.90 L655.07 598.52 L655.63 598.10 L656.19 597.64 L656.75 597.15 L657.31 596.61 L657.87 596.05 L658.43 595.45 L658.99 594.83 L659.55 594.18 L660.11 593.50 L660.67 592.81 L661.23 592.10 L661.79 591.37 L662.34 590.63 L662.90 589.88 L663.46 589.12 L664.02 588.36 L664.58 587.59 L665.14 586.83 L665.70 586.07 L666.26 585.31 L666.82 584.56 L667.38 583.82 L667.94 583.10 L668.50 582.38 L669.06 581.69 L669.62 581.01 L670.18 580.32 L670.74 579.64 L671.30 578.96 L671.86 578.27 L672.42 577.59 L672.98 576.90 L673.54 576.22 L674.10 575.53 L674.66 574.85 L675.22 574.16 L675.78 573.47 L676.34 572.78 L676.90 572.09 L677.46 571.40 L678.02 570.70 L678.58 570.01 L679.14 569.31 L679.70 568.61 L680.26 567.90 L680.82 567.20 L681.38 566.49 L681.94 565.77 L682.50 565.06 L683.06 564.34 L683.62 563.62 L684.18 562.89 L684.74 562.17 L685.30 561.43 L685.86 560.70 L686.41 559.96 L686.97 559.23 L687.53 558.51 L688.09 557.79 L688.65 557.07 L689.21 556.35 L689.77 555.62 L690.33 554.89 L690.89 554.16 L691.45 553.42 L692.01 552.66 L692.57 551.90 L693.13 551.12 L693.69 550.32 L694.25 549.51 L694.81 548.68 L695.37 547.82 L695.93 546.95 L696.49 546.04 L697.05 545.12 L697.61 544.14 L698.17 543.13 L698.73 542.07 L699.29 540.97 L699.85 539.84 L700.41 538.67 L700.97 537.49 L701.53 536.28 L702.09 535.05 L702.65 533.81 L703.21 532.56 L703.77 531.31 L704.33 530.05 L704.89 528.80 L705.45 527.55 L706.01 526.32 L706.57 525.10 L707.13 523.90 L707.69 522.73 L708.25 521.58 L708.81 520.45 L709.37 519.33 L709.92 518.23 L710.48 517.13 L711.04 516.05 L711.60 514.97 L712.16 513.90 L712.72 512.83 L713.28 511.76 L713.84 510.70 L714.40 509.64 L714.96 508.58 L715.52 507.52 L716.08 506.45 L716.64 505.38 L717.20 504.31 L717.76 503.23 L718.32 502.14 L718.88 501.04 L719.44 499.94 L720.00 498.82 L720.56 497.69 L721.12 496.54 L721.68 495.38 L722.24 494.21 L722.80 493.01 L723.36 491.81 L723.92 490.60 L724.48 489.38 L725.04 488.15 L725.60 486.91 L726.16 485.67 L726.72 484.41 L727.28 483.15 L727.84 481.88 L728.40 480.59 L728.96 479.31 L729.52 478.01 L730.08 476.70 L730.64 475.39 L731.20 474.07 L731.76 472.74 L732.32 471.40 L732.88 470.05 L733.44 468.69 L733.99 467.33 L734.55 465.96 L735.11 464.58 L735.67 463.20 L736.23 461.80 L736.79 460.40 L737.35 458.99 L737.91 457.57 L738.47 456.14" stroke="#0000ff" stroke-width="1.8" stroke-dasharray="1.5 2.5"/>
<path d="M571.90 613.40 L572.46 613.40 L573.02 613.39 L573.58 613.39 L574.14 613.38 L574.70 613.37 L575.26 613.35 L575.82 613.34 L576.38 613.32 L576.94 613.29 L577.50 613.27 L578.06 613.24 L578.62 613.21 L579.18 613.18 L579.74 613.15 L580.30 613.11 L580.86 613.07 L581.42 613.03 L581.98 612.99 L582.54 612.94 L583.10 612.90 L583.66 612.85 L584.21 612.80 L584.77 612.74 L585.33 612.69 L585.89 612.63 L586.45 612.57 L587.01 612.51 L587.57 612.44 L588.13 612.38 L588.69 612.31 L589.25 612.24 L589.81 612.17 L590.37 612.10 L590.93 612.02 L591.49 611.95 L592.05 611.87 L592.61 611.79 L593.17 611.71 L593.73 611.63 L594.29 611.54 L594.85 611.46 L595.41 611.37 L595.97 611.28 L596.53 611.19 L597.09 611.10 L597.65 611.00 L598.21 610.91 L598.77 610.81 L599.33 610.71 L599.89 610.62 L600.45 610.52 L601.01 610.41 L601.57 610.31 L602.13 610.21 L602.69 610.10 L603.25 610.00 L603.81 609.89 L604.37 609.78 L604.93 609.67 L605.49 609.56 L606.05 609.45 L606.61 609.34 L607.17 609.22 L607.73 609.11 L608.28 609.00 L608.84 608.88 L609.40 608.76 L609.96 608.65 L610.52 608.53 L611.08 608.41 L611.64 608.29 L612.20 608.17 L612.76 608.05 L613.32 607.93 L613.88 607.80 L614.44 607.67 L615.00 607.53 L615.56 607.37 L616.12 607.19 L616.68 607.00 L617.24 606.80 L617.80 606.58 L618.36 606.35 L618.92 606.11 L619.48 605.86 L620.04 605.60 L620.60 605.33 L621.16 605.05 L621.72 604.76 L622.28 604.47 L622.84 604.16 L623.40 603.85 L623.96 603.54 L624.52 603.22 L625.08 602.89 L625.64 602.56 L626.20 602.23 L626.76 601.89 L627.32 601.55 L627.88 601.21 L628.44 600.87 L629.00 600.52 L629.56 600.18 L630.12 599.84 L630.68 599.50 L631.24 599.16 L631.79 598.82 L632.35 598.49 L632.91 598.16 L633.47 597.83 L634.03 597.51 L634.59 597.19 L635.15 596.88 L635.71 596.58 L636.27 596.29 L636.83 596.00 L637.39 595.72 L637.95 595.45 L638.51 595.19 L639.07 594.94 L639.63 594.71 L640.19 594.48 L640.75 594.27 L641.31 594.06 L641.87 593.88 L642.43 593.71 L642.99 593.55 L643.55 593.40 L644.11 593.27 L644.67 593.15 L645.23 593.03 L645.79 592.92 L646.35 592.81 L646.91 592.70 L647.47 592.59 L648.03 592.48 L648.59 592.36 L649.15 592.24 L649.71 592.10 L650.27 591.95 L650.83 591.79 L651.39 591.62 L651.95 591.42 L652.51 591.21 L653.07 590.97 L653.63 590.65 L654.19 590.22 L654.75 589.71 L655.31 589.13 L655.86 588.51 L656.42 587.86 L656.98 587.21 L657.54 586.58 L658.10 585.98 L658.66 585.44 L659.22 584.94 L659.78 584.44 L660.34 583.96 L660.90 583.48 L661.46 583.01 L662.02 582.55 L662.58 582.10 L663.14 581.65 L663.70 581.20 L664.26 580.76 L664.82 580.32 L665.38 579.89 L665.94 579.45 L666.50 579.02 L667.06 578.58 L667.62 578.14 L668.18 577.71 L668.74 577.26 L669.30 576.82 L669.86 576.37 L670.42 575.92 L670.98 575.45 L671.54 574.99 L672.10 574.51 L672.66 574.03 L673.22 573.53 L673.78 573.03 L674.34 572.51 L674.90 571.99 L675.46 571.44 L676.02 570.89 L676.58 570.33 L677.14 569.76 L677.70 569.18 L678.26 568.59 L678.82 568.00 L679.38 567.39 L679.93 566.78 L680.49 566.16 L681.05 565.53 L681.61 564.89 L682.17 564.25 L682.73 563.60 L683.29 562.94 L683.85 562.28 L684.41 561.61 L684.97 560.93 L685.53 560.25 L686.09 559.56 L686.65 558.87 L687.21 558.17 L687.77 557.47 L688.33 556.76 L688.89 556.05 L689.45 555.34 L690.01 554.62 L690.57 553.89 L691.13 553.17 L691.69 552.44 L692.25 551.70 L692.81 550.97 L693.37 550.23 L693.93 549.48 L694.49 548.73 L695.05 547.98 L695.61 547.22 L696.17 546.45 L696.73 545.68 L697.29 544.91 L697.85 544.13 L698.41 543.34 L698.97 542.55 L699.53 541.75 L700.09 540.94 L700.65 540.13 L701.21 539.32 L701.77 538.49 L702.33 537.66 L702.89 536.83 L703.44 535.98 L704.00 535.13 L704.56 534.27 L705.12 533.40 L705.68 532.53 L706.24 531.65 L706.80 530.76 L707.36 529.86 L707.92 528.95 L708.48 528.04 L709.04 527.11 L709.60 526.18 L710.16 525.24 L710.72 524.28 L711.28 523.32 L711.84 522.35 L712.40 521.37 L712.96 520.36 L713.52 519.33 L714.08 518.28 L714.64 517.22 L715.20 516.14 L715.76 515.04 L716.32 513.93 L716.88 512.80 L717.44 511.67 L718.00 510.52 L718.56 509.36 L719.12 508.19 L719.68 507.02 L720.24 505.83 L720.80 504.64 L721.36 503.44 L721.92 502.24 L722.48 501.04 L723.04 499.83 L723.60 498.62 L724.16 497.41 L724.72 496.19 L725.28 494.96 L725.84 493.72 L726.40 492.47 L726.96 491.22 L727.51 489.96 L728.07 488.69 L728.63 487.42 L729.19 486.14 L729.75 484.85 L730.31 483.55 L730.87 482.25 L731.43 480.93 L731.99 479.61 L732.55 478.29 L733.11 476.95 L733.67 475.61 L734.23 474.26 L734.79 472.90 L735.35 471.54 L735.91 470.16 L736.47 468.78 L737.03 467.39 L737.59 466.00 L738.15 464.59 L738.71 463.18 L739.27 461.76" stroke="#ff0000" stroke-width="1.8"/>
<path d="M573.10 615.27 L573.65 615.27 L574.21 615.27 L574.76 615.26 L575.32 615.25 L575.87 615.24 L576.43 615.23 L576.99 615.21 L577.54 615.19 L578.10 615.17 L578.65 615.14 L579.21 615.12 L579.76 615.09 L580.32 615.06 L580.88 615.02 L581.43 614.99 L581.99 614.95 L582.54 614.91 L583.10 614.87 L583.66 614.82 L584.21 614.78 L584.77 614.73 L585.32 614.68 L585.88 614.62 L586.43 614.57 L586.99 614.51 L587.55 614.45 L588.10 614.39 L588.66 614.33 L589.21 614.27 L589.77 614.20 L590.32 614.13 L590.88 614.06 L591.44 613.99 L591.99 613.91 L592.55 613.84 L593.10 613.76 L593.66 613.68 L594.21 613.60 L594.77 613.52 L595.33 613.44 L595.88 613.35 L596.44 613.27 L596.99 613.18 L597.55 613.09 L598.11 613.00 L598.66 612.91 L599.22 612.81 L599.77 612.72 L600.33 612.62 L600.88 612.52 L601.44 612.42 L602.00 612.32 L602.55 612.22 L603.11 612.12 L603.66 612.02 L604.22 611.91 L604.77 611.81 L605.33 611.70 L605.89 611.59 L606.44 611.48 L607.00 611.37 L607.55 611.26 L608.11 611.15 L608.66 611.04 L609.22 610.92 L609.78 610.81 L610.33 610.69 L610.89 610.58 L611.44 610.46 L612.00 610.34 L612.55 610.22 L613.11 610.10 L613.67 609.98 L614.22 609.86 L614.78 609.74 L615.33 609.62 L615.89 609.48 L616.45 609.33 L617.00 609.16 L617.56 608.98 L618.11 608.79 L618.67 608.58 L619.22 608.36 L619.78 608.13 L620.34 607.89 L620.89 607.64 L621.45 607.37 L622.00 607.10 L622.56 606.82 L623.11 606.53 L623.67 606.23 L624.23 605.93 L624.78 605.62 L625.34 605.31 L625.89 604.98 L626.45 604.66 L627.00 604.33 L627.56 604.00 L628.12 603.66 L628.67 603.32 L629.23 602.98 L629.78 602.64 L630.34 602.30 L630.90 601.96 L631.45 601.62 L632.01 601.28 L632.56 600.95 L633.12 600.61 L633.67 600.28 L634.23 599.96 L634.79 599.63 L635.34 599.32 L635.90 599.01 L636.45 598.70 L637.01 598.40 L637.56 598.11 L638.12 597.83 L638.68 597.55 L639.23 597.28 L639.79 597.03 L640.34 596.78 L640.90 596.55 L641.45 596.33 L642.01 596.11 L642.57 595.92 L643.12 595.73 L643.68 595.56 L644.23 595.41 L644.79 595.27 L645.35 595.13 L645.90 595.01 L646.46 594.90 L647.01 594.79 L647.57 594.68 L648.12 594.57 L648.68 594.46 L649.24 594.35 L649.79 594.23 L650.35 594.11 L650.90 593.97 L651.46 593.83 L652.01 593.67 L652.57 593.49 L653.13 593.30 L653.68 593.09 L654.24 592.85 L654.79 592.54 L655.35 592.12 L655.90 591.62 L656.46 591.05 L657.02 590.43 L657.57 589.79 L658.13 589.14 L658.68 588.51 L659.24 587.91 L659.80 587.37 L660.35 586.87 L660.91 586.38 L661.46 585.89 L662.02 585.42 L662.57 584.95 L663.13 584.50 L663.69 584.04 L664.24 583.60 L664.80 583.15 L665.35 582.71 L665.91 582.28 L666.46 581.84 L667.02 581.41 L667.58 580.98 L668.13 580.55 L668.69 580.12 L669.24 579.68 L669.80 579.24 L670.35 578.80 L670.91 578.36 L671.47 577.91 L672.02 577.45 L672.58 576.99 L673.13 576.52 L673.69 576.04 L674.25 575.55 L674.80 575.06 L675.36 574.55 L675.91 574.03 L676.47 573.50 L677.02 572.95 L677.58 572.40 L678.14 571.83 L678.69 571.26 L679.25 570.68 L679.80 570.09 L680.36 569.49 L680.91 568.89 L681.47 568.27 L682.03 567.65 L682.58 567.02 L683.14 566.39 L683.69 565.75 L684.25 565.10 L684.80 564.44 L685.36 563.78 L685.92 563.11 L686.47 562.44 L687.03 561.76 L687.58 561.07 L688.14 560.38 L688.70 559.68 L689.25 558.98 L689.81 558.28 L690.36 557.57 L690.92 556.86 L691.47 556.14 L692.03 555.42 L692.59 554.70 L693.14 553.97 L693.70 553.24 L694.25 552.51 L694.81 551.77 L695.36 551.03 L695.92 550.28 L696.48 549.53 L697.03 548.78 L697.59 548.02 L698.14 547.25 L698.70 546.48 L699.25 545.70 L699.81 544.92 L700.37 544.13 L700.92 543.33 L701.48 542.53 L702.03 541.73 L702.59 540.91 L703.15 540.09 L703.70 539.27 L704.26 538.43 L704.81 537.59 L705.37 536.74 L705.92 535.89 L706.48 535.03 L707.04 534.16 L707.59 533.28 L708.15 532.39 L708.70 531.50 L709.26 530.59 L709.81 529.68 L710.37 528.76 L710.93 527.84 L711.48 526.90 L712.04 525.95 L712.59 525.00 L713.15 524.03 L713.70 523.04 L714.26 522.04 L714.82 521.01 L715.37 519.97 L715.93 518.91 L716.48 517.84 L717.04 516.75 L717.60 515.64 L718.15 514.52 L718.71 513.39 L719.26 512.25 L719.82 511.10 L720.37 509.94 L720.93 508.77 L721.49 507.59 L722.04 506.41 L722.60 505.22 L723.15 504.03 L723.71 502.83 L724.26 501.64 L724.82 500.44 L725.38 499.23 L725.93 498.01 L726.49 496.79 L727.04 495.56 L727.60 494.33 L728.15 493.08 L728.71 491.83 L729.27 490.57 L729.82 489.31 L730.38 488.04 L730.93 486.76 L731.49 485.47 L732.05 484.17 L732.60 482.87 L733.16 481.56 L733.71 480.24 L734.27 478.92 L734.82 477.59 L735.38 476.25 L735.94 474.90 L736.49 473.54 L737.05 472.18 L737.60 470.81 L738.16 469.43 L738.71 468.05 L739.27 466.65" stroke="#ff0000" stroke-width="1.8" stroke-dasharray="5 3"/>
<path d="M571.10 611.53 L571.66 611.53 L572.22 611.52 L572.78 611.52 L573.34 611.51 L573.90 611.49 L574.46 611.48 L575.02 611.46 L575.58 611.44 L576.14 611.42 L576.70 611.40 L577.26 611.37 L577.82 611.34 L578.38 611.31 L578.94 611.28 L579.50 611.24 L580.06 611.20 L580.62 611.16 L581.18 611.12 L581.74 611.07 L582.30 611.03 L582.86 610.98 L583.42 610.92 L583.98 610.87 L584.54 610.82 L585.10 610.76 L585.66 610.70 L586.22 610.64 L586.78 610.57 L587.34 610.51 L587.90 610.44 L588.46 610.37 L589.02 610.30 L589.58 610.23 L590.14 610.15 L590.69 610.08 L591.25 610.00 L591.81 609.92 L592.37 609.84 L592.93 609.75 L593.49 609.67 L594.05 609.58 L594.61 609.50 L595.17 609.41 L595.73 609.32 L596.29 609.22 L596.85 609.13 L597.41 609.04 L597.97 608.94 L598.53 608.84 L599.09 608.74 L599.65 608.64 L600.21 608.54 L600.77 608.44 L601.33 608.34 L601.89 608.23 L602.45 608.12 L603.01 608.02 L603.57 607.91 L604.13 607.80 L604.69 607.69 L605.25 607.58 L605.81 607.47 L606.37 607.35 L606.93 607.24 L607.49 607.12 L608.05 607.01 L608.61 606.89 L609.17 606.77 L609.73 606.66 L610.29 606.54 L610.85 606.42 L611.41 606.30 L611.97 606.18 L612.53 606.05 L613.09 605.93 L613.65 605.80 L614.20 605.66 L614.76 605.49 L615.32 605.32 L615.88 605.13 L616.44 604.93 L617.00 604.71 L617.56 604.48 L618.12 604.24 L618.68 603.99 L619.24 603.73 L619.80 603.46 L620.36 603.18 L620.92 602.89 L621.48 602.60 L622.04 602.29 L622.60 601.98 L623.16 601.67 L623.72 601.35 L624.28 601.02 L624.84 600.69 L625.40 600.35 L625.96 600.02 L626.52 599.68 L627.08 599.34 L627.64 598.99 L628.20 598.65 L628.76 598.31 L629.32 597.96 L629.88 597.62 L630.44 597.28 L631.00 596.95 L631.56 596.61 L632.12 596.28 L632.68 595.96 L633.24 595.64 L633.80 595.32 L634.36 595.01 L634.92 594.71 L635.48 594.42 L636.04 594.13 L636.60 593.85 L637.16 593.58 L637.72 593.32 L638.27 593.07 L638.83 592.83 L639.39 592.61 L639.95 592.39 L640.51 592.19 L641.07 592.01 L641.63 591.83 L642.19 591.68 L642.75 591.53 L643.31 591.40 L643.87 591.28 L644.43 591.16 L644.99 591.05 L645.55 590.94 L646.11 590.83 L646.67 590.72 L647.23 590.61 L647.79 590.49 L648.35 590.36 L648.91 590.23 L649.47 590.08 L650.03 589.92 L650.59 589.74 L651.15 589.55 L651.71 589.34 L652.27 589.10 L652.83 588.78 L653.39 588.35 L653.95 587.84 L654.51 587.26 L655.07 586.64 L655.63 585.99 L656.19 585.34 L656.75 584.71 L657.31 584.11 L657.87 583.57 L658.43 583.06 L658.99 582.57 L659.55 582.09 L660.11 581.61 L660.67 581.14 L661.23 580.68 L661.79 580.22 L662.34 579.77 L662.90 579.33 L663.46 578.89 L664.02 578.45 L664.58 578.01 L665.14 577.58 L665.70 577.14 L666.26 576.71 L666.82 576.27 L667.38 575.83 L667.94 575.39 L668.50 574.95 L669.06 574.50 L669.62 574.04 L670.18 573.58 L670.74 573.11 L671.30 572.64 L671.86 572.15 L672.42 571.66 L672.98 571.16 L673.54 570.64 L674.10 570.11 L674.66 569.57 L675.22 569.02 L675.78 568.46 L676.34 567.89 L676.90 567.31 L677.46 566.72 L678.02 566.13 L678.58 565.52 L679.14 564.91 L679.70 564.29 L680.26 563.66 L680.82 563.02 L681.38 562.38 L681.94 561.73 L682.50 561.07 L683.06 560.41 L683.62 559.74 L684.18 559.06 L684.74 558.38 L685.30 557.69 L685.86 557.00 L686.41 556.30 L686.97 555.60 L687.53 554.89 L688.09 554.18 L688.65 553.46 L689.21 552.74 L689.77 552.02 L690.33 551.29 L690.89 550.56 L691.45 549.83 L692.01 549.09 L692.57 548.35 L693.13 547.61 L693.69 546.86 L694.25 546.10 L694.81 545.34 L695.37 544.58 L695.93 543.81 L696.49 543.03 L697.05 542.25 L697.61 541.47 L698.17 540.68 L698.73 539.88 L699.29 539.07 L699.85 538.26 L700.41 537.44 L700.97 536.62 L701.53 535.79 L702.09 534.95 L702.65 534.11 L703.21 533.26 L703.77 532.40 L704.33 531.53 L704.89 530.66 L705.45 529.77 L706.01 528.88 L706.57 527.99 L707.13 527.08 L707.69 526.16 L708.25 525.24 L708.81 524.31 L709.37 523.36 L709.92 522.41 L710.48 521.45 L711.04 520.48 L711.60 519.49 L712.16 518.48 L712.72 517.46 L713.28 516.41 L713.84 515.34 L714.40 514.26 L714.96 513.17 L715.52 512.06 L716.08 510.93 L716.64 509.80 L717.20 508.65 L717.76 507.49 L718.32 506.32 L718.88 505.14 L719.44 503.96 L720.00 502.77 L720.56 501.57 L721.12 500.37 L721.68 499.17 L722.24 497.96 L722.80 496.75 L723.36 495.54 L723.92 494.31 L724.48 493.08 L725.04 491.85 L725.60 490.60 L726.16 489.35 L726.72 488.09 L727.28 486.82 L727.84 485.55 L728.40 484.26 L728.96 482.98 L729.52 481.68 L730.08 480.37 L730.64 479.06 L731.20 477.74 L731.76 476.41 L732.32 475.08 L732.88 473.74 L733.44 472.39 L733.99 471.03 L734.55 469.66 L735.11 468.29 L735.67 466.91 L736.23 465.52 L736.79 464.12 L737.35 462.72 L737.91 461.31 L738.47 459.89" stroke="#ff0000" stroke-width="1.8" stroke-dasharray="1.5 2.5"/>
<path d="M571.90 612.00 L572.74 611.97 L573.58 611.91 L574.42 611.81 L575.26 611.68 L576.11 611.53 L576.95 611.35 L577.79 611.15 L578.63 610.92 L579.47 610.68 L580.31 610.41 L581.15 610.14 L581.99 609.85 L582.83 609.55 L583.67 609.24 L584.52 608.93 L585.36 608.61 L586.20 608.28 L587.04 607.92 L587.88 607.50 L588.72 607.03 L589.56 606.52 L590.40 605.97 L591.24 605.38 L592.09 604.76 L592.93 604.11 L593.77 603.43 L594.61 602.73 L595.45 602.01 L596.29 601.27 L597.13 600.52 L597.97 599.76 L598.81 598.99 L599.65 598.22 L600.50 597.45 L601.34 596.64 L602.18 595.81 L603.02 594.95 L603.86 594.07 L604.70 593.15 L605.54 592.21 L606.38 591.24 L607.22 590.24 L608.07 589.22 L608.91 588.16 L609.75 587.08 L610.59 585.96 L611.43 584.82 L612.27 583.65 L613.11 582.45 L613.95 581.22 L614.79 579.95 L615.63 578.63 L616.48 577.25 L617.32 575.82 L618.16 574.34 L619.00 572.80 L619.84 571.21 L620.68 569.57 L621.52 567.87 L622.36 566.12 L623.20 564.32 L624.05 562.47 L624.89 560.56 L625.73 558.56 L626.57 556.40 L627.41 554.11 L628.25 551.70 L629.09 549.19 L629.93 546.60 L630.77 543.95 L631.61 541.26 L632.46 538.55 L633.30 535.83 L634.14 533.13 L634.98 530.47 L635.82 527.86 L636.66 525.32 L637.50 522.88 L638.34 520.52 L639.18 518.23 L640.03 515.98 L640.87 513.77 L641.71 511.60 L642.55 509.44 L643.39 507.30 L644.23 505.16 L645.07 503.02 L645.91 500.86 L646.75 498.67 L647.59 496.46 L648.44 494.20 L649.28 491.89 L650.12 489.51 L650.96 487.07 L651.80 484.55 L652.64 482.00 L653.48 479.44 L654.32 476.87 L655.16 474.29 L656.01 471.70 L656.85 469.10 L657.69 466.48 L658.53 463.86 L659.37 461.22 L660.21 458.58 L661.05 455.92 L661.89 453.25 L662.73 450.57 L663.58 447.88 L664.42 445.18 L665.26 442.47 L666.10 439.74 L666.94 437.00 L667.78 434.25 L668.62 431.49 L669.46 428.72 L670.30 425.93 L671.14 423.14 L671.99 420.33 L672.83 417.51 L673.67 414.67 L674.51 411.82 L675.35 408.97 L676.19 406.09 L677.03 403.21 L677.87 400.31 L678.71 397.40 L679.56 394.48 L680.40 391.54 L681.24 388.59 L682.08 385.63 L682.92 382.65 L683.76 379.66 L684.60 376.66 L685.44 373.64 L686.28 370.61 L687.12 367.56 L687.97 364.51 L688.81 361.43 L689.65 358.35 L690.49 355.25 L691.33 352.13 L692.17 349.00 L693.01 345.86 L693.85 342.70 L694.69 339.53 L695.54 336.34 L696.38 333.14 L697.22 329.92 L698.06 326.69 L698.90 323.44 L699.74 320.18 L700.58 316.90 L701.42 313.61 L702.26 310.30 L703.10 306.98 L703.95 303.64 L704.79 300.28 L705.63 296.91 L706.47 293.53 L707.31 290.12 L708.15 286.71 L708.99 283.27 L709.83 279.82 L710.67 276.36 L711.52 272.87 L712.36 269.37 L713.20 265.86 L714.04 262.32 L714.88 258.78 L715.72 255.21 L716.56 251.63 L717.40 248.03 L718.24 244.41 L719.08 240.78 L719.93 237.13 L720.77 233.46 L721.61 229.77 L722.45 226.07 L723.29 222.35 L724.13 218.61 L724.97 214.85 L725.81 211.08 L726.65 207.29 L727.50 203.48 L728.34 199.65 L729.18 195.80 L730.02 191.94 L730.86 188.06 L731.70 184.15 L732.54 180.23 L733.38 176.30 L734.22 172.34 L735.06 168.36 L735.91 164.37 L736.75 160.36 L737.59 156.32 L738.43 152.27 L739.27 148.20" stroke="#000" stroke-width="1.5"/>
</g>
<path d="M651.6 616.2 v-4 M651.6 522.6 v4 M571.9 569.4 h4 M731.3 569.4 h-4" stroke="#222" stroke-width="1.2"/>
<rect x="571.9" y="522.6" width="159.4" height="93.6" fill="none" stroke="#4a4a4a" stroke-width="1.5"/>
<text transform="translate(571.90 631.00) scale(1.120 1.000)" x="0" y="0" font-size="14.3" text-anchor="middle" font-family='"Liberation Sans", sans-serif' fill="#444">0</text>
<text transform="translate(651.60 631.00) scale(1.120 1.000)" x="0" y="0" font-size="14.3" text-anchor="middle" font-family='"Liberation Sans", sans-serif' fill="#444">200</text>
<text transform="translate(731.30 631.00) scale(1.120 1.000)" x="0" y="0" font-size="14.3" text-anchor="middle" font-family='"Liberation Sans", sans-serif' fill="#444">400</text>
<text transform="translate(566.60 621.30) scale(1.100 1.000)" x="0" y="0" font-size="14.3" text-anchor="end" font-family='"Liberation Sans", sans-serif' fill="#444">0</text>
<text transform="translate(566.60 574.50) scale(1.100 1.000)" x="0" y="0" font-size="14.3" text-anchor="end" font-family='"Liberation Sans", sans-serif' fill="#444">0.05</text>
<text transform="translate(566.60 527.70) scale(1.100 1.000)" x="0" y="0" font-size="14.3" text-anchor="end" font-family='"Liberation Sans", sans-serif' fill="#444">0.1</text>
<rect x="382.5" y="179.6" width="369.3" height="220.7" fill="#fff" stroke="#222" stroke-width="1.6"/>
<path d="M392.5 193.2 H447.0" stroke="#000" stroke-width="2.6"/>
<rect x="409.9" y="187.1" width="12.2" height="12.2" fill="none" stroke="#000" stroke-width="2.6"/>
<path d="M392.5 219.5 H447.0" stroke="#0000ff" stroke-width="2.6"/>
<path d="M397.5 249.6 H447.0" stroke="#0000ff" stroke-width="2.6" stroke-dasharray="13.5 4.3"/>
<path d="M392.5 284.4 H448.9" stroke="#0000ff" stroke-width="2.6" stroke-dasharray="1.8 5.0"/>
<path d="M392.5 314.5 H447.0" stroke="#ff0000" stroke-width="2.6"/>
<path d="M397.5 344.4 H447.0" stroke="#ff0000" stroke-width="2.6" stroke-dasharray="13.5 4.3"/>
<path d="M392.5 378.6 H448.9" stroke="#ff0000" stroke-width="2.6" stroke-dasharray="1.8 5.0"/>
<text transform="translate(451.70 202.00) scale(1.000 1.050)" x="0" y="0" font-size="17.5" text-anchor="start" font-family='"Liberation Sans", sans-serif' textLength="71.3" lengthAdjust="spacingAndGlyphs" fill="#262626">eNB-only</text>
<text transform="translate(450.90 226.30) scale(1.000 1.050)" x="0" y="0" font-size="17.5" text-anchor="start" font-family='"Liberation Sans", sans-serif' textLength="220.8" lengthAdjust="spacingAndGlyphs" fill="#262626">4-Step Optimization (FCPC)</text>
<text transform="translate(451.50 254.70) scale(1.000 1.050)" x="0" y="0" font-size="17.5" text-anchor="start" font-family='"Liberation Sans", sans-serif' textLength="202.5" lengthAdjust="spacingAndGlyphs" fill="#262626">Taguchi&#39;s method (FCPC):</text>
<text transform="translate(669.60 254.70) scale(1.000 1.050)" x="0" y="0" font-size="17.5" text-anchor="start" font-family='"Liberation Sans", sans-serif' textLength="24.3" lengthAdjust="spacingAndGlyphs" fill="#262626">y =</text>
<text x="699.7" y="254.7" font-size="19.0" text-anchor="start" font-family='"Liberation Serif", serif' fill="#262626">&#915;</text>
<text x="709.7" y="263.0" font-size="14.5" text-anchor="start" font-family='"Liberation Sans", sans-serif' textLength="22.4" lengthAdjust="spacingAndGlyphs" fill="#262626">5%</text>
<text transform="translate(452.00 288.40) scale(1.000 1.050)" x="0" y="0" font-size="17.5" text-anchor="start" font-family='"Liberation Sans", sans-serif' textLength="220.9" lengthAdjust="spacingAndGlyphs" fill="#262626">Simulated annealing (FCPC)</text>
<text transform="translate(680.50 288.40) scale(1.000 1.050)" x="0" y="0" font-size="17.5" text-anchor="start" font-family='"Liberation Sans", sans-serif' textLength="24.2" lengthAdjust="spacingAndGlyphs" fill="#262626">y =</text>
<text x="711.2" y="288.4" font-size="19.0" text-anchor="start" font-family='"Liberation Serif", serif' fill="#262626">&#915;</text>
<text x="721.0" y="296.7" font-size="14.5" text-anchor="start" font-family='"Liberation Sans", sans-serif' textLength="21.4" lengthAdjust="spacingAndGlyphs" fill="#262626">5%</text>
<text transform="translate(451.10 322.90) scale(1.000 1.050)" x="0" y="0" font-size="17.5" text-anchor="start" font-family='"Liberation Sans", sans-serif' textLength="208.4" lengthAdjust="spacingAndGlyphs" fill="#262626">4-Step Optimization (FPC)</text>
<text transform="translate(451.50 349.80) scale(1.000 1.050)" x="0" y="0" font-size="17.5" text-anchor="start" font-family='"Liberation Sans", sans-serif' textLength="188.0" lengthAdjust="spacingAndGlyphs" fill="#262626">Taguchi&#39;s method (FPC)</text>
<text transform="translate(645.70 349.80) scale(1.000 1.050)" x="0" y="0" font-size="17.5" text-anchor="start" font-family='"Liberation Sans", sans-serif' textLength="24.3" lengthAdjust="spacingAndGlyphs" fill="#262626">y =</text>
<text x="676.6" y="349.8" font-size="19.0" text-anchor="start" font-family='"Liberation Serif", serif' fill="#262626">&#915;</text>
<text x="686.7" y="358.1" font-size="14.5" text-anchor="start" font-family='"Liberation Sans", sans-serif' textLength="21.9" lengthAdjust="spacingAndGlyphs" fill="#262626">5%</text>
<text transform="translate(452.00 385.10) scale(1.000 1.050)" x="0" y="0" font-size="17.5" text-anchor="start" font-family='"Liberation Sans", sans-serif' textLength="209.1" lengthAdjust="spacingAndGlyphs" fill="#262626">Simulated annealing (FPC)</text>
<text transform="translate(667.30 385.10) scale(1.000 1.050)" x="0" y="0" font-size="17.5" text-anchor="start" font-family='"Liberation Sans", sans-serif' textLength="24.3" lengthAdjust="spacingAndGlyphs" fill="#262626">y =</text>
<text x="698.2" y="385.1" font-size="19.0" text-anchor="start" font-family='"Liberation Serif", serif' fill="#262626">&#915;</text>
<text x="708.3" y="393.4" font-size="14.5" text-anchor="start" font-family='"Liberation Sans", sans-serif' textLength="21.3" lengthAdjust="spacingAndGlyphs" fill="#262626">5%</text>
<rect x="379.6" y="644.9" width="371.2" height="220.5" fill="#fff" stroke="#222" stroke-width="1.6"/>
<path d="M389.6 659.0 H444.1" stroke="#000" stroke-width="2.6"/>
<rect x="409.7" y="652.9" width="12.2" height="12.2" fill="none" stroke="#000" stroke-width="2.6"/>
<path d="M389.6 684.7 H444.1" stroke="#0000ff" stroke-width="2.6"/>
<path d="M394.6 714.6 H444.1" stroke="#0000ff" stroke-width="2.6" stroke-dasharray="13.5 4.3"/>
<path d="M389.6 750.0 H446.0" stroke="#0000ff" stroke-width="2.6" stroke-dasharray="1.8 5.0"/>
<path d="M389.6 779.5 H444.1" stroke="#ff0000" stroke-width="2.6"/>
<path d="M394.6 809.1 H444.1" stroke="#ff0000" stroke-width="2.6" stroke-dasharray="13.5 4.3"/>
<path d="M389.6 843.4 H446.0" stroke="#ff0000" stroke-width="2.6" stroke-dasharray="1.8 5.0"/>
<text transform="translate(450.70 666.80) scale(1.000 1.050)" x="0" y="0" font-size="17.5" text-anchor="start" font-family='"Liberation Sans", sans-serif' textLength="71.3" lengthAdjust="spacingAndGlyphs" fill="#262626">eNB-only</text>
<text transform="translate(450.30 691.10) scale(1.000 1.050)" x="0" y="0" font-size="17.5" text-anchor="start" font-family='"Liberation Sans", sans-serif' textLength="213.3" lengthAdjust="spacingAndGlyphs" fill="#262626">4-step optimization (FCPC)</text>
<text transform="translate(450.50 719.50) scale(1.000 1.050)" x="0" y="0" font-size="17.5" text-anchor="start" font-family='"Liberation Sans", sans-serif' textLength="204.2" lengthAdjust="spacingAndGlyphs" fill="#262626">Taguchi&#39;s method (FCPC):</text>
<text transform="translate(668.40 719.50) scale(1.000 1.050)" x="0" y="0" font-size="17.5" text-anchor="start" font-family='"Liberation Sans", sans-serif' textLength="23.8" lengthAdjust="spacingAndGlyphs" fill="#262626">y =</text>
<text x="698.6" y="719.5" font-size="19.0" text-anchor="start" font-family='"Liberation Serif", serif' fill="#262626">&#915;</text>
<text x="708.8" y="727.8" font-size="14.5" text-anchor="start" font-family='"Liberation Sans", sans-serif' textLength="20.4" lengthAdjust="spacingAndGlyphs" fill="#262626">HM</text>
<text transform="translate(450.50 753.50) scale(1.000 1.050)" x="0" y="0" font-size="17.5" text-anchor="start" font-family='"Liberation Sans", sans-serif' textLength="222.0" lengthAdjust="spacingAndGlyphs" fill="#262626">Simulated annealing (FCPC)</text>
<text transform="translate(679.30 753.50) scale(1.000 1.050)" x="0" y="0" font-size="17.5" text-anchor="start" font-family='"Liberation Sans", sans-serif' textLength="24.3" lengthAdjust="spacingAndGlyphs" fill="#262626">y =</text>
<text x="709.4" y="753.5" font-size="19.0" text-anchor="start" font-family='"Liberation Serif", serif' fill="#262626">&#915;</text>
<text x="719.6" y="761.8" font-size="14.5" text-anchor="start" font-family='"Liberation Sans", sans-serif' textLength="21.4" lengthAdjust="spacingAndGlyphs" fill="#262626">HM</text>
<text transform="translate(450.30 787.80) scale(1.000 1.050)" x="0" y="0" font-size="17.5" text-anchor="start" font-family='"Liberation Sans", sans-serif' textLength="200.6" lengthAdjust="spacingAndGlyphs" fill="#262626">4-step optimization (FPC)</text>
<text transform="translate(450.50 814.40) scale(1.000 1.050)" x="0" y="0" font-size="17.5" text-anchor="start" font-family='"Liberation Sans", sans-serif' textLength="192.8" lengthAdjust="spacingAndGlyphs" fill="#262626">Taguchi&#39;s method (FPC):</text>
<text transform="translate(655.30 814.40) scale(1.000 1.050)" x="0" y="0" font-size="17.5" text-anchor="start" font-family='"Liberation Sans", sans-serif' textLength="24.8" lengthAdjust="spacingAndGlyphs" fill="#262626">y =</text>
<text x="685.5" y="814.4" font-size="19.0" text-anchor="start" font-family='"Liberation Serif", serif' fill="#262626">&#915;</text>
<text x="695.6" y="822.7" font-size="14.5" text-anchor="start" font-family='"Liberation Sans", sans-serif' textLength="22.0" lengthAdjust="spacingAndGlyphs" fill="#262626">HM</text>
<text transform="translate(450.50 849.30) scale(1.000 1.050)" x="0" y="0" font-size="17.5" text-anchor="start" font-family='"Liberation Sans", sans-serif' textLength="209.3" lengthAdjust="spacingAndGlyphs" fill="#262626">Simulated annealing (FPC)</text>
<text transform="translate(666.00 849.30) scale(1.000 1.050)" x="0" y="0" font-size="17.5" text-anchor="start" font-family='"Liberation Sans", sans-serif' textLength="24.3" lengthAdjust="spacingAndGlyphs" fill="#262626">y =</text>
<text x="696.9" y="849.3" font-size="19.0" text-anchor="start" font-family='"Liberation Serif", serif' fill="#262626">&#915;</text>
<text x="707.0" y="857.6" font-size="14.5" text-anchor="start" font-family='"Liberation Sans", sans-serif' textLength="21.3" lengthAdjust="spacingAndGlyphs" fill="#262626">HM</text>
<circle cx="459.4" cy="83.8" r="16.4" fill="none" stroke="#000" stroke-width="3.2" stroke-dasharray="3 3.45"/>
<path d="M471.2 98.4 L498.5 132.0" stroke="#000" stroke-width="3.1"/>
<text x="480.1" y="160.6" font-size="23.5" font-weight="bold" font-family='"Liberation Sans", sans-serif' textLength="49" lengthAdjust="spacingAndGlyphs">FPC</text>
<circle cx="455.2" cy="557.3" r="16.4" fill="none" stroke="#000" stroke-width="3.2" stroke-dasharray="3 3.45"/>
<path d="M466.6 571.9 L493.6 605.5" stroke="#000" stroke-width="3.1"/>
<text x="475.9" y="634.8" font-size="23.5" font-weight="bold" font-family='"Liberation Sans", sans-serif' textLength="49" lengthAdjust="spacingAndGlyphs">FPC</text>
<text x="418.0" y="458.0" font-size="21.0" text-anchor="middle" font-family='"Liberation Sans", sans-serif' textLength="125.5" lengthAdjust="spacingAndGlyphs" fill="#111">UE TP [kbps]</text>
<text x="419.2" y="926.0" font-size="21.0" text-anchor="middle" font-family='"Liberation Sans", sans-serif' textLength="125.5" lengthAdjust="spacingAndGlyphs" fill="#111">UE TP [kbps]</text>
<text transform="translate(30 210.3) rotate(-90)" x="0" y="0" font-size="23" text-anchor="middle" font-family='"Liberation Sans", sans-serif' fill="#111">CDF</text>
<text transform="translate(33 675.7) rotate(-90)" x="0" y="0" font-size="23" text-anchor="middle" font-family='"Liberation Sans", sans-serif' fill="#111">CDF</text>
<text transform="translate(14.20 441.80) scale(1.070 1.000)" x="0" y="0" font-size="38.5" text-anchor="start" font-family='"Liberation Serif", serif' fill="#000">(a)</text>
<text transform="translate(14.40 901.80) scale(1.070 1.000)" x="0" y="0" font-size="38.5" text-anchor="start" font-family='"Liberation Serif", serif' fill="#000">(b)</text>
</svg></body></html>
